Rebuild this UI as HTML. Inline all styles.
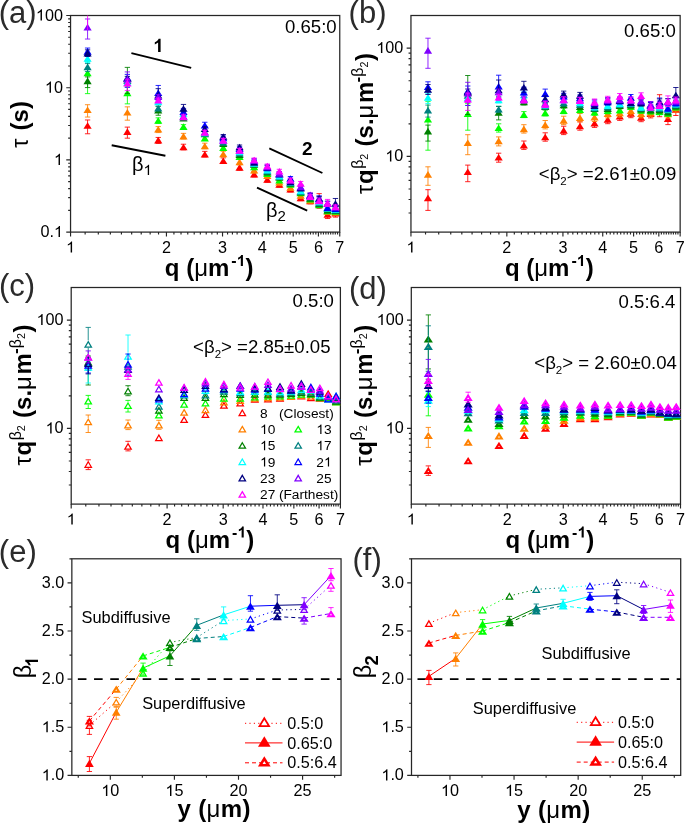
<!DOCTYPE html>
<html><head><meta charset="utf-8"><style>
html,body{margin:0;padding:0;background:#fff;}
svg{display:block;will-change:transform;}
svg text{font-family:"Liberation Sans",sans-serif;}
</style></head><body>
<svg width="685" height="824" viewBox="0 0 685 824">
<rect width="685" height="824" fill="#fff"/>
<path d="M85.13,232.10V234.50M98.31,232.10V234.50M110.35,232.10V234.50M121.42,232.10V234.50M131.67,232.10V234.50M141.22,232.10V234.50M150.15,232.10V234.50M158.53,232.10V234.50M173.92,232.10V234.50M181.02,232.10V234.50M187.77,232.10V234.50M194.20,232.10V234.50M200.35,232.10V234.50M206.24,232.10V234.50M211.89,232.10V234.50M217.31,232.10V234.50M227.56,232.10V234.50M232.42,232.10V234.50M237.11,232.10V234.50M241.65,232.10V234.50M246.04,232.10V234.50M250.29,232.10V234.50M254.42,232.10V234.50M258.43,232.10V234.50M266.12,232.10V234.50M269.81,232.10V234.50M273.41,232.10V234.50M276.91,232.10V234.50M280.32,232.10V234.50M283.66,232.10V234.50M286.91,232.10V234.50M290.09,232.10V234.50M296.24,232.10V234.50M299.22,232.10V234.50M302.13,232.10V234.50M304.98,232.10V234.50M307.78,232.10V234.50M310.52,232.10V234.50M313.20,232.10V234.50M315.84,232.10V234.50M320.96,232.10V234.50M323.46,232.10V234.50M325.90,232.10V234.50M328.31,232.10V234.50M330.68,232.10V234.50M333.00,232.10V234.50M335.29,232.10V234.50M337.54,232.10V234.50M70.55,210.37H68.15M70.55,197.65H68.15M70.55,188.63H68.15M70.55,181.63H68.15M70.55,175.92H68.15M70.55,171.08H68.15M70.55,166.90H68.15M70.55,163.20H68.15M70.55,138.17H68.15M70.55,125.45H68.15M70.55,116.43H68.15M70.55,109.43H68.15M70.55,103.72H68.15M70.55,98.88H68.15M70.55,94.70H68.15M70.55,91.00H68.15M70.55,65.97H68.15M70.55,53.25H68.15M70.55,44.23H68.15M70.55,37.23H68.15M70.55,31.52H68.15M70.55,26.68H68.15M70.55,22.50H68.15M70.55,18.80H68.15M70.55,232.10V236.40M166.44,232.10V236.40M222.53,232.10V236.40M262.33,232.10V236.40M293.20,232.10V236.40M318.42,232.10V236.40M339.75,232.10V236.40M70.55,232.10H66.25M70.55,159.90H66.25M70.55,87.70H66.25M70.55,15.50H66.25" stroke="#262626" stroke-width="1.15" fill="none"/>
<rect x="70.55" y="15.50" width="269.20" height="216.60" stroke="#262626" stroke-width="1.25" fill="none"/>
<path d="M425.53,232.10V234.50M438.71,232.10V234.50M450.75,232.10V234.50M461.82,232.10V234.50M472.07,232.10V234.50M481.62,232.10V234.50M490.55,232.10V234.50M498.93,232.10V234.50M514.32,232.10V234.50M521.42,232.10V234.50M528.17,232.10V234.50M534.60,232.10V234.50M540.75,232.10V234.50M546.64,232.10V234.50M552.29,232.10V234.50M557.71,232.10V234.50M567.96,232.10V234.50M572.82,232.10V234.50M577.51,232.10V234.50M582.05,232.10V234.50M586.44,232.10V234.50M590.69,232.10V234.50M594.82,232.10V234.50M598.83,232.10V234.50M606.52,232.10V234.50M610.21,232.10V234.50M613.81,232.10V234.50M617.31,232.10V234.50M620.72,232.10V234.50M624.06,232.10V234.50M627.31,232.10V234.50M630.49,232.10V234.50M636.64,232.10V234.50M639.62,232.10V234.50M642.53,232.10V234.50M645.38,232.10V234.50M648.18,232.10V234.50M650.92,232.10V234.50M653.60,232.10V234.50M656.24,232.10V234.50M661.36,232.10V234.50M663.86,232.10V234.50M666.30,232.10V234.50M668.71,232.10V234.50M671.08,232.10V234.50M673.40,232.10V234.50M675.69,232.10V234.50M677.94,232.10V234.50M410.95,213.03H408.55M410.95,199.50H408.55M410.95,189.00H408.55M410.95,180.43H408.55M410.95,173.18H408.55M410.95,166.90H408.55M410.95,161.36H408.55M410.95,123.80H408.55M410.95,104.73H408.55M410.95,91.20H408.55M410.95,80.70H408.55M410.95,72.13H408.55M410.95,64.88H408.55M410.95,58.60H408.55M410.95,53.06H408.55M410.95,232.10V236.40M506.84,232.10V236.40M562.93,232.10V236.40M602.73,232.10V236.40M633.60,232.10V236.40M658.82,232.10V236.40M680.15,232.10V236.40M410.95,156.40H406.65M410.95,48.10H406.65" stroke="#262626" stroke-width="1.15" fill="none"/>
<rect x="410.95" y="15.50" width="269.20" height="216.60" stroke="#262626" stroke-width="1.25" fill="none"/>
<path d="M85.78,504.10V506.50M98.96,504.10V506.50M111.00,504.10V506.50M122.07,504.10V506.50M132.32,504.10V506.50M141.87,504.10V506.50M150.80,504.10V506.50M159.18,504.10V506.50M174.57,504.10V506.50M181.67,504.10V506.50M188.42,504.10V506.50M194.85,504.10V506.50M201.00,504.10V506.50M206.89,504.10V506.50M212.54,504.10V506.50M217.96,504.10V506.50M228.21,504.10V506.50M233.07,504.10V506.50M237.76,504.10V506.50M242.30,504.10V506.50M246.69,504.10V506.50M250.94,504.10V506.50M255.07,504.10V506.50M259.08,504.10V506.50M266.77,504.10V506.50M270.46,504.10V506.50M274.06,504.10V506.50M277.56,504.10V506.50M280.97,504.10V506.50M284.31,504.10V506.50M287.56,504.10V506.50M290.74,504.10V506.50M296.89,504.10V506.50M299.87,504.10V506.50M302.78,504.10V506.50M305.63,504.10V506.50M308.43,504.10V506.50M311.17,504.10V506.50M313.85,504.10V506.50M316.49,504.10V506.50M321.61,504.10V506.50M324.11,504.10V506.50M326.55,504.10V506.50M328.96,504.10V506.50M331.33,504.10V506.50M333.65,504.10V506.50M335.94,504.10V506.50M338.19,504.10V506.50M71.20,485.03H68.80M71.20,471.50H68.80M71.20,461.00H68.80M71.20,452.43H68.80M71.20,445.18H68.80M71.20,438.90H68.80M71.20,433.36H68.80M71.20,395.80H68.80M71.20,376.73H68.80M71.20,363.20H68.80M71.20,352.70H68.80M71.20,344.13H68.80M71.20,336.88H68.80M71.20,330.60H68.80M71.20,325.06H68.80M71.20,504.10V508.40M167.09,504.10V508.40M223.18,504.10V508.40M262.98,504.10V508.40M293.85,504.10V508.40M319.07,504.10V508.40M340.40,504.10V508.40M71.20,428.40H66.90M71.20,320.10H66.90" stroke="#262626" stroke-width="1.15" fill="none"/>
<rect x="71.20" y="287.50" width="269.20" height="216.60" stroke="#262626" stroke-width="1.25" fill="none"/>
<path d="M425.88,504.10V506.50M439.06,504.10V506.50M451.10,504.10V506.50M462.17,504.10V506.50M472.42,504.10V506.50M481.97,504.10V506.50M490.90,504.10V506.50M499.28,504.10V506.50M514.67,504.10V506.50M521.77,504.10V506.50M528.52,504.10V506.50M534.95,504.10V506.50M541.10,504.10V506.50M546.99,504.10V506.50M552.64,504.10V506.50M558.06,504.10V506.50M568.31,504.10V506.50M573.17,504.10V506.50M577.86,504.10V506.50M582.40,504.10V506.50M586.79,504.10V506.50M591.04,504.10V506.50M595.17,504.10V506.50M599.18,504.10V506.50M606.87,504.10V506.50M610.56,504.10V506.50M614.16,504.10V506.50M617.66,504.10V506.50M621.07,504.10V506.50M624.41,504.10V506.50M627.66,504.10V506.50M630.84,504.10V506.50M636.99,504.10V506.50M639.97,504.10V506.50M642.88,504.10V506.50M645.73,504.10V506.50M648.53,504.10V506.50M651.27,504.10V506.50M653.95,504.10V506.50M656.59,504.10V506.50M661.71,504.10V506.50M664.21,504.10V506.50M666.65,504.10V506.50M669.06,504.10V506.50M671.43,504.10V506.50M673.75,504.10V506.50M676.04,504.10V506.50M678.29,504.10V506.50M411.30,485.03H408.90M411.30,471.50H408.90M411.30,461.00H408.90M411.30,452.43H408.90M411.30,445.18H408.90M411.30,438.90H408.90M411.30,433.36H408.90M411.30,395.80H408.90M411.30,376.73H408.90M411.30,363.20H408.90M411.30,352.70H408.90M411.30,344.13H408.90M411.30,336.88H408.90M411.30,330.60H408.90M411.30,325.06H408.90M411.30,504.10V508.40M507.19,504.10V508.40M563.28,504.10V508.40M603.08,504.10V508.40M633.95,504.10V508.40M659.17,504.10V508.40M680.50,504.10V508.40M411.30,428.40H407.00M411.30,320.10H407.00" stroke="#262626" stroke-width="1.15" fill="none"/>
<rect x="411.30" y="287.50" width="269.20" height="216.60" stroke="#262626" stroke-width="1.25" fill="none"/>
<path d="M78.26,775.40V777.80M142.35,775.40V777.80M206.45,775.40V777.80M270.55,775.40V777.80M334.64,775.40V777.80M71.85,751.33H69.45M71.85,703.20H69.45M71.85,655.07H69.45M71.85,606.93H69.45M71.85,558.80H69.45M110.31,775.40V779.70M174.40,775.40V779.70M238.50,775.40V779.70M302.59,775.40V779.70M71.85,775.40H67.55M71.85,727.27H67.55M71.85,679.13H67.55M71.85,631.00H67.55M71.85,582.87H67.55" stroke="#262626" stroke-width="1.15" fill="none"/>
<rect x="71.85" y="558.80" width="269.20" height="216.60" stroke="#262626" stroke-width="1.25" fill="none"/>
<path d="M417.91,775.40V777.80M482.00,775.40V777.80M546.10,775.40V777.80M610.20,775.40V777.80M674.29,775.40V777.80M411.50,751.33H409.10M411.50,703.20H409.10M411.50,655.07H409.10M411.50,606.93H409.10M411.50,558.80H409.10M449.96,775.40V779.70M514.05,775.40V779.70M578.15,775.40V779.70M642.24,775.40V779.70M411.50,775.40H407.20M411.50,727.27H407.20M411.50,679.13H407.20M411.50,631.00H407.20M411.50,582.87H407.20" stroke="#262626" stroke-width="1.15" fill="none"/>
<rect x="411.50" y="558.80" width="269.20" height="216.60" stroke="#262626" stroke-width="1.25" fill="none"/>
<path transform="translate(66.05,252.60) scale(0.00791,-0.00760)" d="M763 0H583V1147C540 1106 483 1064 413 1023C343 982 280 951 224 930V1104C325 1151 413 1208 489 1275C565 1342 619 1407 651 1466H763Z" fill="#000"/>
<text x="166.44" y="252.60" font-size="16.2" text-anchor="middle" font-weight="normal" fill="#000" >2</text>
<text x="222.53" y="252.60" font-size="16.2" text-anchor="middle" font-weight="normal" fill="#000" >3</text>
<text x="262.33" y="252.60" font-size="16.2" text-anchor="middle" font-weight="normal" fill="#000" >4</text>
<text x="293.20" y="252.60" font-size="16.2" text-anchor="middle" font-weight="normal" fill="#000" >5</text>
<text x="318.42" y="252.60" font-size="16.2" text-anchor="middle" font-weight="normal" fill="#000" >6</text>
<text x="339.75" y="252.60" font-size="16.2" text-anchor="middle" font-weight="normal" fill="#000" >7</text>
<path transform="translate(406.45,252.60) scale(0.00791,-0.00760)" d="M763 0H583V1147C540 1106 483 1064 413 1023C343 982 280 951 224 930V1104C325 1151 413 1208 489 1275C565 1342 619 1407 651 1466H763Z" fill="#000"/>
<text x="506.84" y="252.60" font-size="16.2" text-anchor="middle" font-weight="normal" fill="#000" >2</text>
<text x="562.93" y="252.60" font-size="16.2" text-anchor="middle" font-weight="normal" fill="#000" >3</text>
<text x="602.73" y="252.60" font-size="16.2" text-anchor="middle" font-weight="normal" fill="#000" >4</text>
<text x="633.60" y="252.60" font-size="16.2" text-anchor="middle" font-weight="normal" fill="#000" >5</text>
<text x="658.82" y="252.60" font-size="16.2" text-anchor="middle" font-weight="normal" fill="#000" >6</text>
<text x="680.15" y="252.60" font-size="16.2" text-anchor="middle" font-weight="normal" fill="#000" >7</text>
<path transform="translate(66.70,524.60) scale(0.00791,-0.00760)" d="M763 0H583V1147C540 1106 483 1064 413 1023C343 982 280 951 224 930V1104C325 1151 413 1208 489 1275C565 1342 619 1407 651 1466H763Z" fill="#000"/>
<text x="167.09" y="524.60" font-size="16.2" text-anchor="middle" font-weight="normal" fill="#000" >2</text>
<text x="223.18" y="524.60" font-size="16.2" text-anchor="middle" font-weight="normal" fill="#000" >3</text>
<text x="262.98" y="524.60" font-size="16.2" text-anchor="middle" font-weight="normal" fill="#000" >4</text>
<text x="293.85" y="524.60" font-size="16.2" text-anchor="middle" font-weight="normal" fill="#000" >5</text>
<text x="319.07" y="524.60" font-size="16.2" text-anchor="middle" font-weight="normal" fill="#000" >6</text>
<text x="340.40" y="524.60" font-size="16.2" text-anchor="middle" font-weight="normal" fill="#000" >7</text>
<path transform="translate(406.80,524.60) scale(0.00791,-0.00760)" d="M763 0H583V1147C540 1106 483 1064 413 1023C343 982 280 951 224 930V1104C325 1151 413 1208 489 1275C565 1342 619 1407 651 1466H763Z" fill="#000"/>
<text x="507.19" y="524.60" font-size="16.2" text-anchor="middle" font-weight="normal" fill="#000" >2</text>
<text x="563.28" y="524.60" font-size="16.2" text-anchor="middle" font-weight="normal" fill="#000" >3</text>
<text x="603.08" y="524.60" font-size="16.2" text-anchor="middle" font-weight="normal" fill="#000" >4</text>
<text x="633.95" y="524.60" font-size="16.2" text-anchor="middle" font-weight="normal" fill="#000" >5</text>
<text x="659.17" y="524.60" font-size="16.2" text-anchor="middle" font-weight="normal" fill="#000" >6</text>
<text x="680.50" y="524.60" font-size="16.2" text-anchor="middle" font-weight="normal" fill="#000" >7</text>
<path transform="translate(35.92,20.50) scale(0.00791,-0.00760)" d="M763 0H583V1147C540 1106 483 1064 413 1023C343 982 280 951 224 930V1104C325 1151 413 1208 489 1275C565 1342 619 1407 651 1466H763Z" fill="#000"/><text x="44.93" y="20.50" font-size="16.2" fill="#000" xml:space="preserve">00</text>
<path transform="translate(44.93,92.70) scale(0.00791,-0.00760)" d="M763 0H583V1147C540 1106 483 1064 413 1023C343 982 280 951 224 930V1104C325 1151 413 1208 489 1275C565 1342 619 1407 651 1466H763Z" fill="#000"/><text x="53.94" y="92.70" font-size="16.2" fill="#000" xml:space="preserve">0</text>
<path transform="translate(53.94,164.90) scale(0.00791,-0.00760)" d="M763 0H583V1147C540 1106 483 1064 413 1023C343 982 280 951 224 930V1104C325 1151 413 1208 489 1275C565 1342 619 1407 651 1466H763Z" fill="#000"/>
<text x="40.43" y="237.10" font-size="16.2" fill="#000" xml:space="preserve">0.</text><path transform="translate(53.94,237.10) scale(0.00791,-0.00760)" d="M763 0H583V1147C540 1106 483 1064 413 1023C343 982 280 951 224 930V1104C325 1151 413 1208 489 1275C565 1342 619 1407 651 1466H763Z" fill="#000"/>
<path transform="translate(376.32,53.10) scale(0.00791,-0.00760)" d="M763 0H583V1147C540 1106 483 1064 413 1023C343 982 280 951 224 930V1104C325 1151 413 1208 489 1275C565 1342 619 1407 651 1466H763Z" fill="#000"/><text x="385.33" y="53.10" font-size="16.2" fill="#000" xml:space="preserve">00</text>
<path transform="translate(385.33,161.40) scale(0.00791,-0.00760)" d="M763 0H583V1147C540 1106 483 1064 413 1023C343 982 280 951 224 930V1104C325 1151 413 1208 489 1275C565 1342 619 1407 651 1466H763Z" fill="#000"/><text x="394.34" y="161.40" font-size="16.2" fill="#000" xml:space="preserve">0</text>
<path transform="translate(36.57,325.10) scale(0.00791,-0.00760)" d="M763 0H583V1147C540 1106 483 1064 413 1023C343 982 280 951 224 930V1104C325 1151 413 1208 489 1275C565 1342 619 1407 651 1466H763Z" fill="#000"/><text x="45.58" y="325.10" font-size="16.2" fill="#000" xml:space="preserve">00</text>
<path transform="translate(45.58,433.40) scale(0.00791,-0.00760)" d="M763 0H583V1147C540 1106 483 1064 413 1023C343 982 280 951 224 930V1104C325 1151 413 1208 489 1275C565 1342 619 1407 651 1466H763Z" fill="#000"/><text x="54.59" y="433.40" font-size="16.2" fill="#000" xml:space="preserve">0</text>
<path transform="translate(376.67,325.10) scale(0.00791,-0.00760)" d="M763 0H583V1147C540 1106 483 1064 413 1023C343 982 280 951 224 930V1104C325 1151 413 1208 489 1275C565 1342 619 1407 651 1466H763Z" fill="#000"/><text x="385.68" y="325.10" font-size="16.2" fill="#000" xml:space="preserve">00</text>
<path transform="translate(385.68,433.40) scale(0.00791,-0.00760)" d="M763 0H583V1147C540 1106 483 1064 413 1023C343 982 280 951 224 930V1104C325 1151 413 1208 489 1275C565 1342 619 1407 651 1466H763Z" fill="#000"/><text x="394.69" y="433.40" font-size="16.2" fill="#000" xml:space="preserve">0</text>
<path transform="translate(101.30,795.90) scale(0.00791,-0.00760)" d="M763 0H583V1147C540 1106 483 1064 413 1023C343 982 280 951 224 930V1104C325 1151 413 1208 489 1275C565 1342 619 1407 651 1466H763Z" fill="#000"/><text x="110.31" y="795.90" font-size="16.2" fill="#000" xml:space="preserve">0</text>
<path transform="translate(165.39,795.90) scale(0.00791,-0.00760)" d="M763 0H583V1147C540 1106 483 1064 413 1023C343 982 280 951 224 930V1104C325 1151 413 1208 489 1275C565 1342 619 1407 651 1466H763Z" fill="#000"/><text x="174.40" y="795.90" font-size="16.2" fill="#000" xml:space="preserve">5</text>
<text x="238.50" y="795.90" font-size="16.2" text-anchor="middle" font-weight="normal" fill="#000" >20</text>
<text x="302.59" y="795.90" font-size="16.2" text-anchor="middle" font-weight="normal" fill="#000" >25</text>
<path transform="translate(41.73,780.40) scale(0.00791,-0.00760)" d="M763 0H583V1147C540 1106 483 1064 413 1023C343 982 280 951 224 930V1104C325 1151 413 1208 489 1275C565 1342 619 1407 651 1466H763Z" fill="#000"/><text x="50.74" y="780.40" font-size="16.2" fill="#000" xml:space="preserve">.0</text>
<path transform="translate(41.73,732.27) scale(0.00791,-0.00760)" d="M763 0H583V1147C540 1106 483 1064 413 1023C343 982 280 951 224 930V1104C325 1151 413 1208 489 1275C565 1342 619 1407 651 1466H763Z" fill="#000"/><text x="50.74" y="732.27" font-size="16.2" fill="#000" xml:space="preserve">.5</text>
<text x="64.25" y="684.13" font-size="16.2" text-anchor="end" font-weight="normal" fill="#000" >2.0</text>
<text x="64.25" y="636.00" font-size="16.2" text-anchor="end" font-weight="normal" fill="#000" >2.5</text>
<text x="64.25" y="587.87" font-size="16.2" text-anchor="end" font-weight="normal" fill="#000" >3.0</text>
<path transform="translate(440.95,795.90) scale(0.00791,-0.00760)" d="M763 0H583V1147C540 1106 483 1064 413 1023C343 982 280 951 224 930V1104C325 1151 413 1208 489 1275C565 1342 619 1407 651 1466H763Z" fill="#000"/><text x="449.96" y="795.90" font-size="16.2" fill="#000" xml:space="preserve">0</text>
<path transform="translate(505.04,795.90) scale(0.00791,-0.00760)" d="M763 0H583V1147C540 1106 483 1064 413 1023C343 982 280 951 224 930V1104C325 1151 413 1208 489 1275C565 1342 619 1407 651 1466H763Z" fill="#000"/><text x="514.05" y="795.90" font-size="16.2" fill="#000" xml:space="preserve">5</text>
<text x="578.15" y="795.90" font-size="16.2" text-anchor="middle" font-weight="normal" fill="#000" >20</text>
<text x="642.24" y="795.90" font-size="16.2" text-anchor="middle" font-weight="normal" fill="#000" >25</text>
<path transform="translate(381.38,780.40) scale(0.00791,-0.00760)" d="M763 0H583V1147C540 1106 483 1064 413 1023C343 982 280 951 224 930V1104C325 1151 413 1208 489 1275C565 1342 619 1407 651 1466H763Z" fill="#000"/><text x="390.39" y="780.40" font-size="16.2" fill="#000" xml:space="preserve">.0</text>
<path transform="translate(381.38,732.27) scale(0.00791,-0.00760)" d="M763 0H583V1147C540 1106 483 1064 413 1023C343 982 280 951 224 930V1104C325 1151 413 1208 489 1275C565 1342 619 1407 651 1466H763Z" fill="#000"/><text x="390.39" y="732.27" font-size="16.2" fill="#000" xml:space="preserve">.5</text>
<text x="403.90" y="684.13" font-size="16.2" text-anchor="end" font-weight="normal" fill="#000" >2.0</text>
<text x="403.90" y="636.00" font-size="16.2" text-anchor="end" font-weight="normal" fill="#000" >2.5</text>
<text x="403.90" y="587.87" font-size="16.2" text-anchor="end" font-weight="normal" fill="#000" >3.0</text>
<text x="-1.30" y="23.40" font-size="31" text-anchor="start" font-weight="normal" fill="#2b2b2b" >(a)</text>
<text x="348.60" y="23.40" font-size="31" text-anchor="start" font-weight="normal" fill="#2b2b2b" >(b)</text>
<text x="-1.00" y="296.10" font-size="31" text-anchor="start" font-weight="normal" fill="#2b2b2b" >(c)</text>
<text x="349.00" y="298.90" font-size="31" text-anchor="start" font-weight="normal" fill="#2b2b2b" >(d)</text>
<text x="-1.20" y="562.30" font-size="31" text-anchor="start" font-weight="normal" fill="#2b2b2b" >(e)</text>
<text x="352.50" y="570.20" font-size="31" text-anchor="start" font-weight="normal" fill="#2b2b2b" >(f)</text>
<text x="164.82" y="276.30" font-size="24" font-weight="bold" fill="#000" xml:space="preserve">q (</text><text x="194.14" y="276.30" font-size="24" fill="#000" xml:space="preserve">μ</text><text x="207.96" y="276.30" font-size="24" font-weight="bold" fill="#000" xml:space="preserve">m</text><text x="229.30" y="276.30" font-size="7.198594024604569" fill="#000" xml:space="preserve"> </text><text x="231.30" y="265.90" font-size="16" font-weight="bold" fill="#000" xml:space="preserve">-</text><path transform="translate(236.63,265.90) scale(0.00781,-0.00751)" d="M806 0H536V1040C436 946 318 877 182 832V1082C254 1106 332 1150 416 1215C500 1280 557 1356 588 1443V1466H806Z" fill="#000"/><text x="245.53" y="276.30" font-size="24" font-weight="bold" fill="#000" xml:space="preserve">)</text>
<text x="504.92" y="276.30" font-size="24" font-weight="bold" fill="#000" xml:space="preserve">q (</text><text x="534.24" y="276.30" font-size="24" fill="#000" xml:space="preserve">μ</text><text x="548.06" y="276.30" font-size="24" font-weight="bold" fill="#000" xml:space="preserve">m</text><text x="569.40" y="276.30" font-size="7.198594024604569" fill="#000" xml:space="preserve"> </text><text x="571.40" y="265.90" font-size="16" font-weight="bold" fill="#000" xml:space="preserve">-</text><path transform="translate(576.73,265.90) scale(0.00781,-0.00751)" d="M806 0H536V1040C436 946 318 877 182 832V1082C254 1106 332 1150 416 1215C500 1280 557 1356 588 1443V1466H806Z" fill="#000"/><text x="585.63" y="276.30" font-size="24" font-weight="bold" fill="#000" xml:space="preserve">)</text>
<text x="165.62" y="547.90" font-size="24" font-weight="bold" fill="#000" xml:space="preserve">q (</text><text x="194.94" y="547.90" font-size="24" fill="#000" xml:space="preserve">μ</text><text x="208.76" y="547.90" font-size="24" font-weight="bold" fill="#000" xml:space="preserve">m</text><text x="230.10" y="547.90" font-size="7.198594024604569" fill="#000" xml:space="preserve"> </text><text x="232.10" y="537.50" font-size="16" font-weight="bold" fill="#000" xml:space="preserve">-</text><path transform="translate(237.43,537.50) scale(0.00781,-0.00751)" d="M806 0H536V1040C436 946 318 877 182 832V1082C254 1106 332 1150 416 1215C500 1280 557 1356 588 1443V1466H806Z" fill="#000"/><text x="246.33" y="547.90" font-size="24" font-weight="bold" fill="#000" xml:space="preserve">)</text>
<text x="505.62" y="547.90" font-size="24" font-weight="bold" fill="#000" xml:space="preserve">q (</text><text x="534.94" y="547.90" font-size="24" fill="#000" xml:space="preserve">μ</text><text x="548.76" y="547.90" font-size="24" font-weight="bold" fill="#000" xml:space="preserve">m</text><text x="570.10" y="547.90" font-size="7.198594024604569" fill="#000" xml:space="preserve"> </text><text x="572.10" y="537.50" font-size="16" font-weight="bold" fill="#000" xml:space="preserve">-</text><path transform="translate(577.43,537.50) scale(0.00781,-0.00751)" d="M806 0H536V1040C436 946 318 877 182 832V1082C254 1106 332 1150 416 1215C500 1280 557 1356 588 1443V1466H806Z" fill="#000"/><text x="586.33" y="547.90" font-size="24" font-weight="bold" fill="#000" xml:space="preserve">)</text>
<text x="177.51" y="817.40" font-size="24" font-weight="bold" letter-spacing="0.35">y (<tspan font-weight="normal">μ</tspan>m)</text>
<text x="517.21" y="817.60" font-size="24" font-weight="bold" letter-spacing="0.35">y (<tspan font-weight="normal">μ</tspan>m)</text>
<g transform="translate(373.40,193.70) rotate(-90)"><text x="-0.33" y="0.00" font-size="23">τ</text><text x="9.62" y="0.00" font-size="24" font-weight="bold">q</text><text x="24.99" y="-10.00" font-size="16">β</text><text x="34.06" y="-5.50" font-size="10.7">2</text><text x="47.30" y="0.00" font-size="24" font-weight="bold">(s.</text><text x="75.08" y="0.00" font-size="24">μ</text><text x="90.62" y="0.00" font-size="24" font-weight="bold">m</text><text x="111.47" y="-10.00" font-size="16" font-weight="bold">-</text><text x="116.89" y="-10.00" font-size="16">β</text><text x="126.16" y="-5.50" font-size="10.7">2</text><text x="132.77" y="0.00" font-size="24" font-weight="bold">)</text></g>
<g transform="translate(30.50,465.20) rotate(-90)"><text x="-0.33" y="0.00" font-size="23">τ</text><text x="9.62" y="0.00" font-size="24" font-weight="bold">q</text><text x="24.99" y="-10.00" font-size="16">β</text><text x="34.06" y="-5.50" font-size="10.7">2</text><text x="47.30" y="0.00" font-size="24" font-weight="bold">(s.</text><text x="75.08" y="0.00" font-size="24">μ</text><text x="90.62" y="0.00" font-size="24" font-weight="bold">m</text><text x="111.47" y="-10.00" font-size="16" font-weight="bold">-</text><text x="116.89" y="-10.00" font-size="16">β</text><text x="126.16" y="-5.50" font-size="10.7">2</text><text x="132.77" y="0.00" font-size="24" font-weight="bold">)</text></g>
<g transform="translate(372.00,465.40) rotate(-90)"><text x="-0.33" y="0.00" font-size="23">τ</text><text x="9.62" y="0.00" font-size="24" font-weight="bold">q</text><text x="24.99" y="-10.00" font-size="16">β</text><text x="34.06" y="-5.50" font-size="10.7">2</text><text x="47.30" y="0.00" font-size="24" font-weight="bold">(s.</text><text x="75.08" y="0.00" font-size="24">μ</text><text x="90.62" y="0.00" font-size="24" font-weight="bold">m</text><text x="111.47" y="-10.00" font-size="16" font-weight="bold">-</text><text x="116.89" y="-10.00" font-size="16">β</text><text x="126.16" y="-5.50" font-size="10.7">2</text><text x="132.77" y="0.00" font-size="24" font-weight="bold">)</text></g>
<g transform="translate(28.20,147.40) rotate(-90)"><text x="-0.33" y="0.00" font-size="23">τ</text><text x="17.00" y="0.00" font-size="24" font-weight="bold">(s)</text></g>
<g transform="translate(31.30,676.70) rotate(-90)"><text x="-1.63" y="0.00" font-size="23.5">β</text><path transform="translate(9.76,6.70) scale(0.00903,-0.00868)" d="M806 0H536V1040C436 946 318 877 182 832V1082C254 1106 332 1150 416 1215C500 1280 557 1356 588 1443V1466H806Z" fill="#000"/></g>
<g transform="translate(370.90,676.70) rotate(-90)"><text x="-1.63" y="0.00" font-size="23.5">β</text><text x="11.26" y="6.70" font-size="18.5" font-weight="bold">2</text></g>
<text x="284.97" y="32.90" font-size="18.6" text-anchor="start" font-weight="normal" fill="#000" >0.65:0</text>
<text x="624.07" y="37.40" font-size="18.6" text-anchor="start" font-weight="normal" fill="#000" >0.65:0</text>
<text x="292.57" y="307.00" font-size="18.6" text-anchor="start" font-weight="normal" fill="#000" >0.5:0</text>
<text x="618.57" y="308.20" font-size="18.6" text-anchor="start" font-weight="normal" fill="#000" >0.5:6.4</text>
<text x="538.80" y="180.00" font-size="18.6" fill="#000" xml:space="preserve">&lt;β</text><text x="560.36" y="185.40" font-size="11.5" fill="#000" xml:space="preserve">2</text><text x="566.76" y="180.00" font-size="18.6" fill="#000" xml:space="preserve">&gt; =2.6</text><path transform="translate(619.50,180.00) scale(0.00908,-0.00873)" d="M763 0H583V1147C540 1106 483 1064 413 1023C343 982 280 951 224 930V1104C325 1151 413 1208 489 1275C565 1342 619 1407 651 1466H763Z" fill="#000"/><text x="629.85" y="180.00" font-size="18.6" fill="#000" xml:space="preserve">±0.09</text>
<text x="193.10" y="352.60" font-size="18.6" fill="#000" xml:space="preserve">&lt;β</text><text x="214.66" y="358.00" font-size="11.5" fill="#000" xml:space="preserve">2</text><text x="221.06" y="352.60" font-size="18.6" fill="#000" xml:space="preserve">&gt; =2.85±0.05</text>
<text x="534.30" y="369.00" font-size="18.6" fill="#000" xml:space="preserve">&lt;β</text><text x="555.86" y="374.40" font-size="11.5" fill="#000" xml:space="preserve">2</text><text x="562.26" y="369.00" font-size="18.6" fill="#000" xml:space="preserve">&gt; = 2.60±0.04</text>
<path d="M131.4,53.1L191.2,67.9M111.7,145.3L165.4,155.8M269.3,148.4L322.4,173M257,187.6L307.2,210.7" stroke="#000" stroke-width="1.9" fill="none"/>
<path transform="translate(153.12,51.90) scale(0.00928,-0.00892)" d="M806 0H536V1040C436 946 318 877 182 832V1082C254 1106 332 1150 416 1215C500 1280 557 1356 588 1443V1466H806Z" fill="#000"/>
<text x="307.20" y="154.90" font-size="19" text-anchor="middle" font-weight="bold" fill="#000" >2</text>
<text x="132.00" y="171.00" font-size="20" fill="#000" xml:space="preserve">β</text><path transform="translate(143.50,175.00) scale(0.00732,-0.00704)" d="M763 0H583V1147C540 1106 483 1064 413 1023C343 982 280 951 224 930V1104C325 1151 413 1208 489 1275C565 1342 619 1407 651 1466H763Z" fill="#000"/>
<text x="266" y="217" font-size="20">β<tspan font-size="15" dy="4">2</tspan></text>
<text x="81.56" y="623.00" font-size="16.4" text-anchor="start" font-weight="normal" fill="#000" >Subdiffusive</text>
<text x="142.16" y="709.00" font-size="16.4" text-anchor="start" font-weight="normal" fill="#000" >Superdiffusive</text>
<text x="541.56" y="658.60" font-size="16.4" text-anchor="start" font-weight="normal" fill="#000" >Subdiffusive</text>
<text x="472.76" y="713.60" font-size="16.4" text-anchor="start" font-weight="normal" fill="#000" >Superdiffusive</text>
<line x1="77.85" y1="679.13" x2="341.05" y2="679.13" stroke="#000" stroke-width="1.8" stroke-dasharray="8.6,7.6"/>
<line x1="417.50" y1="679.13" x2="680.70" y2="679.13" stroke="#000" stroke-width="1.8" stroke-dasharray="8.6,7.6"/>
<clipPath id="cpa"><rect x="69.55" y="15.50" width="271.20" height="216.60"/></clipPath>
<g clip-path="url(#cpa)">
<path d="M87.58,119.97V133.77M84.93,119.97h5.3M84.93,133.77h5.3" stroke="#ff0000" stroke-width="1.0" fill="none" opacity="0.85"/>
<polygon points="87.58,122.14 91.68,128.74 83.48,128.74" fill="#ff0000"/>
<path d="M127.38,127.12V138.18M124.73,127.12h5.3M124.73,138.18h5.3" stroke="#ff0000" stroke-width="1.0" fill="none" opacity="0.85"/>
<polygon points="127.38,128.28 131.48,134.88 123.28,134.88" fill="#ff0000"/>
<path d="M158.25,137.45V143.45M155.60,137.45h5.3M155.60,143.45h5.3" stroke="#ff0000" stroke-width="1.0" fill="none" opacity="0.85"/>
<polygon points="158.25,136.81 162.35,143.41 154.15,143.41" fill="#ff0000"/>
<path d="M183.47,144.23V149.83M180.82,144.23h5.3M180.82,149.83h5.3" stroke="#ff0000" stroke-width="1.0" fill="none" opacity="0.85"/>
<polygon points="183.47,143.73 187.57,150.33 179.37,150.33" fill="#ff0000"/>
<path d="M204.80,151.38V156.98M202.15,151.38h5.3M202.15,156.98h5.3" stroke="#ff0000" stroke-width="1.0" fill="none" opacity="0.85"/>
<polygon points="204.80,150.88 208.90,157.48 200.70,157.48" fill="#ff0000"/>
<path d="M223.27,157.91V163.51M220.62,157.91h5.3M220.62,163.51h5.3" stroke="#ff0000" stroke-width="1.0" fill="none" opacity="0.85"/>
<polygon points="223.27,157.41 227.37,164.01 219.17,164.01" fill="#ff0000"/>
<path d="M239.56,164.62V170.22M236.91,164.62h5.3M236.91,170.22h5.3" stroke="#ff0000" stroke-width="1.0" fill="none" opacity="0.85"/>
<polygon points="239.56,164.12 243.66,170.72 235.46,170.72" fill="#ff0000"/>
<path d="M254.14,171.37V176.97M251.49,171.37h5.3M251.49,176.97h5.3" stroke="#ff0000" stroke-width="1.0" fill="none" opacity="0.85"/>
<polygon points="254.14,170.87 258.24,177.47 250.04,177.47" fill="#ff0000"/>
<path d="M267.32,176.71V182.31M264.67,176.71h5.3M264.67,182.31h5.3" stroke="#ff0000" stroke-width="1.0" fill="none" opacity="0.85"/>
<polygon points="267.32,176.21 271.42,182.81 263.22,182.81" fill="#ff0000"/>
<path d="M279.36,181.63V187.23M276.71,181.63h5.3M276.71,187.23h5.3" stroke="#ff0000" stroke-width="1.0" fill="none" opacity="0.85"/>
<polygon points="279.36,181.13 283.46,187.73 275.26,187.73" fill="#ff0000"/>
<path d="M290.44,186.38V191.98M287.79,186.38h5.3M287.79,191.98h5.3" stroke="#ff0000" stroke-width="1.0" fill="none" opacity="0.85"/>
<polygon points="290.44,185.88 294.54,192.48 286.34,192.48" fill="#ff0000"/>
<path d="M300.69,195.11V200.71M298.04,195.11h5.3M298.04,200.71h5.3" stroke="#ff0000" stroke-width="1.0" fill="none" opacity="0.85"/>
<polygon points="300.69,194.61 304.79,201.21 296.59,201.21" fill="#ff0000"/>
<path d="M310.23,198.22V203.82M307.58,198.22h5.3M307.58,203.82h5.3" stroke="#ff0000" stroke-width="1.0" fill="none" opacity="0.85"/>
<polygon points="310.23,197.72 314.33,204.32 306.13,204.32" fill="#ff0000"/>
<path d="M319.16,193.64V208.30M316.51,193.64h5.3M316.51,208.30h5.3" stroke="#ff0000" stroke-width="1.0" fill="none" opacity="0.85"/>
<polygon points="319.16,197.67 323.26,204.27 315.06,204.27" fill="#ff0000"/>
<path d="M327.55,209.87V218.53M324.90,209.87h5.3M324.90,218.53h5.3" stroke="#ff0000" stroke-width="1.0" fill="none" opacity="0.85"/>
<polygon points="327.55,211.23 331.65,217.83 323.45,217.83" fill="#ff0000"/>
<path d="M335.45,209.81V217.14M332.80,209.81h5.3M332.80,217.14h5.3" stroke="#ff0000" stroke-width="1.0" fill="none" opacity="0.85"/>
<polygon points="335.45,209.84 339.55,216.44 331.35,216.44" fill="#ff0000"/>
<path d="M87.58,104.71V117.04M84.93,104.71h5.3M84.93,117.04h5.3" stroke="#ff8000" stroke-width="1.0" fill="none" opacity="0.85"/>
<polygon points="87.58,106.47 91.68,113.07 83.48,113.07" fill="#ff8000"/>
<path d="M127.38,106.85V120.18M124.73,106.85h5.3M124.73,120.18h5.3" stroke="#ff8000" stroke-width="1.0" fill="none" opacity="0.85"/>
<polygon points="127.38,108.88 131.48,115.48 123.28,115.48" fill="#ff8000"/>
<path d="M158.25,126.58V132.58M155.60,126.58h5.3M155.60,132.58h5.3" stroke="#ff8000" stroke-width="1.0" fill="none" opacity="0.85"/>
<polygon points="158.25,125.95 162.35,132.55 154.15,132.55" fill="#ff8000"/>
<path d="M183.47,133.37V138.97M180.82,133.37h5.3M180.82,138.97h5.3" stroke="#ff8000" stroke-width="1.0" fill="none" opacity="0.85"/>
<polygon points="183.47,132.87 187.57,139.47 179.37,139.47" fill="#ff8000"/>
<path d="M204.80,143.18V148.78M202.15,143.18h5.3M202.15,148.78h5.3" stroke="#ff8000" stroke-width="1.0" fill="none" opacity="0.85"/>
<polygon points="204.80,142.68 208.90,149.28 200.70,149.28" fill="#ff8000"/>
<path d="M223.27,151.24V156.84M220.62,151.24h5.3M220.62,156.84h5.3" stroke="#ff8000" stroke-width="1.0" fill="none" opacity="0.85"/>
<polygon points="223.27,150.74 227.37,157.34 219.17,157.34" fill="#ff8000"/>
<path d="M239.56,159.08V164.68M236.91,159.08h5.3M236.91,164.68h5.3" stroke="#ff8000" stroke-width="1.0" fill="none" opacity="0.85"/>
<polygon points="239.56,158.58 243.66,165.18 235.46,165.18" fill="#ff8000"/>
<path d="M254.14,167.44V173.04M251.49,167.44h5.3M251.49,173.04h5.3" stroke="#ff8000" stroke-width="1.0" fill="none" opacity="0.85"/>
<polygon points="254.14,166.94 258.24,173.54 250.04,173.54" fill="#ff8000"/>
<path d="M267.32,172.84V178.44M264.67,172.84h5.3M264.67,178.44h5.3" stroke="#ff8000" stroke-width="1.0" fill="none" opacity="0.85"/>
<polygon points="267.32,172.34 271.42,178.94 263.22,178.94" fill="#ff8000"/>
<path d="M279.36,179.49V185.09M276.71,179.49h5.3M276.71,185.09h5.3" stroke="#ff8000" stroke-width="1.0" fill="none" opacity="0.85"/>
<polygon points="279.36,178.99 283.46,185.59 275.26,185.59" fill="#ff8000"/>
<path d="M290.44,184.58V190.18M287.79,184.58h5.3M287.79,190.18h5.3" stroke="#ff8000" stroke-width="1.0" fill="none" opacity="0.85"/>
<polygon points="290.44,184.08 294.54,190.68 286.34,190.68" fill="#ff8000"/>
<path d="M300.69,192.58V198.18M298.04,192.58h5.3M298.04,198.18h5.3" stroke="#ff8000" stroke-width="1.0" fill="none" opacity="0.85"/>
<polygon points="300.69,192.08 304.79,198.68 296.59,198.68" fill="#ff8000"/>
<path d="M310.23,197.42V203.02M307.58,197.42h5.3M307.58,203.02h5.3" stroke="#ff8000" stroke-width="1.0" fill="none" opacity="0.85"/>
<polygon points="310.23,196.92 314.33,203.52 306.13,203.52" fill="#ff8000"/>
<path d="M319.16,201.04V206.64M316.51,201.04h5.3M316.51,206.64h5.3" stroke="#ff8000" stroke-width="1.0" fill="none" opacity="0.85"/>
<polygon points="319.16,200.54 323.26,207.14 315.06,207.14" fill="#ff8000"/>
<path d="M327.55,208.67V214.27M324.90,208.67h5.3M324.90,214.27h5.3" stroke="#ff8000" stroke-width="1.0" fill="none" opacity="0.85"/>
<polygon points="327.55,208.17 331.65,214.77 323.45,214.77" fill="#ff8000"/>
<path d="M335.45,209.34V214.94M332.80,209.34h5.3M332.80,214.94h5.3" stroke="#ff8000" stroke-width="1.0" fill="none" opacity="0.85"/>
<polygon points="335.45,208.84 339.55,215.44 331.35,215.44" fill="#ff8000"/>
<path d="M87.58,61.04V93.64M84.93,61.04h5.3M84.93,93.64h5.3" stroke="#00ff00" stroke-width="1.0" fill="none" opacity="0.85"/>
<polygon points="87.58,69.74 91.68,76.34 83.48,76.34" fill="#00ff00"/>
<path d="M127.38,86.18V103.85M124.73,86.18h5.3M124.73,103.85h5.3" stroke="#00ff00" stroke-width="1.0" fill="none" opacity="0.85"/>
<polygon points="127.38,89.55 131.48,96.15 123.28,96.15" fill="#00ff00"/>
<path d="M158.25,117.85V123.38M155.60,117.85h5.3M155.60,123.38h5.3" stroke="#00ff00" stroke-width="1.0" fill="none" opacity="0.85"/>
<polygon points="158.25,117.21 162.35,123.81 154.15,123.81" fill="#00ff00"/>
<path d="M183.47,124.63V128.63M180.82,124.63h5.3M180.82,128.63h5.3" stroke="#00ff00" stroke-width="1.0" fill="none" opacity="0.85"/>
<polygon points="183.47,123.33 187.57,129.93 179.37,129.93" fill="#00ff00"/>
<path d="M204.80,136.12V140.12M202.15,136.12h5.3M202.15,140.12h5.3" stroke="#00ff00" stroke-width="1.0" fill="none" opacity="0.85"/>
<polygon points="204.80,134.82 208.90,141.42 200.70,141.42" fill="#00ff00"/>
<path d="M223.27,145.58V149.58M220.62,145.58h5.3M220.62,149.58h5.3" stroke="#00ff00" stroke-width="1.0" fill="none" opacity="0.85"/>
<polygon points="223.27,144.28 227.37,150.88 219.17,150.88" fill="#00ff00"/>
<path d="M239.56,154.62V158.62M236.91,154.62h5.3M236.91,158.62h5.3" stroke="#00ff00" stroke-width="1.0" fill="none" opacity="0.85"/>
<polygon points="239.56,153.32 243.66,159.92 235.46,159.92" fill="#00ff00"/>
<path d="M254.14,164.84V168.84M251.49,164.84h5.3M251.49,168.84h5.3" stroke="#00ff00" stroke-width="1.0" fill="none" opacity="0.85"/>
<polygon points="254.14,163.54 258.24,170.14 250.04,170.14" fill="#00ff00"/>
<path d="M267.32,171.71V175.71M264.67,171.71h5.3M264.67,175.71h5.3" stroke="#00ff00" stroke-width="1.0" fill="none" opacity="0.85"/>
<polygon points="267.32,170.41 271.42,177.01 263.22,177.01" fill="#00ff00"/>
<path d="M279.36,178.29V182.29M276.71,178.29h5.3M276.71,182.29h5.3" stroke="#00ff00" stroke-width="1.0" fill="none" opacity="0.85"/>
<polygon points="279.36,176.99 283.46,183.59 275.26,183.59" fill="#00ff00"/>
<path d="M290.44,182.44V186.44M287.79,182.44h5.3M287.79,186.44h5.3" stroke="#00ff00" stroke-width="1.0" fill="none" opacity="0.85"/>
<polygon points="290.44,181.14 294.54,187.74 286.34,187.74" fill="#00ff00"/>
<path d="M300.69,191.04V195.04M298.04,191.04h5.3M298.04,195.04h5.3" stroke="#00ff00" stroke-width="1.0" fill="none" opacity="0.85"/>
<polygon points="300.69,189.74 304.79,196.34 296.59,196.34" fill="#00ff00"/>
<path d="M310.23,197.22V201.22M307.58,197.22h5.3M307.58,201.22h5.3" stroke="#00ff00" stroke-width="1.0" fill="none" opacity="0.85"/>
<polygon points="310.23,195.92 314.33,202.52 306.13,202.52" fill="#00ff00"/>
<path d="M319.16,203.04V207.04M316.51,203.04h5.3M316.51,207.04h5.3" stroke="#00ff00" stroke-width="1.0" fill="none" opacity="0.85"/>
<polygon points="319.16,201.74 323.26,208.34 315.06,208.34" fill="#00ff00"/>
<path d="M327.55,209.00V213.00M324.90,209.00h5.3M324.90,213.00h5.3" stroke="#00ff00" stroke-width="1.0" fill="none" opacity="0.85"/>
<polygon points="327.55,207.70 331.65,214.30 323.45,214.30" fill="#00ff00"/>
<path d="M335.45,209.48V213.48M332.80,209.48h5.3M332.80,213.48h5.3" stroke="#00ff00" stroke-width="1.0" fill="none" opacity="0.85"/>
<polygon points="335.45,208.18 339.55,214.78 331.35,214.78" fill="#00ff00"/>
<path d="M87.58,76.91V87.57M84.93,76.91h5.3M84.93,87.57h5.3" stroke="#008000" stroke-width="1.0" fill="none" opacity="0.85"/>
<polygon points="87.58,77.61 91.68,84.21 83.48,84.21" fill="#008000"/>
<path d="M127.38,67.38V93.38M124.73,67.38h5.3M124.73,93.38h5.3" stroke="#008000" stroke-width="1.0" fill="none" opacity="0.85"/>
<polygon points="127.38,75.42 131.48,82.02 123.28,82.02" fill="#008000"/>
<path d="M158.25,106.31V115.25M155.60,106.31h5.3M155.60,115.25h5.3" stroke="#008000" stroke-width="1.0" fill="none" opacity="0.85"/>
<polygon points="158.25,107.01 162.35,113.61 154.15,113.61" fill="#008000"/>
<path d="M183.47,116.23V120.23M180.82,116.23h5.3M180.82,120.23h5.3" stroke="#008000" stroke-width="1.0" fill="none" opacity="0.85"/>
<polygon points="183.47,114.93 187.57,121.53 179.37,121.53" fill="#008000"/>
<path d="M204.80,132.05V136.05M202.15,132.05h5.3M202.15,136.05h5.3" stroke="#008000" stroke-width="1.0" fill="none" opacity="0.85"/>
<polygon points="204.80,130.75 208.90,137.35 200.70,137.35" fill="#008000"/>
<path d="M223.27,141.78V145.78M220.62,141.78h5.3M220.62,145.78h5.3" stroke="#008000" stroke-width="1.0" fill="none" opacity="0.85"/>
<polygon points="223.27,140.48 227.37,147.08 219.17,147.08" fill="#008000"/>
<path d="M239.56,152.62V156.62M236.91,152.62h5.3M236.91,156.62h5.3" stroke="#008000" stroke-width="1.0" fill="none" opacity="0.85"/>
<polygon points="239.56,151.32 243.66,157.92 235.46,157.92" fill="#008000"/>
<path d="M254.14,162.44V166.44M251.49,162.44h5.3M251.49,166.44h5.3" stroke="#008000" stroke-width="1.0" fill="none" opacity="0.85"/>
<polygon points="254.14,161.14 258.24,167.74 250.04,167.74" fill="#008000"/>
<path d="M267.32,170.24V174.24M264.67,170.24h5.3M264.67,174.24h5.3" stroke="#008000" stroke-width="1.0" fill="none" opacity="0.85"/>
<polygon points="267.32,168.94 271.42,175.54 263.22,175.54" fill="#008000"/>
<path d="M279.36,175.43V179.43M276.71,175.43h5.3M276.71,179.43h5.3" stroke="#008000" stroke-width="1.0" fill="none" opacity="0.85"/>
<polygon points="279.36,174.13 283.46,180.73 275.26,180.73" fill="#008000"/>
<path d="M290.44,181.51V185.51M287.79,181.51h5.3M287.79,185.51h5.3" stroke="#008000" stroke-width="1.0" fill="none" opacity="0.85"/>
<polygon points="290.44,180.21 294.54,186.81 286.34,186.81" fill="#008000"/>
<path d="M300.69,190.24V194.24M298.04,190.24h5.3M298.04,194.24h5.3" stroke="#008000" stroke-width="1.0" fill="none" opacity="0.85"/>
<polygon points="300.69,188.94 304.79,195.54 296.59,195.54" fill="#008000"/>
<path d="M310.23,196.56V200.56M307.58,196.56h5.3M307.58,200.56h5.3" stroke="#008000" stroke-width="1.0" fill="none" opacity="0.85"/>
<polygon points="310.23,195.26 314.33,201.86 306.13,201.86" fill="#008000"/>
<path d="M319.16,201.84V205.84M316.51,201.84h5.3M316.51,205.84h5.3" stroke="#008000" stroke-width="1.0" fill="none" opacity="0.85"/>
<polygon points="319.16,200.54 323.26,207.14 315.06,207.14" fill="#008000"/>
<path d="M327.55,208.13V212.13M324.90,208.13h5.3M324.90,212.13h5.3" stroke="#008000" stroke-width="1.0" fill="none" opacity="0.85"/>
<polygon points="327.55,206.83 331.65,213.43 323.45,213.43" fill="#008000"/>
<path d="M335.45,208.81V212.81M332.80,208.81h5.3M332.80,212.81h5.3" stroke="#008000" stroke-width="1.0" fill="none" opacity="0.85"/>
<polygon points="335.45,207.51 339.55,214.11 331.35,214.11" fill="#008000"/>
<path d="M87.58,63.57V71.57M84.93,63.57h5.3M84.93,71.57h5.3" stroke="#008080" stroke-width="1.0" fill="none" opacity="0.85"/>
<polygon points="87.58,63.61 91.68,70.21 83.48,70.21" fill="#008080"/>
<path d="M127.38,78.72V82.72M124.73,78.72h5.3M124.73,82.72h5.3" stroke="#008080" stroke-width="1.0" fill="none" opacity="0.85"/>
<polygon points="127.38,77.42 131.48,84.02 123.28,84.02" fill="#008080"/>
<path d="M158.25,106.11V110.11M155.60,106.11h5.3M155.60,110.11h5.3" stroke="#008080" stroke-width="1.0" fill="none" opacity="0.85"/>
<polygon points="158.25,104.81 162.35,111.41 154.15,111.41" fill="#008080"/>
<path d="M183.47,114.90V118.90M180.82,114.90h5.3M180.82,118.90h5.3" stroke="#008080" stroke-width="1.0" fill="none" opacity="0.85"/>
<polygon points="183.47,113.60 187.57,120.20 179.37,120.20" fill="#008080"/>
<path d="M204.80,131.52V135.52M202.15,131.52h5.3M202.15,135.52h5.3" stroke="#008080" stroke-width="1.0" fill="none" opacity="0.85"/>
<polygon points="204.80,130.22 208.90,136.82 200.70,136.82" fill="#008080"/>
<path d="M223.27,140.44V144.44M220.62,140.44h5.3M220.62,144.44h5.3" stroke="#008080" stroke-width="1.0" fill="none" opacity="0.85"/>
<polygon points="223.27,139.14 227.37,145.74 219.17,145.74" fill="#008080"/>
<path d="M239.56,151.08V155.08M236.91,151.08h5.3M236.91,155.08h5.3" stroke="#008080" stroke-width="1.0" fill="none" opacity="0.85"/>
<polygon points="239.56,149.78 243.66,156.38 235.46,156.38" fill="#008080"/>
<path d="M254.14,162.04V166.04M251.49,162.04h5.3M251.49,166.04h5.3" stroke="#008080" stroke-width="1.0" fill="none" opacity="0.85"/>
<polygon points="254.14,160.74 258.24,167.34 250.04,167.34" fill="#008080"/>
<path d="M267.32,169.17V173.17M264.67,169.17h5.3M264.67,173.17h5.3" stroke="#008080" stroke-width="1.0" fill="none" opacity="0.85"/>
<polygon points="267.32,167.87 271.42,174.47 263.22,174.47" fill="#008080"/>
<path d="M279.36,174.63V178.63M276.71,174.63h5.3M276.71,178.63h5.3" stroke="#008080" stroke-width="1.0" fill="none" opacity="0.85"/>
<polygon points="279.36,173.33 283.46,179.93 275.26,179.93" fill="#008080"/>
<path d="M290.44,180.84V184.84M287.79,180.84h5.3M287.79,184.84h5.3" stroke="#008080" stroke-width="1.0" fill="none" opacity="0.85"/>
<polygon points="290.44,179.54 294.54,186.14 286.34,186.14" fill="#008080"/>
<path d="M300.69,189.58V193.58M298.04,189.58h5.3M298.04,193.58h5.3" stroke="#008080" stroke-width="1.0" fill="none" opacity="0.85"/>
<polygon points="300.69,188.28 304.79,194.88 296.59,194.88" fill="#008080"/>
<path d="M310.23,195.22V199.22M307.58,195.22h5.3M307.58,199.22h5.3" stroke="#008080" stroke-width="1.0" fill="none" opacity="0.85"/>
<polygon points="310.23,193.92 314.33,200.52 306.13,200.52" fill="#008080"/>
<path d="M319.16,200.97V204.97M316.51,200.97h5.3M316.51,204.97h5.3" stroke="#008080" stroke-width="1.0" fill="none" opacity="0.85"/>
<polygon points="319.16,199.67 323.26,206.27 315.06,206.27" fill="#008080"/>
<path d="M327.55,206.80V210.80M324.90,206.80h5.3M324.90,210.80h5.3" stroke="#008080" stroke-width="1.0" fill="none" opacity="0.85"/>
<polygon points="327.55,205.50 331.65,212.10 323.45,212.10" fill="#008080"/>
<path d="M335.45,208.14V212.14M332.80,208.14h5.3M332.80,212.14h5.3" stroke="#008080" stroke-width="1.0" fill="none" opacity="0.85"/>
<polygon points="335.45,206.84 339.55,213.44 331.35,213.44" fill="#008080"/>
<path d="M87.58,55.77V62.44M84.93,55.77h5.3M84.93,62.44h5.3" stroke="#00ffff" stroke-width="1.0" fill="none" opacity="0.85"/>
<polygon points="87.58,55.14 91.68,61.74 83.48,61.74" fill="#00ffff"/>
<path d="M127.38,80.38V84.38M124.73,80.38h5.3M124.73,84.38h5.3" stroke="#00ffff" stroke-width="1.0" fill="none" opacity="0.85"/>
<polygon points="127.38,79.08 131.48,85.68 123.28,85.68" fill="#00ffff"/>
<path d="M158.25,99.91V103.91M155.60,99.91h5.3M155.60,103.91h5.3" stroke="#00ffff" stroke-width="1.0" fill="none" opacity="0.85"/>
<polygon points="158.25,98.61 162.35,105.21 154.15,105.21" fill="#00ffff"/>
<path d="M183.47,111.57V115.57M180.82,111.57h5.3M180.82,115.57h5.3" stroke="#00ffff" stroke-width="1.0" fill="none" opacity="0.85"/>
<polygon points="183.47,110.27 187.57,116.87 179.37,116.87" fill="#00ffff"/>
<path d="M204.80,130.85V134.85M202.15,130.85h5.3M202.15,134.85h5.3" stroke="#00ffff" stroke-width="1.0" fill="none" opacity="0.85"/>
<polygon points="204.80,129.55 208.90,136.15 200.70,136.15" fill="#00ffff"/>
<path d="M223.27,138.44V142.44M220.62,138.44h5.3M220.62,142.44h5.3" stroke="#00ffff" stroke-width="1.0" fill="none" opacity="0.85"/>
<polygon points="223.27,137.14 227.37,143.74 219.17,143.74" fill="#00ffff"/>
<path d="M239.56,149.95V153.95M236.91,149.95h5.3M236.91,153.95h5.3" stroke="#00ffff" stroke-width="1.0" fill="none" opacity="0.85"/>
<polygon points="239.56,148.65 243.66,155.25 235.46,155.25" fill="#00ffff"/>
<path d="M254.14,161.37V165.37M251.49,161.37h5.3M251.49,165.37h5.3" stroke="#00ffff" stroke-width="1.0" fill="none" opacity="0.85"/>
<polygon points="254.14,160.07 258.24,166.67 250.04,166.67" fill="#00ffff"/>
<path d="M267.32,168.17V172.17M264.67,168.17h5.3M264.67,172.17h5.3" stroke="#00ffff" stroke-width="1.0" fill="none" opacity="0.85"/>
<polygon points="267.32,166.87 271.42,173.47 263.22,173.47" fill="#00ffff"/>
<path d="M279.36,174.16V178.16M276.71,174.16h5.3M276.71,178.16h5.3" stroke="#00ffff" stroke-width="1.0" fill="none" opacity="0.85"/>
<polygon points="279.36,172.86 283.46,179.46 275.26,179.46" fill="#00ffff"/>
<path d="M290.44,180.18V184.18M287.79,180.18h5.3M287.79,184.18h5.3" stroke="#00ffff" stroke-width="1.0" fill="none" opacity="0.85"/>
<polygon points="290.44,178.88 294.54,185.48 286.34,185.48" fill="#00ffff"/>
<path d="M300.69,189.04V193.04M298.04,189.04h5.3M298.04,193.04h5.3" stroke="#00ffff" stroke-width="1.0" fill="none" opacity="0.85"/>
<polygon points="300.69,187.74 304.79,194.34 296.59,194.34" fill="#00ffff"/>
<path d="M310.23,194.56V198.56M307.58,194.56h5.3M307.58,198.56h5.3" stroke="#00ffff" stroke-width="1.0" fill="none" opacity="0.85"/>
<polygon points="310.23,193.26 314.33,199.86 306.13,199.86" fill="#00ffff"/>
<path d="M319.16,199.84V203.84M316.51,199.84h5.3M316.51,203.84h5.3" stroke="#00ffff" stroke-width="1.0" fill="none" opacity="0.85"/>
<polygon points="319.16,198.54 323.26,205.14 315.06,205.14" fill="#00ffff"/>
<path d="M327.55,206.13V210.13M324.90,206.13h5.3M324.90,210.13h5.3" stroke="#00ffff" stroke-width="1.0" fill="none" opacity="0.85"/>
<polygon points="327.55,204.83 331.65,211.43 323.45,211.43" fill="#00ffff"/>
<path d="M335.45,207.48V211.48M332.80,207.48h5.3M332.80,211.48h5.3" stroke="#00ffff" stroke-width="1.0" fill="none" opacity="0.85"/>
<polygon points="335.45,206.18 339.55,212.78 331.35,212.78" fill="#00ffff"/>
<path d="M87.58,48.04V54.71M84.93,48.04h5.3M84.93,54.71h5.3" stroke="#0000ff" stroke-width="1.0" fill="none" opacity="0.85"/>
<polygon points="87.58,48.07 91.68,54.67 83.48,54.67" fill="#0000ff"/>
<path d="M127.38,74.38V87.38M124.73,74.38h5.3M124.73,87.38h5.3" stroke="#0000ff" stroke-width="1.0" fill="none" opacity="0.85"/>
<polygon points="127.38,74.42 131.48,81.02 123.28,81.02" fill="#0000ff"/>
<path d="M158.25,85.45V98.11M155.60,85.45h5.3M155.60,98.11h5.3" stroke="#0000ff" stroke-width="1.0" fill="none" opacity="0.85"/>
<polygon points="158.25,89.48 162.35,96.08 154.15,96.08" fill="#0000ff"/>
<path d="M183.47,108.37V115.03M180.82,108.37h5.3M180.82,115.03h5.3" stroke="#0000ff" stroke-width="1.0" fill="none" opacity="0.85"/>
<polygon points="183.47,108.40 187.57,115.00 179.37,115.00" fill="#0000ff"/>
<path d="M204.80,122.25V127.25M202.15,122.25h5.3M202.15,127.25h5.3" stroke="#0000ff" stroke-width="1.0" fill="none" opacity="0.85"/>
<polygon points="204.80,121.95 208.90,128.55 200.70,128.55" fill="#0000ff"/>
<path d="M223.27,135.98V139.98M220.62,135.98h5.3M220.62,139.98h5.3" stroke="#0000ff" stroke-width="1.0" fill="none" opacity="0.85"/>
<polygon points="223.27,134.68 227.37,141.28 219.17,141.28" fill="#0000ff"/>
<path d="M239.56,146.75V150.75M236.91,146.75h5.3M236.91,150.75h5.3" stroke="#0000ff" stroke-width="1.0" fill="none" opacity="0.85"/>
<polygon points="239.56,145.45 243.66,152.05 235.46,152.05" fill="#0000ff"/>
<path d="M254.14,159.37V163.37M251.49,159.37h5.3M251.49,163.37h5.3" stroke="#0000ff" stroke-width="1.0" fill="none" opacity="0.85"/>
<polygon points="254.14,158.07 258.24,164.67 250.04,164.67" fill="#0000ff"/>
<path d="M267.32,165.84V169.84M264.67,165.84h5.3M264.67,169.84h5.3" stroke="#0000ff" stroke-width="1.0" fill="none" opacity="0.85"/>
<polygon points="267.32,164.54 271.42,171.14 263.22,171.14" fill="#0000ff"/>
<path d="M279.36,172.29V176.29M276.71,172.29h5.3M276.71,176.29h5.3" stroke="#0000ff" stroke-width="1.0" fill="none" opacity="0.85"/>
<polygon points="279.36,170.99 283.46,177.59 275.26,177.59" fill="#0000ff"/>
<path d="M290.44,176.51V180.51M287.79,176.51h5.3M287.79,180.51h5.3" stroke="#0000ff" stroke-width="1.0" fill="none" opacity="0.85"/>
<polygon points="290.44,175.21 294.54,181.81 286.34,181.81" fill="#0000ff"/>
<path d="M300.69,185.58V189.58M298.04,185.58h5.3M298.04,189.58h5.3" stroke="#0000ff" stroke-width="1.0" fill="none" opacity="0.85"/>
<polygon points="300.69,184.28 304.79,190.88 296.59,190.88" fill="#0000ff"/>
<path d="M310.23,193.56V197.56M307.58,193.56h5.3M307.58,197.56h5.3" stroke="#0000ff" stroke-width="1.0" fill="none" opacity="0.85"/>
<polygon points="310.23,192.26 314.33,198.86 306.13,198.86" fill="#0000ff"/>
<path d="M319.16,195.84V201.17M316.51,195.84h5.3M316.51,201.17h5.3" stroke="#0000ff" stroke-width="1.0" fill="none" opacity="0.85"/>
<polygon points="319.16,195.20 323.26,201.80 315.06,201.80" fill="#0000ff"/>
<path d="M327.55,205.67V209.67M324.90,205.67h5.3M324.90,209.67h5.3" stroke="#0000ff" stroke-width="1.0" fill="none" opacity="0.85"/>
<polygon points="327.55,204.37 331.65,210.97 323.45,210.97" fill="#0000ff"/>
<path d="M335.45,206.81V210.81M332.80,206.81h5.3M332.80,210.81h5.3" stroke="#0000ff" stroke-width="1.0" fill="none" opacity="0.85"/>
<polygon points="335.45,205.51 339.55,212.11 331.35,212.11" fill="#0000ff"/>
<path d="M87.58,49.84V56.51M84.93,49.84h5.3M84.93,56.51h5.3" stroke="#000080" stroke-width="1.0" fill="none" opacity="0.85"/>
<polygon points="87.58,49.87 91.68,56.47 83.48,56.47" fill="#000080"/>
<path d="M127.38,76.38V80.38M124.73,76.38h5.3M124.73,80.38h5.3" stroke="#000080" stroke-width="1.0" fill="none" opacity="0.85"/>
<polygon points="127.38,75.08 131.48,81.68 123.28,81.68" fill="#000080"/>
<path d="M158.25,88.65V99.98M155.60,88.65h5.3M155.60,99.98h5.3" stroke="#000080" stroke-width="1.0" fill="none" opacity="0.85"/>
<polygon points="158.25,92.01 162.35,98.61 154.15,98.61" fill="#000080"/>
<path d="M183.47,104.43V111.77M180.82,104.43h5.3M180.82,111.77h5.3" stroke="#000080" stroke-width="1.0" fill="none" opacity="0.85"/>
<polygon points="183.47,105.13 187.57,111.73 179.37,111.73" fill="#000080"/>
<path d="M204.80,126.78V130.78M202.15,126.78h5.3M202.15,130.78h5.3" stroke="#000080" stroke-width="1.0" fill="none" opacity="0.85"/>
<polygon points="204.80,125.48 208.90,132.08 200.70,132.08" fill="#000080"/>
<path d="M223.27,134.51V138.51M220.62,134.51h5.3M220.62,138.51h5.3" stroke="#000080" stroke-width="1.0" fill="none" opacity="0.85"/>
<polygon points="223.27,133.21 227.37,139.81 219.17,139.81" fill="#000080"/>
<path d="M239.56,145.02V149.02M236.91,145.02h5.3M236.91,149.02h5.3" stroke="#000080" stroke-width="1.0" fill="none" opacity="0.85"/>
<polygon points="239.56,143.72 243.66,150.32 235.46,150.32" fill="#000080"/>
<path d="M254.14,160.51V164.51M251.49,160.51h5.3M251.49,164.51h5.3" stroke="#000080" stroke-width="1.0" fill="none" opacity="0.85"/>
<polygon points="254.14,159.21 258.24,165.81 250.04,165.81" fill="#000080"/>
<path d="M267.32,165.17V169.17M264.67,165.17h5.3M264.67,169.17h5.3" stroke="#000080" stroke-width="1.0" fill="none" opacity="0.85"/>
<polygon points="267.32,163.87 271.42,170.47 263.22,170.47" fill="#000080"/>
<path d="M279.36,171.96V175.96M276.71,171.96h5.3M276.71,175.96h5.3" stroke="#000080" stroke-width="1.0" fill="none" opacity="0.85"/>
<polygon points="279.36,170.66 283.46,177.26 275.26,177.26" fill="#000080"/>
<path d="M290.44,179.98V183.98M287.79,179.98h5.3M287.79,183.98h5.3" stroke="#000080" stroke-width="1.0" fill="none" opacity="0.85"/>
<polygon points="290.44,178.68 294.54,185.28 286.34,185.28" fill="#000080"/>
<path d="M300.69,186.24V190.24M298.04,186.24h5.3M298.04,190.24h5.3" stroke="#000080" stroke-width="1.0" fill="none" opacity="0.85"/>
<polygon points="300.69,184.94 304.79,191.54 296.59,191.54" fill="#000080"/>
<path d="M310.23,193.22V197.22M307.58,193.22h5.3M307.58,197.22h5.3" stroke="#000080" stroke-width="1.0" fill="none" opacity="0.85"/>
<polygon points="310.23,191.92 314.33,198.52 306.13,198.52" fill="#000080"/>
<path d="M319.16,196.44V200.44M316.51,196.44h5.3M316.51,200.44h5.3" stroke="#000080" stroke-width="1.0" fill="none" opacity="0.85"/>
<polygon points="319.16,195.14 323.26,201.74 315.06,201.74" fill="#000080"/>
<path d="M327.55,201.13V205.13M324.90,201.13h5.3M324.90,205.13h5.3" stroke="#000080" stroke-width="1.0" fill="none" opacity="0.85"/>
<polygon points="327.55,199.83 331.65,206.43 323.45,206.43" fill="#000080"/>
<path d="M335.45,198.48V207.48M332.80,198.48h5.3M332.80,207.48h5.3" stroke="#000080" stroke-width="1.0" fill="none" opacity="0.85"/>
<polygon points="335.45,200.18 339.55,206.78 331.35,206.78" fill="#000080"/>
<path d="M87.58,18.97V39.04M84.93,18.97h5.3M84.93,39.04h5.3" stroke="#8000ff" stroke-width="1.0" fill="none" opacity="0.85"/>
<polygon points="87.58,23.81 91.68,30.41 83.48,30.41" fill="#8000ff"/>
<path d="M127.38,71.92V85.25M124.73,71.92h5.3M124.73,85.25h5.3" stroke="#8000ff" stroke-width="1.0" fill="none" opacity="0.85"/>
<polygon points="127.38,75.95 131.48,82.55 123.28,82.55" fill="#8000ff"/>
<path d="M158.25,94.65V98.65M155.60,94.65h5.3M155.60,98.65h5.3" stroke="#8000ff" stroke-width="1.0" fill="none" opacity="0.85"/>
<polygon points="158.25,93.35 162.35,99.95 154.15,99.95" fill="#8000ff"/>
<path d="M183.47,114.23V118.23M180.82,114.23h5.3M180.82,118.23h5.3" stroke="#8000ff" stroke-width="1.0" fill="none" opacity="0.85"/>
<polygon points="183.47,112.93 187.57,119.53 179.37,119.53" fill="#8000ff"/>
<path d="M204.80,129.85V133.85M202.15,129.85h5.3M202.15,133.85h5.3" stroke="#8000ff" stroke-width="1.0" fill="none" opacity="0.85"/>
<polygon points="204.80,128.55 208.90,135.15 200.70,135.15" fill="#8000ff"/>
<path d="M223.27,138.11V142.11M220.62,138.11h5.3M220.62,142.11h5.3" stroke="#8000ff" stroke-width="1.0" fill="none" opacity="0.85"/>
<polygon points="223.27,136.81 227.37,143.41 219.17,143.41" fill="#8000ff"/>
<path d="M239.56,148.08V152.08M236.91,148.08h5.3M236.91,152.08h5.3" stroke="#8000ff" stroke-width="1.0" fill="none" opacity="0.85"/>
<polygon points="239.56,146.78 243.66,153.38 235.46,153.38" fill="#8000ff"/>
<path d="M254.14,158.51V162.51M251.49,158.51h5.3M251.49,162.51h5.3" stroke="#8000ff" stroke-width="1.0" fill="none" opacity="0.85"/>
<polygon points="254.14,157.21 258.24,163.81 250.04,163.81" fill="#8000ff"/>
<path d="M267.32,164.84V168.84M264.67,164.84h5.3M264.67,168.84h5.3" stroke="#8000ff" stroke-width="1.0" fill="none" opacity="0.85"/>
<polygon points="267.32,163.54 271.42,170.14 263.22,170.14" fill="#8000ff"/>
<path d="M279.36,171.49V175.49M276.71,171.49h5.3M276.71,175.49h5.3" stroke="#8000ff" stroke-width="1.0" fill="none" opacity="0.85"/>
<polygon points="279.36,170.19 283.46,176.79 275.26,176.79" fill="#8000ff"/>
<path d="M290.44,178.31V182.31M287.79,178.31h5.3M287.79,182.31h5.3" stroke="#8000ff" stroke-width="1.0" fill="none" opacity="0.85"/>
<polygon points="290.44,177.01 294.54,183.61 286.34,183.61" fill="#8000ff"/>
<path d="M300.69,184.91V188.91M298.04,184.91h5.3M298.04,188.91h5.3" stroke="#8000ff" stroke-width="1.0" fill="none" opacity="0.85"/>
<polygon points="300.69,183.61 304.79,190.21 296.59,190.21" fill="#8000ff"/>
<path d="M310.23,192.89V196.89M307.58,192.89h5.3M307.58,196.89h5.3" stroke="#8000ff" stroke-width="1.0" fill="none" opacity="0.85"/>
<polygon points="310.23,191.59 314.33,198.19 306.13,198.19" fill="#8000ff"/>
<path d="M319.16,197.84V201.84M316.51,197.84h5.3M316.51,201.84h5.3" stroke="#8000ff" stroke-width="1.0" fill="none" opacity="0.85"/>
<polygon points="319.16,196.54 323.26,203.14 315.06,203.14" fill="#8000ff"/>
<path d="M327.55,201.47V205.47M324.90,201.47h5.3M324.90,205.47h5.3" stroke="#8000ff" stroke-width="1.0" fill="none" opacity="0.85"/>
<polygon points="327.55,200.17 331.65,206.77 323.45,206.77" fill="#8000ff"/>
<path d="M335.45,205.54V209.54M332.80,205.54h5.3M332.80,209.54h5.3" stroke="#8000ff" stroke-width="1.0" fill="none" opacity="0.85"/>
<polygon points="335.45,204.24 339.55,210.84 331.35,210.84" fill="#8000ff"/>
<path d="M127.38,79.12V90.65M124.73,79.12h5.3M124.73,90.65h5.3" stroke="#ff00ff" stroke-width="1.0" fill="none" opacity="0.85"/>
<polygon points="127.38,79.82 131.48,86.42 123.28,86.42" fill="#ff00ff"/>
<path d="M158.25,98.11V102.11M155.60,98.11h5.3M155.60,102.11h5.3" stroke="#ff00ff" stroke-width="1.0" fill="none" opacity="0.85"/>
<polygon points="158.25,96.81 162.35,103.41 154.15,103.41" fill="#ff00ff"/>
<path d="M183.47,114.90V118.90M180.82,114.90h5.3M180.82,118.90h5.3" stroke="#ff00ff" stroke-width="1.0" fill="none" opacity="0.85"/>
<polygon points="183.47,113.60 187.57,120.20 179.37,120.20" fill="#ff00ff"/>
<path d="M204.80,130.52V134.52M202.15,130.52h5.3M202.15,134.52h5.3" stroke="#ff00ff" stroke-width="1.0" fill="none" opacity="0.85"/>
<polygon points="204.80,129.22 208.90,135.82 200.70,135.82" fill="#ff00ff"/>
<path d="M223.27,138.44V142.44M220.62,138.44h5.3M220.62,142.44h5.3" stroke="#ff00ff" stroke-width="1.0" fill="none" opacity="0.85"/>
<polygon points="223.27,137.14 227.37,143.74 219.17,143.74" fill="#ff00ff"/>
<path d="M239.56,148.48V152.48M236.91,148.48h5.3M236.91,152.48h5.3" stroke="#ff00ff" stroke-width="1.0" fill="none" opacity="0.85"/>
<polygon points="239.56,147.18 243.66,153.78 235.46,153.78" fill="#ff00ff"/>
<path d="M254.14,158.04V162.04M251.49,158.04h5.3M251.49,162.04h5.3" stroke="#ff00ff" stroke-width="1.0" fill="none" opacity="0.85"/>
<polygon points="254.14,156.74 258.24,163.34 250.04,163.34" fill="#ff00ff"/>
<path d="M267.32,164.04V168.04M264.67,164.04h5.3M264.67,168.04h5.3" stroke="#ff00ff" stroke-width="1.0" fill="none" opacity="0.85"/>
<polygon points="267.32,162.74 271.42,169.34 263.22,169.34" fill="#ff00ff"/>
<path d="M279.36,169.29V173.29M276.71,169.29h5.3M276.71,173.29h5.3" stroke="#ff00ff" stroke-width="1.0" fill="none" opacity="0.85"/>
<polygon points="279.36,167.99 283.46,174.59 275.26,174.59" fill="#ff00ff"/>
<path d="M290.44,178.18V182.18M287.79,178.18h5.3M287.79,182.18h5.3" stroke="#ff00ff" stroke-width="1.0" fill="none" opacity="0.85"/>
<polygon points="290.44,176.88 294.54,183.48 286.34,183.48" fill="#ff00ff"/>
<path d="M300.69,181.44V185.44M298.04,181.44h5.3M298.04,185.44h5.3" stroke="#ff00ff" stroke-width="1.0" fill="none" opacity="0.85"/>
<polygon points="300.69,180.14 304.79,186.74 296.59,186.74" fill="#ff00ff"/>
<path d="M310.23,194.69V198.69M307.58,194.69h5.3M307.58,198.69h5.3" stroke="#ff00ff" stroke-width="1.0" fill="none" opacity="0.85"/>
<polygon points="310.23,193.39 314.33,199.99 306.13,199.99" fill="#ff00ff"/>
<path d="M319.16,198.97V202.97M316.51,198.97h5.3M316.51,202.97h5.3" stroke="#ff00ff" stroke-width="1.0" fill="none" opacity="0.85"/>
<polygon points="319.16,197.67 323.26,204.27 315.06,204.27" fill="#ff00ff"/>
<path d="M327.55,199.40V206.47M324.90,199.40h5.3M324.90,206.47h5.3" stroke="#ff00ff" stroke-width="1.0" fill="none" opacity="0.85"/>
<polygon points="327.55,199.83 331.65,206.43 323.45,206.43" fill="#ff00ff"/>
<path d="M335.45,204.81V208.81M332.80,204.81h5.3M332.80,208.81h5.3" stroke="#ff00ff" stroke-width="1.0" fill="none" opacity="0.85"/>
<polygon points="335.45,203.51 339.55,210.11 331.35,210.11" fill="#ff00ff"/>
<path d="M87.58,14V30" stroke="#ff00ff" stroke-width="1" opacity="0.8"/>
</g>
<clipPath id="cpb"><rect x="409.95" y="15.50" width="271.20" height="216.60"/></clipPath>
<g clip-path="url(#cpb)">
<path d="M427.98,189.70V210.40M425.33,189.70h5.3M425.33,210.40h5.3" stroke="#ff0000" stroke-width="1.0" fill="none" opacity="0.85"/>
<polygon points="427.98,194.60 432.08,201.20 423.88,201.20" fill="#ff0000"/>
<path d="M467.78,165.10V181.70M465.13,165.10h5.3M465.13,181.70h5.3" stroke="#ff0000" stroke-width="1.0" fill="none" opacity="0.85"/>
<polygon points="467.78,168.50 471.88,175.10 463.68,175.10" fill="#ff0000"/>
<path d="M498.65,153.20V162.20M496.00,153.20h5.3M496.00,162.20h5.3" stroke="#ff0000" stroke-width="1.0" fill="none" opacity="0.85"/>
<polygon points="498.65,153.90 502.75,160.50 494.55,160.50" fill="#ff0000"/>
<path d="M523.87,141.00V149.40M521.22,141.00h5.3M521.22,149.40h5.3" stroke="#ff0000" stroke-width="1.0" fill="none" opacity="0.85"/>
<polygon points="523.87,141.90 527.97,148.50 519.77,148.50" fill="#ff0000"/>
<path d="M545.20,132.80V141.20M542.55,132.80h5.3M542.55,141.20h5.3" stroke="#ff0000" stroke-width="1.0" fill="none" opacity="0.85"/>
<polygon points="545.20,133.70 549.30,140.30 541.10,140.30" fill="#ff0000"/>
<path d="M563.67,126.20V134.60M561.02,126.20h5.3M561.02,134.60h5.3" stroke="#ff0000" stroke-width="1.0" fill="none" opacity="0.85"/>
<polygon points="563.67,127.10 567.77,133.70 559.57,133.70" fill="#ff0000"/>
<path d="M579.96,121.80V130.20M577.31,121.80h5.3M577.31,130.20h5.3" stroke="#ff0000" stroke-width="1.0" fill="none" opacity="0.85"/>
<polygon points="579.96,122.70 584.06,129.30 575.86,129.30" fill="#ff0000"/>
<path d="M594.54,119.00V127.40M591.89,119.00h5.3M591.89,127.40h5.3" stroke="#ff0000" stroke-width="1.0" fill="none" opacity="0.85"/>
<polygon points="594.54,119.90 598.64,126.50 590.44,126.50" fill="#ff0000"/>
<path d="M607.72,115.30V123.70M605.07,115.30h5.3M605.07,123.70h5.3" stroke="#ff0000" stroke-width="1.0" fill="none" opacity="0.85"/>
<polygon points="607.72,116.20 611.82,122.80 603.62,122.80" fill="#ff0000"/>
<path d="M619.76,112.00V120.40M617.11,112.00h5.3M617.11,120.40h5.3" stroke="#ff0000" stroke-width="1.0" fill="none" opacity="0.85"/>
<polygon points="619.76,112.90 623.86,119.50 615.66,119.50" fill="#ff0000"/>
<path d="M630.84,109.30V117.70M628.19,109.30h5.3M628.19,117.70h5.3" stroke="#ff0000" stroke-width="1.0" fill="none" opacity="0.85"/>
<polygon points="630.84,110.20 634.94,116.80 626.74,116.80" fill="#ff0000"/>
<path d="M641.09,113.30V121.70M638.44,113.30h5.3M638.44,121.70h5.3" stroke="#ff0000" stroke-width="1.0" fill="none" opacity="0.85"/>
<polygon points="641.09,114.20 645.19,120.80 636.99,120.80" fill="#ff0000"/>
<path d="M650.63,109.50V117.90M647.98,109.50h5.3M647.98,117.90h5.3" stroke="#ff0000" stroke-width="1.0" fill="none" opacity="0.85"/>
<polygon points="650.63,110.40 654.73,117.00 646.53,117.00" fill="#ff0000"/>
<path d="M659.56,94.70V116.70M656.91,94.70h5.3M656.91,116.70h5.3" stroke="#ff0000" stroke-width="1.0" fill="none" opacity="0.85"/>
<polygon points="659.56,102.40 663.66,109.00 655.46,109.00" fill="#ff0000"/>
<path d="M667.95,111.60V124.60M665.30,111.60h5.3M665.30,124.60h5.3" stroke="#ff0000" stroke-width="1.0" fill="none" opacity="0.85"/>
<polygon points="667.95,115.30 672.05,121.90 663.85,121.90" fill="#ff0000"/>
<path d="M675.85,104.50V115.50M673.20,104.50h5.3M673.20,115.50h5.3" stroke="#ff0000" stroke-width="1.0" fill="none" opacity="0.85"/>
<polygon points="675.85,106.20 679.95,112.80 671.75,112.80" fill="#ff0000"/>
<path d="M427.98,166.80V185.30M425.33,166.80h5.3M425.33,185.30h5.3" stroke="#ff8000" stroke-width="1.0" fill="none" opacity="0.85"/>
<polygon points="427.98,171.10 432.08,177.70 423.88,177.70" fill="#ff8000"/>
<path d="M467.78,134.70V154.70M465.13,134.70h5.3M465.13,154.70h5.3" stroke="#ff8000" stroke-width="1.0" fill="none" opacity="0.85"/>
<polygon points="467.78,139.40 471.88,146.00 463.68,146.00" fill="#ff8000"/>
<path d="M498.65,136.90V145.90M496.00,136.90h5.3M496.00,145.90h5.3" stroke="#ff8000" stroke-width="1.0" fill="none" opacity="0.85"/>
<polygon points="498.65,137.60 502.75,144.20 494.55,144.20" fill="#ff8000"/>
<path d="M523.87,124.70V133.10M521.22,124.70h5.3M521.22,133.10h5.3" stroke="#ff8000" stroke-width="1.0" fill="none" opacity="0.85"/>
<polygon points="523.87,125.60 527.97,132.20 519.77,132.20" fill="#ff8000"/>
<path d="M545.20,120.50V128.90M542.55,120.50h5.3M542.55,128.90h5.3" stroke="#ff8000" stroke-width="1.0" fill="none" opacity="0.85"/>
<polygon points="545.20,121.40 549.30,128.00 541.10,128.00" fill="#ff8000"/>
<path d="M563.67,116.20V124.60M561.02,116.20h5.3M561.02,124.60h5.3" stroke="#ff8000" stroke-width="1.0" fill="none" opacity="0.85"/>
<polygon points="563.67,117.10 567.77,123.70 559.57,123.70" fill="#ff8000"/>
<path d="M579.96,113.50V121.90M577.31,113.50h5.3M577.31,121.90h5.3" stroke="#ff8000" stroke-width="1.0" fill="none" opacity="0.85"/>
<polygon points="579.96,114.40 584.06,121.00 575.86,121.00" fill="#ff8000"/>
<path d="M594.54,113.10V121.50M591.89,113.10h5.3M591.89,121.50h5.3" stroke="#ff8000" stroke-width="1.0" fill="none" opacity="0.85"/>
<polygon points="594.54,114.00 598.64,120.60 590.44,120.60" fill="#ff8000"/>
<path d="M607.72,109.50V117.90M605.07,109.50h5.3M605.07,117.90h5.3" stroke="#ff8000" stroke-width="1.0" fill="none" opacity="0.85"/>
<polygon points="607.72,110.40 611.82,117.00 603.62,117.00" fill="#ff8000"/>
<path d="M619.76,108.80V117.20M617.11,108.80h5.3M617.11,117.20h5.3" stroke="#ff8000" stroke-width="1.0" fill="none" opacity="0.85"/>
<polygon points="619.76,109.70 623.86,116.30 615.66,116.30" fill="#ff8000"/>
<path d="M630.84,106.60V115.00M628.19,106.60h5.3M628.19,115.00h5.3" stroke="#ff8000" stroke-width="1.0" fill="none" opacity="0.85"/>
<polygon points="630.84,107.50 634.94,114.10 626.74,114.10" fill="#ff8000"/>
<path d="M641.09,109.50V117.90M638.44,109.50h5.3M638.44,117.90h5.3" stroke="#ff8000" stroke-width="1.0" fill="none" opacity="0.85"/>
<polygon points="641.09,110.40 645.19,117.00 636.99,117.00" fill="#ff8000"/>
<path d="M650.63,108.30V116.70M647.98,108.30h5.3M647.98,116.70h5.3" stroke="#ff8000" stroke-width="1.0" fill="none" opacity="0.85"/>
<polygon points="650.63,109.20 654.73,115.80 646.53,115.80" fill="#ff8000"/>
<path d="M659.56,105.80V114.20M656.91,105.80h5.3M656.91,114.20h5.3" stroke="#ff8000" stroke-width="1.0" fill="none" opacity="0.85"/>
<polygon points="659.56,106.70 663.66,113.30 655.46,113.30" fill="#ff8000"/>
<path d="M667.95,109.80V118.20M665.30,109.80h5.3M665.30,118.20h5.3" stroke="#ff8000" stroke-width="1.0" fill="none" opacity="0.85"/>
<polygon points="667.95,110.70 672.05,117.30 663.85,117.30" fill="#ff8000"/>
<path d="M675.85,103.80V112.20M673.20,103.80h5.3M673.20,112.20h5.3" stroke="#ff8000" stroke-width="1.0" fill="none" opacity="0.85"/>
<polygon points="675.85,104.70 679.95,111.30 671.75,111.30" fill="#ff8000"/>
<path d="M427.98,101.30V150.20M425.33,101.30h5.3M425.33,150.20h5.3" stroke="#00ff00" stroke-width="1.0" fill="none" opacity="0.85"/>
<polygon points="427.98,116.00 432.08,122.60 423.88,122.60" fill="#00ff00"/>
<path d="M467.78,103.70V130.20M465.13,103.70h5.3M465.13,130.20h5.3" stroke="#00ff00" stroke-width="1.0" fill="none" opacity="0.85"/>
<polygon points="467.78,110.40 471.88,117.00 463.68,117.00" fill="#00ff00"/>
<path d="M498.65,123.80V132.10M496.00,123.80h5.3M496.00,132.10h5.3" stroke="#00ff00" stroke-width="1.0" fill="none" opacity="0.85"/>
<polygon points="498.65,124.50 502.75,131.10 494.55,131.10" fill="#00ff00"/>
<path d="M523.87,111.60V117.60M521.22,111.60h5.3M521.22,117.60h5.3" stroke="#00ff00" stroke-width="1.0" fill="none" opacity="0.85"/>
<polygon points="523.87,111.30 527.97,117.90 519.77,117.90" fill="#00ff00"/>
<path d="M545.20,109.90V115.90M542.55,109.90h5.3M542.55,115.90h5.3" stroke="#00ff00" stroke-width="1.0" fill="none" opacity="0.85"/>
<polygon points="545.20,109.60 549.30,116.20 541.10,116.20" fill="#00ff00"/>
<path d="M563.67,107.70V113.70M561.02,107.70h5.3M561.02,113.70h5.3" stroke="#00ff00" stroke-width="1.0" fill="none" opacity="0.85"/>
<polygon points="563.67,107.40 567.77,114.00 559.57,114.00" fill="#00ff00"/>
<path d="M579.96,106.80V112.80M577.31,106.80h5.3M577.31,112.80h5.3" stroke="#00ff00" stroke-width="1.0" fill="none" opacity="0.85"/>
<polygon points="579.96,106.50 584.06,113.10 575.86,113.10" fill="#00ff00"/>
<path d="M594.54,109.20V115.20M591.89,109.20h5.3M591.89,115.20h5.3" stroke="#00ff00" stroke-width="1.0" fill="none" opacity="0.85"/>
<polygon points="594.54,108.90 598.64,115.50 590.44,115.50" fill="#00ff00"/>
<path d="M607.72,107.80V113.80M605.07,107.80h5.3M605.07,113.80h5.3" stroke="#00ff00" stroke-width="1.0" fill="none" opacity="0.85"/>
<polygon points="607.72,107.50 611.82,114.10 603.62,114.10" fill="#00ff00"/>
<path d="M619.76,107.00V113.00M617.11,107.00h5.3M617.11,113.00h5.3" stroke="#00ff00" stroke-width="1.0" fill="none" opacity="0.85"/>
<polygon points="619.76,106.70 623.86,113.30 615.66,113.30" fill="#00ff00"/>
<path d="M630.84,103.40V109.40M628.19,103.40h5.3M628.19,109.40h5.3" stroke="#00ff00" stroke-width="1.0" fill="none" opacity="0.85"/>
<polygon points="630.84,103.10 634.94,109.70 626.74,109.70" fill="#00ff00"/>
<path d="M641.09,107.20V113.20M638.44,107.20h5.3M638.44,113.20h5.3" stroke="#00ff00" stroke-width="1.0" fill="none" opacity="0.85"/>
<polygon points="641.09,106.90 645.19,113.50 636.99,113.50" fill="#00ff00"/>
<path d="M650.63,108.00V114.00M647.98,108.00h5.3M647.98,114.00h5.3" stroke="#00ff00" stroke-width="1.0" fill="none" opacity="0.85"/>
<polygon points="650.63,107.70 654.73,114.30 646.53,114.30" fill="#00ff00"/>
<path d="M659.56,108.80V114.80M656.91,108.80h5.3M656.91,114.80h5.3" stroke="#00ff00" stroke-width="1.0" fill="none" opacity="0.85"/>
<polygon points="659.56,108.50 663.66,115.10 655.46,115.10" fill="#00ff00"/>
<path d="M667.95,110.30V116.30M665.30,110.30h5.3M665.30,116.30h5.3" stroke="#00ff00" stroke-width="1.0" fill="none" opacity="0.85"/>
<polygon points="667.95,110.00 672.05,116.60 663.85,116.60" fill="#00ff00"/>
<path d="M675.85,104.00V110.00M673.20,104.00h5.3M673.20,110.00h5.3" stroke="#00ff00" stroke-width="1.0" fill="none" opacity="0.85"/>
<polygon points="675.85,103.70 679.95,110.30 671.75,110.30" fill="#00ff00"/>
<path d="M427.98,125.10V141.10M425.33,125.10h5.3M425.33,141.10h5.3" stroke="#008000" stroke-width="1.0" fill="none" opacity="0.85"/>
<polygon points="427.98,127.80 432.08,134.40 423.88,134.40" fill="#008000"/>
<path d="M467.78,75.50V114.50M465.13,75.50h5.3M465.13,114.50h5.3" stroke="#008000" stroke-width="1.0" fill="none" opacity="0.85"/>
<polygon points="467.78,89.20 471.88,95.80 463.68,95.80" fill="#008000"/>
<path d="M498.65,106.50V119.90M496.00,106.50h5.3M496.00,119.90h5.3" stroke="#008000" stroke-width="1.0" fill="none" opacity="0.85"/>
<polygon points="498.65,109.20 502.75,115.80 494.55,115.80" fill="#008000"/>
<path d="M523.87,99.00V105.00M521.22,99.00h5.3M521.22,105.00h5.3" stroke="#008000" stroke-width="1.0" fill="none" opacity="0.85"/>
<polygon points="523.87,98.70 527.97,105.30 519.77,105.30" fill="#008000"/>
<path d="M545.20,103.80V109.80M542.55,103.80h5.3M542.55,109.80h5.3" stroke="#008000" stroke-width="1.0" fill="none" opacity="0.85"/>
<polygon points="545.20,103.50 549.30,110.10 541.10,110.10" fill="#008000"/>
<path d="M563.67,102.00V108.00M561.02,102.00h5.3M561.02,108.00h5.3" stroke="#008000" stroke-width="1.0" fill="none" opacity="0.85"/>
<polygon points="563.67,101.70 567.77,108.30 559.57,108.30" fill="#008000"/>
<path d="M579.96,103.80V109.80M577.31,103.80h5.3M577.31,109.80h5.3" stroke="#008000" stroke-width="1.0" fill="none" opacity="0.85"/>
<polygon points="579.96,103.50 584.06,110.10 575.86,110.10" fill="#008000"/>
<path d="M594.54,105.60V111.60M591.89,105.60h5.3M591.89,111.60h5.3" stroke="#008000" stroke-width="1.0" fill="none" opacity="0.85"/>
<polygon points="594.54,105.30 598.64,111.90 590.44,111.90" fill="#008000"/>
<path d="M607.72,105.60V111.60M605.07,105.60h5.3M605.07,111.60h5.3" stroke="#008000" stroke-width="1.0" fill="none" opacity="0.85"/>
<polygon points="607.72,105.30 611.82,111.90 603.62,111.90" fill="#008000"/>
<path d="M619.76,102.70V108.70M617.11,102.70h5.3M617.11,108.70h5.3" stroke="#008000" stroke-width="1.0" fill="none" opacity="0.85"/>
<polygon points="619.76,102.40 623.86,109.00 615.66,109.00" fill="#008000"/>
<path d="M630.84,102.00V108.00M628.19,102.00h5.3M628.19,108.00h5.3" stroke="#008000" stroke-width="1.0" fill="none" opacity="0.85"/>
<polygon points="630.84,101.70 634.94,108.30 626.74,108.30" fill="#008000"/>
<path d="M641.09,106.00V112.00M638.44,106.00h5.3M638.44,112.00h5.3" stroke="#008000" stroke-width="1.0" fill="none" opacity="0.85"/>
<polygon points="641.09,105.70 645.19,112.30 636.99,112.30" fill="#008000"/>
<path d="M650.63,107.00V113.00M647.98,107.00h5.3M647.98,113.00h5.3" stroke="#008000" stroke-width="1.0" fill="none" opacity="0.85"/>
<polygon points="650.63,106.70 654.73,113.30 646.53,113.30" fill="#008000"/>
<path d="M659.56,107.00V113.00M656.91,107.00h5.3M656.91,113.00h5.3" stroke="#008000" stroke-width="1.0" fill="none" opacity="0.85"/>
<polygon points="659.56,106.70 663.66,113.30 655.46,113.30" fill="#008000"/>
<path d="M667.95,109.00V115.00M665.30,109.00h5.3M665.30,115.00h5.3" stroke="#008000" stroke-width="1.0" fill="none" opacity="0.85"/>
<polygon points="667.95,108.70 672.05,115.30 663.85,115.30" fill="#008000"/>
<path d="M675.85,103.00V109.00M673.20,103.00h5.3M673.20,109.00h5.3" stroke="#008000" stroke-width="1.0" fill="none" opacity="0.85"/>
<polygon points="675.85,102.70 679.95,109.30 671.75,109.30" fill="#008000"/>
<path d="M427.98,105.10V117.10M425.33,105.10h5.3M425.33,117.10h5.3" stroke="#008080" stroke-width="1.0" fill="none" opacity="0.85"/>
<polygon points="427.98,106.80 432.08,113.40 423.88,113.40" fill="#008080"/>
<path d="M467.78,92.50V98.50M465.13,92.50h5.3M465.13,98.50h5.3" stroke="#008080" stroke-width="1.0" fill="none" opacity="0.85"/>
<polygon points="467.78,92.20 471.88,98.80 463.68,98.80" fill="#008080"/>
<path d="M498.65,106.20V112.20M496.00,106.20h5.3M496.00,112.20h5.3" stroke="#008080" stroke-width="1.0" fill="none" opacity="0.85"/>
<polygon points="498.65,105.90 502.75,112.50 494.55,112.50" fill="#008080"/>
<path d="M523.87,97.00V103.00M521.22,97.00h5.3M521.22,103.00h5.3" stroke="#008080" stroke-width="1.0" fill="none" opacity="0.85"/>
<polygon points="523.87,96.70 527.97,103.30 519.77,103.30" fill="#008080"/>
<path d="M545.20,103.00V109.00M542.55,103.00h5.3M542.55,109.00h5.3" stroke="#008080" stroke-width="1.0" fill="none" opacity="0.85"/>
<polygon points="545.20,102.70 549.30,109.30 541.10,109.30" fill="#008080"/>
<path d="M563.67,100.00V106.00M561.02,100.00h5.3M561.02,106.00h5.3" stroke="#008080" stroke-width="1.0" fill="none" opacity="0.85"/>
<polygon points="563.67,99.70 567.77,106.30 559.57,106.30" fill="#008080"/>
<path d="M579.96,101.50V107.50M577.31,101.50h5.3M577.31,107.50h5.3" stroke="#008080" stroke-width="1.0" fill="none" opacity="0.85"/>
<polygon points="579.96,101.20 584.06,107.80 575.86,107.80" fill="#008080"/>
<path d="M594.54,105.00V111.00M591.89,105.00h5.3M591.89,111.00h5.3" stroke="#008080" stroke-width="1.0" fill="none" opacity="0.85"/>
<polygon points="594.54,104.70 598.64,111.30 590.44,111.30" fill="#008080"/>
<path d="M607.72,104.00V110.00M605.07,104.00h5.3M605.07,110.00h5.3" stroke="#008080" stroke-width="1.0" fill="none" opacity="0.85"/>
<polygon points="607.72,103.70 611.82,110.30 603.62,110.30" fill="#008080"/>
<path d="M619.76,101.50V107.50M617.11,101.50h5.3M617.11,107.50h5.3" stroke="#008080" stroke-width="1.0" fill="none" opacity="0.85"/>
<polygon points="619.76,101.20 623.86,107.80 615.66,107.80" fill="#008080"/>
<path d="M630.84,101.00V107.00M628.19,101.00h5.3M628.19,107.00h5.3" stroke="#008080" stroke-width="1.0" fill="none" opacity="0.85"/>
<polygon points="630.84,100.70 634.94,107.30 626.74,107.30" fill="#008080"/>
<path d="M641.09,105.00V111.00M638.44,105.00h5.3M638.44,111.00h5.3" stroke="#008080" stroke-width="1.0" fill="none" opacity="0.85"/>
<polygon points="641.09,104.70 645.19,111.30 636.99,111.30" fill="#008080"/>
<path d="M650.63,105.00V111.00M647.98,105.00h5.3M647.98,111.00h5.3" stroke="#008080" stroke-width="1.0" fill="none" opacity="0.85"/>
<polygon points="650.63,104.70 654.73,111.30 646.53,111.30" fill="#008080"/>
<path d="M659.56,105.70V111.70M656.91,105.70h5.3M656.91,111.70h5.3" stroke="#008080" stroke-width="1.0" fill="none" opacity="0.85"/>
<polygon points="659.56,105.40 663.66,112.00 655.46,112.00" fill="#008080"/>
<path d="M667.95,107.00V113.00M665.30,107.00h5.3M665.30,113.00h5.3" stroke="#008080" stroke-width="1.0" fill="none" opacity="0.85"/>
<polygon points="667.95,106.70 672.05,113.30 663.85,113.30" fill="#008080"/>
<path d="M675.85,102.00V108.00M673.20,102.00h5.3M673.20,108.00h5.3" stroke="#008080" stroke-width="1.0" fill="none" opacity="0.85"/>
<polygon points="675.85,101.70 679.95,108.30 671.75,108.30" fill="#008080"/>
<path d="M427.98,93.40V103.40M425.33,93.40h5.3M425.33,103.40h5.3" stroke="#00ffff" stroke-width="1.0" fill="none" opacity="0.85"/>
<polygon points="427.98,94.10 432.08,100.70 423.88,100.70" fill="#00ffff"/>
<path d="M467.78,95.00V101.00M465.13,95.00h5.3M465.13,101.00h5.3" stroke="#00ffff" stroke-width="1.0" fill="none" opacity="0.85"/>
<polygon points="467.78,94.70 471.88,101.30 463.68,101.30" fill="#00ffff"/>
<path d="M498.65,96.90V102.90M496.00,96.90h5.3M496.00,102.90h5.3" stroke="#00ffff" stroke-width="1.0" fill="none" opacity="0.85"/>
<polygon points="498.65,96.60 502.75,103.20 494.55,103.20" fill="#00ffff"/>
<path d="M523.87,92.00V98.00M521.22,92.00h5.3M521.22,98.00h5.3" stroke="#00ffff" stroke-width="1.0" fill="none" opacity="0.85"/>
<polygon points="523.87,91.70 527.97,98.30 519.77,98.30" fill="#00ffff"/>
<path d="M545.20,102.00V108.00M542.55,102.00h5.3M542.55,108.00h5.3" stroke="#00ffff" stroke-width="1.0" fill="none" opacity="0.85"/>
<polygon points="545.20,101.70 549.30,108.30 541.10,108.30" fill="#00ffff"/>
<path d="M563.67,97.00V103.00M561.02,97.00h5.3M561.02,103.00h5.3" stroke="#00ffff" stroke-width="1.0" fill="none" opacity="0.85"/>
<polygon points="563.67,96.70 567.77,103.30 559.57,103.30" fill="#00ffff"/>
<path d="M579.96,99.80V105.80M577.31,99.80h5.3M577.31,105.80h5.3" stroke="#00ffff" stroke-width="1.0" fill="none" opacity="0.85"/>
<polygon points="579.96,99.50 584.06,106.10 575.86,106.10" fill="#00ffff"/>
<path d="M594.54,104.00V110.00M591.89,104.00h5.3M591.89,110.00h5.3" stroke="#00ffff" stroke-width="1.0" fill="none" opacity="0.85"/>
<polygon points="594.54,103.70 598.64,110.30 590.44,110.30" fill="#00ffff"/>
<path d="M607.72,102.50V108.50M605.07,102.50h5.3M605.07,108.50h5.3" stroke="#00ffff" stroke-width="1.0" fill="none" opacity="0.85"/>
<polygon points="607.72,102.20 611.82,108.80 603.62,108.80" fill="#00ffff"/>
<path d="M619.76,100.80V106.80M617.11,100.80h5.3M617.11,106.80h5.3" stroke="#00ffff" stroke-width="1.0" fill="none" opacity="0.85"/>
<polygon points="619.76,100.50 623.86,107.10 615.66,107.10" fill="#00ffff"/>
<path d="M630.84,100.00V106.00M628.19,100.00h5.3M628.19,106.00h5.3" stroke="#00ffff" stroke-width="1.0" fill="none" opacity="0.85"/>
<polygon points="630.84,99.70 634.94,106.30 626.74,106.30" fill="#00ffff"/>
<path d="M641.09,104.20V110.20M638.44,104.20h5.3M638.44,110.20h5.3" stroke="#00ffff" stroke-width="1.0" fill="none" opacity="0.85"/>
<polygon points="641.09,103.90 645.19,110.50 636.99,110.50" fill="#00ffff"/>
<path d="M650.63,104.00V110.00M647.98,104.00h5.3M647.98,110.00h5.3" stroke="#00ffff" stroke-width="1.0" fill="none" opacity="0.85"/>
<polygon points="650.63,103.70 654.73,110.30 646.53,110.30" fill="#00ffff"/>
<path d="M659.56,104.00V110.00M656.91,104.00h5.3M656.91,110.00h5.3" stroke="#00ffff" stroke-width="1.0" fill="none" opacity="0.85"/>
<polygon points="659.56,103.70 663.66,110.30 655.46,110.30" fill="#00ffff"/>
<path d="M667.95,106.00V112.00M665.30,106.00h5.3M665.30,112.00h5.3" stroke="#00ffff" stroke-width="1.0" fill="none" opacity="0.85"/>
<polygon points="667.95,105.70 672.05,112.30 663.85,112.30" fill="#00ffff"/>
<path d="M675.85,101.00V107.00M673.20,101.00h5.3M673.20,107.00h5.3" stroke="#00ffff" stroke-width="1.0" fill="none" opacity="0.85"/>
<polygon points="675.85,100.70 679.95,107.30 671.75,107.30" fill="#00ffff"/>
<path d="M427.98,81.80V91.80M425.33,81.80h5.3M425.33,91.80h5.3" stroke="#0000ff" stroke-width="1.0" fill="none" opacity="0.85"/>
<polygon points="427.98,83.50 432.08,90.10 423.88,90.10" fill="#0000ff"/>
<path d="M467.78,86.00V105.50M465.13,86.00h5.3M465.13,105.50h5.3" stroke="#0000ff" stroke-width="1.0" fill="none" opacity="0.85"/>
<polygon points="467.78,87.70 471.88,94.30 463.68,94.30" fill="#0000ff"/>
<path d="M498.65,75.20V94.20M496.00,75.20h5.3M496.00,94.20h5.3" stroke="#0000ff" stroke-width="1.0" fill="none" opacity="0.85"/>
<polygon points="498.65,82.90 502.75,89.50 494.55,89.50" fill="#0000ff"/>
<path d="M523.87,87.20V97.20M521.22,87.20h5.3M521.22,97.20h5.3" stroke="#0000ff" stroke-width="1.0" fill="none" opacity="0.85"/>
<polygon points="523.87,88.90 527.97,95.50 519.77,95.50" fill="#0000ff"/>
<path d="M545.20,89.10V96.60M542.55,89.10h5.3M542.55,96.60h5.3" stroke="#0000ff" stroke-width="1.0" fill="none" opacity="0.85"/>
<polygon points="545.20,90.30 549.30,96.90 541.10,96.90" fill="#0000ff"/>
<path d="M563.67,93.30V99.30M561.02,93.30h5.3M561.02,99.30h5.3" stroke="#0000ff" stroke-width="1.0" fill="none" opacity="0.85"/>
<polygon points="563.67,93.00 567.77,99.60 559.57,99.60" fill="#0000ff"/>
<path d="M579.96,95.00V101.00M577.31,95.00h5.3M577.31,101.00h5.3" stroke="#0000ff" stroke-width="1.0" fill="none" opacity="0.85"/>
<polygon points="579.96,94.70 584.06,101.30 575.86,101.30" fill="#0000ff"/>
<path d="M594.54,101.00V107.00M591.89,101.00h5.3M591.89,107.00h5.3" stroke="#0000ff" stroke-width="1.0" fill="none" opacity="0.85"/>
<polygon points="594.54,100.70 598.64,107.30 590.44,107.30" fill="#0000ff"/>
<path d="M607.72,99.00V105.00M605.07,99.00h5.3M605.07,105.00h5.3" stroke="#0000ff" stroke-width="1.0" fill="none" opacity="0.85"/>
<polygon points="607.72,98.70 611.82,105.30 603.62,105.30" fill="#0000ff"/>
<path d="M619.76,98.00V104.00M617.11,98.00h5.3M617.11,104.00h5.3" stroke="#0000ff" stroke-width="1.0" fill="none" opacity="0.85"/>
<polygon points="619.76,97.70 623.86,104.30 615.66,104.30" fill="#0000ff"/>
<path d="M630.84,94.50V100.50M628.19,94.50h5.3M628.19,100.50h5.3" stroke="#0000ff" stroke-width="1.0" fill="none" opacity="0.85"/>
<polygon points="630.84,94.20 634.94,100.80 626.74,100.80" fill="#0000ff"/>
<path d="M641.09,99.00V105.00M638.44,99.00h5.3M638.44,105.00h5.3" stroke="#0000ff" stroke-width="1.0" fill="none" opacity="0.85"/>
<polygon points="641.09,98.70 645.19,105.30 636.99,105.30" fill="#0000ff"/>
<path d="M650.63,102.50V108.50M647.98,102.50h5.3M647.98,108.50h5.3" stroke="#0000ff" stroke-width="1.0" fill="none" opacity="0.85"/>
<polygon points="650.63,102.20 654.73,108.80 646.53,108.80" fill="#0000ff"/>
<path d="M659.56,98.00V106.00M656.91,98.00h5.3M656.91,106.00h5.3" stroke="#0000ff" stroke-width="1.0" fill="none" opacity="0.85"/>
<polygon points="659.56,98.70 663.66,105.30 655.46,105.30" fill="#0000ff"/>
<path d="M667.95,105.30V111.30M665.30,105.30h5.3M665.30,111.30h5.3" stroke="#0000ff" stroke-width="1.0" fill="none" opacity="0.85"/>
<polygon points="667.95,105.00 672.05,111.60 663.85,111.60" fill="#0000ff"/>
<path d="M675.85,100.00V106.00M673.20,100.00h5.3M673.20,106.00h5.3" stroke="#0000ff" stroke-width="1.0" fill="none" opacity="0.85"/>
<polygon points="675.85,99.70 679.95,106.30 671.75,106.30" fill="#0000ff"/>
<path d="M427.98,84.50V94.50M425.33,84.50h5.3M425.33,94.50h5.3" stroke="#000080" stroke-width="1.0" fill="none" opacity="0.85"/>
<polygon points="427.98,86.20 432.08,92.80 423.88,92.80" fill="#000080"/>
<path d="M467.78,89.00V95.00M465.13,89.00h5.3M465.13,95.00h5.3" stroke="#000080" stroke-width="1.0" fill="none" opacity="0.85"/>
<polygon points="467.78,88.70 471.88,95.30 463.68,95.30" fill="#000080"/>
<path d="M498.65,80.00V97.00M496.00,80.00h5.3M496.00,97.00h5.3" stroke="#000080" stroke-width="1.0" fill="none" opacity="0.85"/>
<polygon points="498.65,86.70 502.75,93.30 494.55,93.30" fill="#000080"/>
<path d="M523.87,81.30V92.30M521.22,81.30h5.3M521.22,92.30h5.3" stroke="#000080" stroke-width="1.0" fill="none" opacity="0.85"/>
<polygon points="523.87,84.00 527.97,90.60 519.77,90.60" fill="#000080"/>
<path d="M545.20,95.90V101.90M542.55,95.90h5.3M542.55,101.90h5.3" stroke="#000080" stroke-width="1.0" fill="none" opacity="0.85"/>
<polygon points="545.20,95.60 549.30,102.20 541.10,102.20" fill="#000080"/>
<path d="M563.67,91.10V97.10M561.02,91.10h5.3M561.02,97.10h5.3" stroke="#000080" stroke-width="1.0" fill="none" opacity="0.85"/>
<polygon points="563.67,90.80 567.77,97.40 559.57,97.40" fill="#000080"/>
<path d="M579.96,92.40V98.40M577.31,92.40h5.3M577.31,98.40h5.3" stroke="#000080" stroke-width="1.0" fill="none" opacity="0.85"/>
<polygon points="579.96,92.10 584.06,98.70 575.86,98.70" fill="#000080"/>
<path d="M594.54,102.70V108.70M591.89,102.70h5.3M591.89,108.70h5.3" stroke="#000080" stroke-width="1.0" fill="none" opacity="0.85"/>
<polygon points="594.54,102.40 598.64,109.00 590.44,109.00" fill="#000080"/>
<path d="M607.72,98.00V104.00M605.07,98.00h5.3M605.07,104.00h5.3" stroke="#000080" stroke-width="1.0" fill="none" opacity="0.85"/>
<polygon points="607.72,97.70 611.82,104.30 603.62,104.30" fill="#000080"/>
<path d="M619.76,97.50V103.50M617.11,97.50h5.3M617.11,103.50h5.3" stroke="#000080" stroke-width="1.0" fill="none" opacity="0.85"/>
<polygon points="619.76,97.20 623.86,103.80 615.66,103.80" fill="#000080"/>
<path d="M630.84,99.70V105.70M628.19,99.70h5.3M628.19,105.70h5.3" stroke="#000080" stroke-width="1.0" fill="none" opacity="0.85"/>
<polygon points="630.84,99.40 634.94,106.00 626.74,106.00" fill="#000080"/>
<path d="M641.09,100.00V106.00M638.44,100.00h5.3M638.44,106.00h5.3" stroke="#000080" stroke-width="1.0" fill="none" opacity="0.85"/>
<polygon points="641.09,99.70 645.19,106.30 636.99,106.30" fill="#000080"/>
<path d="M650.63,102.00V108.00M647.98,102.00h5.3M647.98,108.00h5.3" stroke="#000080" stroke-width="1.0" fill="none" opacity="0.85"/>
<polygon points="650.63,101.70 654.73,108.30 646.53,108.30" fill="#000080"/>
<path d="M659.56,98.90V104.90M656.91,98.90h5.3M656.91,104.90h5.3" stroke="#000080" stroke-width="1.0" fill="none" opacity="0.85"/>
<polygon points="659.56,98.60 663.66,105.20 655.46,105.20" fill="#000080"/>
<path d="M667.95,98.50V104.50M665.30,98.50h5.3M665.30,104.50h5.3" stroke="#000080" stroke-width="1.0" fill="none" opacity="0.85"/>
<polygon points="667.95,98.20 672.05,104.80 663.85,104.80" fill="#000080"/>
<path d="M675.85,87.50V101.00M673.20,87.50h5.3M673.20,101.00h5.3" stroke="#000080" stroke-width="1.0" fill="none" opacity="0.85"/>
<polygon points="675.85,91.70 679.95,98.30 671.75,98.30" fill="#000080"/>
<path d="M427.98,38.20V68.30M425.33,38.20h5.3M425.33,68.30h5.3" stroke="#8000ff" stroke-width="1.0" fill="none" opacity="0.85"/>
<polygon points="427.98,47.10 432.08,53.70 423.88,53.70" fill="#8000ff"/>
<path d="M467.78,82.30V102.30M465.13,82.30h5.3M465.13,102.30h5.3" stroke="#8000ff" stroke-width="1.0" fill="none" opacity="0.85"/>
<polygon points="467.78,90.00 471.88,96.60 463.68,96.60" fill="#8000ff"/>
<path d="M498.65,89.00V95.00M496.00,89.00h5.3M496.00,95.00h5.3" stroke="#8000ff" stroke-width="1.0" fill="none" opacity="0.85"/>
<polygon points="498.65,88.70 502.75,95.30 494.55,95.30" fill="#8000ff"/>
<path d="M523.87,96.00V102.00M521.22,96.00h5.3M521.22,102.00h5.3" stroke="#8000ff" stroke-width="1.0" fill="none" opacity="0.85"/>
<polygon points="523.87,95.70 527.97,102.30 519.77,102.30" fill="#8000ff"/>
<path d="M545.20,100.50V106.50M542.55,100.50h5.3M542.55,106.50h5.3" stroke="#8000ff" stroke-width="1.0" fill="none" opacity="0.85"/>
<polygon points="545.20,100.20 549.30,106.80 541.10,106.80" fill="#8000ff"/>
<path d="M563.67,96.50V102.50M561.02,96.50h5.3M561.02,102.50h5.3" stroke="#8000ff" stroke-width="1.0" fill="none" opacity="0.85"/>
<polygon points="563.67,96.20 567.77,102.80 559.57,102.80" fill="#8000ff"/>
<path d="M579.96,97.00V103.00M577.31,97.00h5.3M577.31,103.00h5.3" stroke="#8000ff" stroke-width="1.0" fill="none" opacity="0.85"/>
<polygon points="579.96,96.70 584.06,103.30 575.86,103.30" fill="#8000ff"/>
<path d="M594.54,99.70V105.70M591.89,99.70h5.3M591.89,105.70h5.3" stroke="#8000ff" stroke-width="1.0" fill="none" opacity="0.85"/>
<polygon points="594.54,99.40 598.64,106.00 590.44,106.00" fill="#8000ff"/>
<path d="M607.72,97.50V103.50M605.07,97.50h5.3M605.07,103.50h5.3" stroke="#8000ff" stroke-width="1.0" fill="none" opacity="0.85"/>
<polygon points="607.72,97.20 611.82,103.80 603.62,103.80" fill="#8000ff"/>
<path d="M619.76,96.80V102.80M617.11,96.80h5.3M617.11,102.80h5.3" stroke="#8000ff" stroke-width="1.0" fill="none" opacity="0.85"/>
<polygon points="619.76,96.50 623.86,103.10 615.66,103.10" fill="#8000ff"/>
<path d="M630.84,97.20V103.20M628.19,97.20h5.3M628.19,103.20h5.3" stroke="#8000ff" stroke-width="1.0" fill="none" opacity="0.85"/>
<polygon points="630.84,96.90 634.94,103.50 626.74,103.50" fill="#8000ff"/>
<path d="M641.09,98.00V104.00M638.44,98.00h5.3M638.44,104.00h5.3" stroke="#8000ff" stroke-width="1.0" fill="none" opacity="0.85"/>
<polygon points="641.09,97.70 645.19,104.30 636.99,104.30" fill="#8000ff"/>
<path d="M650.63,101.50V107.50M647.98,101.50h5.3M647.98,107.50h5.3" stroke="#8000ff" stroke-width="1.0" fill="none" opacity="0.85"/>
<polygon points="650.63,101.20 654.73,107.80 646.53,107.80" fill="#8000ff"/>
<path d="M659.56,101.00V107.00M656.91,101.00h5.3M656.91,107.00h5.3" stroke="#8000ff" stroke-width="1.0" fill="none" opacity="0.85"/>
<polygon points="659.56,100.70 663.66,107.30 655.46,107.30" fill="#8000ff"/>
<path d="M667.95,99.00V105.00M665.30,99.00h5.3M665.30,105.00h5.3" stroke="#8000ff" stroke-width="1.0" fill="none" opacity="0.85"/>
<polygon points="667.95,98.70 672.05,105.30 663.85,105.30" fill="#8000ff"/>
<path d="M675.85,98.10V104.10M673.20,98.10h5.3M673.20,104.10h5.3" stroke="#8000ff" stroke-width="1.0" fill="none" opacity="0.85"/>
<polygon points="675.85,97.80 679.95,104.40 671.75,104.40" fill="#8000ff"/>
<path d="M467.78,93.10V110.40M465.13,93.10h5.3M465.13,110.40h5.3" stroke="#ff00ff" stroke-width="1.0" fill="none" opacity="0.85"/>
<polygon points="467.78,95.80 471.88,102.40 463.68,102.40" fill="#ff00ff"/>
<path d="M498.65,94.20V100.20M496.00,94.20h5.3M496.00,100.20h5.3" stroke="#ff00ff" stroke-width="1.0" fill="none" opacity="0.85"/>
<polygon points="498.65,93.90 502.75,100.50 494.55,100.50" fill="#ff00ff"/>
<path d="M523.87,97.00V103.00M521.22,97.00h5.3M521.22,103.00h5.3" stroke="#ff00ff" stroke-width="1.0" fill="none" opacity="0.85"/>
<polygon points="523.87,96.70 527.97,103.30 519.77,103.30" fill="#ff00ff"/>
<path d="M545.20,101.50V107.50M542.55,101.50h5.3M542.55,107.50h5.3" stroke="#ff00ff" stroke-width="1.0" fill="none" opacity="0.85"/>
<polygon points="545.20,101.20 549.30,107.80 541.10,107.80" fill="#ff00ff"/>
<path d="M563.67,97.00V103.00M561.02,97.00h5.3M561.02,103.00h5.3" stroke="#ff00ff" stroke-width="1.0" fill="none" opacity="0.85"/>
<polygon points="563.67,96.70 567.77,103.30 559.57,103.30" fill="#ff00ff"/>
<path d="M579.96,97.60V103.60M577.31,97.60h5.3M577.31,103.60h5.3" stroke="#ff00ff" stroke-width="1.0" fill="none" opacity="0.85"/>
<polygon points="579.96,97.30 584.06,103.90 575.86,103.90" fill="#ff00ff"/>
<path d="M594.54,99.00V105.00M591.89,99.00h5.3M591.89,105.00h5.3" stroke="#ff00ff" stroke-width="1.0" fill="none" opacity="0.85"/>
<polygon points="594.54,98.70 598.64,105.30 590.44,105.30" fill="#ff00ff"/>
<path d="M607.72,96.30V102.30M605.07,96.30h5.3M605.07,102.30h5.3" stroke="#ff00ff" stroke-width="1.0" fill="none" opacity="0.85"/>
<polygon points="607.72,96.00 611.82,102.60 603.62,102.60" fill="#ff00ff"/>
<path d="M619.76,93.50V99.50M617.11,93.50h5.3M617.11,99.50h5.3" stroke="#ff00ff" stroke-width="1.0" fill="none" opacity="0.85"/>
<polygon points="619.76,93.20 623.86,99.80 615.66,99.80" fill="#ff00ff"/>
<path d="M630.84,97.00V103.00M628.19,97.00h5.3M628.19,103.00h5.3" stroke="#ff00ff" stroke-width="1.0" fill="none" opacity="0.85"/>
<polygon points="630.84,96.70 634.94,103.30 626.74,103.30" fill="#ff00ff"/>
<path d="M641.09,92.80V98.80M638.44,92.80h5.3M638.44,98.80h5.3" stroke="#ff00ff" stroke-width="1.0" fill="none" opacity="0.85"/>
<polygon points="641.09,92.50 645.19,99.10 636.99,99.10" fill="#ff00ff"/>
<path d="M650.63,104.20V110.20M647.98,104.20h5.3M647.98,110.20h5.3" stroke="#ff00ff" stroke-width="1.0" fill="none" opacity="0.85"/>
<polygon points="650.63,103.90 654.73,110.50 646.53,110.50" fill="#ff00ff"/>
<path d="M659.56,102.70V108.70M656.91,102.70h5.3M656.91,108.70h5.3" stroke="#ff00ff" stroke-width="1.0" fill="none" opacity="0.85"/>
<polygon points="659.56,102.40 663.66,109.00 655.46,109.00" fill="#ff00ff"/>
<path d="M667.95,95.90V106.50M665.30,95.90h5.3M665.30,106.50h5.3" stroke="#ff00ff" stroke-width="1.0" fill="none" opacity="0.85"/>
<polygon points="667.95,98.20 672.05,104.80 663.85,104.80" fill="#ff00ff"/>
<path d="M675.85,97.00V103.00M673.20,97.00h5.3M673.20,103.00h5.3" stroke="#ff00ff" stroke-width="1.0" fill="none" opacity="0.85"/>
<polygon points="675.85,96.70 679.95,103.30 671.75,103.30" fill="#ff00ff"/>
</g>
<clipPath id="cpc"><rect x="70.20" y="287.50" width="271.20" height="216.60"/></clipPath>
<g clip-path="url(#cpc)">
<path d="M88.23,460.50V459.80M85.58,459.80h5.3M88.23,467.90V469.60M85.58,469.60h5.3" stroke="#ff0000" stroke-width="1.0" fill="none" opacity="0.85"/>
<polygon points="88.23,461.75 91.45,467.27 85.01,467.27" fill="none" stroke="#ff0000" stroke-width="1.25"/>
<path d="M128.03,442.40V441.30M125.38,441.30h5.3M128.03,449.80V450.90M125.38,450.90h5.3" stroke="#ff0000" stroke-width="1.0" fill="none" opacity="0.85"/>
<polygon points="128.03,443.65 131.25,449.18 124.81,449.18" fill="none" stroke="#ff0000" stroke-width="1.25"/>

<polygon points="158.90,435.05 162.12,440.57 155.68,440.57" fill="none" stroke="#ff0000" stroke-width="1.25"/>

<polygon points="184.12,416.95 187.34,422.47 180.90,422.47" fill="none" stroke="#ff0000" stroke-width="1.25"/>

<polygon points="205.45,411.95 208.66,417.47 202.23,417.47" fill="none" stroke="#ff0000" stroke-width="1.25"/>

<polygon points="223.92,402.65 227.14,408.18 220.70,408.18" fill="none" stroke="#ff0000" stroke-width="1.25"/>

<polygon points="240.21,400.45 243.43,405.97 237.00,405.97" fill="none" stroke="#ff0000" stroke-width="1.25"/>

<polygon points="254.79,396.65 258.01,402.18 251.57,402.18" fill="none" stroke="#ff0000" stroke-width="1.25"/>

<polygon points="267.97,396.25 271.19,401.77 264.76,401.77" fill="none" stroke="#ff0000" stroke-width="1.25"/>

<polygon points="280.01,395.65 283.23,401.18 276.79,401.18" fill="none" stroke="#ff0000" stroke-width="1.25"/>

<polygon points="291.09,393.85 294.30,399.38 287.87,399.38" fill="none" stroke="#ff0000" stroke-width="1.25"/>

<polygon points="301.34,393.25 304.56,398.77 298.12,398.77" fill="none" stroke="#ff0000" stroke-width="1.25"/>

<polygon points="310.88,395.05 314.10,400.57 307.66,400.57" fill="none" stroke="#ff0000" stroke-width="1.25"/>

<polygon points="319.81,395.55 323.03,401.07 316.59,401.07" fill="none" stroke="#ff0000" stroke-width="1.25"/>

<polygon points="328.20,390.95 331.41,396.47 324.98,396.47" fill="none" stroke="#ff0000" stroke-width="1.25"/>

<polygon points="336.10,398.55 339.32,404.07 332.89,404.07" fill="none" stroke="#ff0000" stroke-width="1.25"/>
<path d="M88.23,417.90V415.00M85.58,415.00h5.3M88.23,425.30V432.50M85.58,432.50h5.3" stroke="#ff8000" stroke-width="1.0" fill="none" opacity="0.85"/>
<polygon points="88.23,419.15 91.45,424.68 85.01,424.68" fill="none" stroke="#ff8000" stroke-width="1.25"/>
<path d="M128.03,421.10V420.00M125.38,420.00h5.3M128.03,428.50V429.60M125.38,429.60h5.3" stroke="#ff8000" stroke-width="1.0" fill="none" opacity="0.85"/>
<polygon points="128.03,422.35 131.25,427.88 124.81,427.88" fill="none" stroke="#ff8000" stroke-width="1.25"/>
<path d="M158.90,421.10V420.30M156.25,420.30h5.3M158.90,428.50V429.30M156.25,429.30h5.3" stroke="#ff8000" stroke-width="1.0" fill="none" opacity="0.85"/>
<polygon points="158.90,422.35 162.12,427.88 155.68,427.88" fill="none" stroke="#ff8000" stroke-width="1.25"/>

<polygon points="184.12,409.65 187.34,415.18 180.90,415.18" fill="none" stroke="#ff8000" stroke-width="1.25"/>

<polygon points="205.45,407.05 208.66,412.57 202.23,412.57" fill="none" stroke="#ff8000" stroke-width="1.25"/>

<polygon points="223.92,399.35 227.14,404.88 220.70,404.88" fill="none" stroke="#ff8000" stroke-width="1.25"/>

<polygon points="240.21,397.75 243.43,403.27 237.00,403.27" fill="none" stroke="#ff8000" stroke-width="1.25"/>

<polygon points="254.79,395.55 258.01,401.07 251.57,401.07" fill="none" stroke="#ff8000" stroke-width="1.25"/>

<polygon points="267.97,395.05 271.19,400.57 264.76,400.57" fill="none" stroke="#ff8000" stroke-width="1.25"/>

<polygon points="280.01,394.55 283.23,400.07 276.79,400.07" fill="none" stroke="#ff8000" stroke-width="1.25"/>

<polygon points="291.09,393.85 294.30,399.38 287.87,399.38" fill="none" stroke="#ff8000" stroke-width="1.25"/>

<polygon points="301.34,392.65 304.56,398.18 298.12,398.18" fill="none" stroke="#ff8000" stroke-width="1.25"/>

<polygon points="310.88,393.55 314.10,399.07 307.66,399.07" fill="none" stroke="#ff8000" stroke-width="1.25"/>

<polygon points="319.81,395.05 323.03,400.57 316.59,400.57" fill="none" stroke="#ff8000" stroke-width="1.25"/>

<polygon points="328.20,393.55 331.41,399.07 324.98,399.07" fill="none" stroke="#ff8000" stroke-width="1.25"/>

<polygon points="336.10,399.05 339.32,404.57 332.89,404.57" fill="none" stroke="#ff8000" stroke-width="1.25"/>
<path d="M88.23,397.10V395.40M85.58,395.40h5.3M88.23,404.50V408.50M85.58,408.50h5.3" stroke="#00ff00" stroke-width="1.0" fill="none" opacity="0.85"/>
<polygon points="88.23,398.35 91.45,403.88 85.01,403.88" fill="none" stroke="#00ff00" stroke-width="1.25"/>
<path d="M128.03,401.70V400.40M125.38,400.40h5.3M128.03,409.10V412.00M125.38,412.00h5.3" stroke="#00ff00" stroke-width="1.0" fill="none" opacity="0.85"/>
<polygon points="128.03,402.95 131.25,408.47 124.81,408.47" fill="none" stroke="#00ff00" stroke-width="1.25"/>

<polygon points="158.90,412.35 162.12,417.88 155.68,417.88" fill="none" stroke="#00ff00" stroke-width="1.25"/>

<polygon points="184.12,401.65 187.34,407.18 180.90,407.18" fill="none" stroke="#00ff00" stroke-width="1.25"/>

<polygon points="205.45,400.45 208.66,405.97 202.23,405.97" fill="none" stroke="#00ff00" stroke-width="1.25"/>

<polygon points="223.92,395.55 227.14,401.07 220.70,401.07" fill="none" stroke="#00ff00" stroke-width="1.25"/>

<polygon points="240.21,395.55 243.43,401.07 237.00,401.07" fill="none" stroke="#00ff00" stroke-width="1.25"/>

<polygon points="254.79,394.45 258.01,399.97 251.57,399.97" fill="none" stroke="#00ff00" stroke-width="1.25"/>

<polygon points="267.97,393.25 271.19,398.77 264.76,398.77" fill="none" stroke="#00ff00" stroke-width="1.25"/>

<polygon points="280.01,393.25 283.23,398.77 276.79,398.77" fill="none" stroke="#00ff00" stroke-width="1.25"/>

<polygon points="291.09,392.65 294.30,398.18 287.87,398.18" fill="none" stroke="#00ff00" stroke-width="1.25"/>

<polygon points="301.34,391.55 304.56,397.07 298.12,397.07" fill="none" stroke="#00ff00" stroke-width="1.25"/>

<polygon points="310.88,391.55 314.10,397.07 307.66,397.07" fill="none" stroke="#00ff00" stroke-width="1.25"/>

<polygon points="319.81,395.05 323.03,400.57 316.59,400.57" fill="none" stroke="#00ff00" stroke-width="1.25"/>

<polygon points="328.20,394.55 331.41,400.07 324.98,400.07" fill="none" stroke="#00ff00" stroke-width="1.25"/>

<polygon points="336.10,399.25 339.32,404.77 332.89,404.77" fill="none" stroke="#00ff00" stroke-width="1.25"/>
<path d="M88.23,358.30V356.00M85.58,356.00h5.3M88.23,365.70V385.00M85.58,385.00h5.3" stroke="#008000" stroke-width="1.0" fill="none" opacity="0.85"/>
<polygon points="88.23,359.55 91.45,365.07 85.01,365.07" fill="none" stroke="#008000" stroke-width="1.25"/>
<path d="M128.03,387.00V385.70M125.38,385.70h5.3M128.03,394.40V395.70M125.38,395.70h5.3" stroke="#008000" stroke-width="1.0" fill="none" opacity="0.85"/>
<polygon points="128.03,388.25 131.25,393.77 124.81,393.77" fill="none" stroke="#008000" stroke-width="1.25"/>

<polygon points="158.90,407.65 162.12,413.18 155.68,413.18" fill="none" stroke="#008000" stroke-width="1.25"/>

<polygon points="184.12,394.95 187.34,400.47 180.90,400.47" fill="none" stroke="#008000" stroke-width="1.25"/>

<polygon points="205.45,394.95 208.66,400.47 202.23,400.47" fill="none" stroke="#008000" stroke-width="1.25"/>

<polygon points="223.92,391.15 227.14,396.68 220.70,396.68" fill="none" stroke="#008000" stroke-width="1.25"/>

<polygon points="240.21,391.75 243.43,397.27 237.00,397.27" fill="none" stroke="#008000" stroke-width="1.25"/>

<polygon points="254.79,391.55 258.01,397.07 251.57,397.07" fill="none" stroke="#008000" stroke-width="1.25"/>

<polygon points="267.97,391.55 271.19,397.07 264.76,397.07" fill="none" stroke="#008000" stroke-width="1.25"/>

<polygon points="280.01,391.55 283.23,397.07 276.79,397.07" fill="none" stroke="#008000" stroke-width="1.25"/>

<polygon points="291.09,390.95 294.30,396.47 287.87,396.47" fill="none" stroke="#008000" stroke-width="1.25"/>

<polygon points="301.34,389.75 304.56,395.27 298.12,395.27" fill="none" stroke="#008000" stroke-width="1.25"/>

<polygon points="310.88,391.05 314.10,396.57 307.66,396.57" fill="none" stroke="#008000" stroke-width="1.25"/>

<polygon points="319.81,394.55 323.03,400.07 316.59,400.07" fill="none" stroke="#008000" stroke-width="1.25"/>

<polygon points="328.20,395.55 331.41,401.07 324.98,401.07" fill="none" stroke="#008000" stroke-width="1.25"/>

<polygon points="336.10,398.55 339.32,404.07 332.89,404.07" fill="none" stroke="#008000" stroke-width="1.25"/>
<path d="M88.23,340.40V327.40M85.58,327.40h5.3M88.23,347.80V370.10M85.58,370.10h5.3" stroke="#008080" stroke-width="1.0" fill="none" opacity="0.85"/>
<polygon points="88.23,341.65 91.45,347.18 85.01,347.18" fill="none" stroke="#008080" stroke-width="1.25"/>

<polygon points="128.03,363.55 131.25,369.07 124.81,369.07" fill="none" stroke="#008080" stroke-width="1.25"/>

<polygon points="158.90,403.65 162.12,409.18 155.68,409.18" fill="none" stroke="#008080" stroke-width="1.25"/>

<polygon points="184.12,392.25 187.34,397.77 180.90,397.77" fill="none" stroke="#008080" stroke-width="1.25"/>

<polygon points="205.45,392.25 208.66,397.77 202.23,397.77" fill="none" stroke="#008080" stroke-width="1.25"/>

<polygon points="223.92,388.55 227.14,394.07 220.70,394.07" fill="none" stroke="#008080" stroke-width="1.25"/>

<polygon points="240.21,390.05 243.43,395.57 237.00,395.57" fill="none" stroke="#008080" stroke-width="1.25"/>

<polygon points="254.79,388.95 258.01,394.47 251.57,394.47" fill="none" stroke="#008080" stroke-width="1.25"/>

<polygon points="267.97,389.15 271.19,394.68 264.76,394.68" fill="none" stroke="#008080" stroke-width="1.25"/>

<polygon points="280.01,390.55 283.23,396.07 276.79,396.07" fill="none" stroke="#008080" stroke-width="1.25"/>

<polygon points="291.09,389.55 294.30,395.07 287.87,395.07" fill="none" stroke="#008080" stroke-width="1.25"/>

<polygon points="301.34,388.55 304.56,394.07 298.12,394.07" fill="none" stroke="#008080" stroke-width="1.25"/>

<polygon points="310.88,389.55 314.10,395.07 307.66,395.07" fill="none" stroke="#008080" stroke-width="1.25"/>

<polygon points="319.81,393.55 323.03,399.07 316.59,399.07" fill="none" stroke="#008080" stroke-width="1.25"/>

<polygon points="328.20,396.05 331.41,401.57 324.98,401.57" fill="none" stroke="#008080" stroke-width="1.25"/>

<polygon points="336.10,397.55 339.32,403.07 332.89,403.07" fill="none" stroke="#008080" stroke-width="1.25"/>
<path d="M88.23,363.30V361.00M85.58,361.00h5.3M88.23,370.70V383.00M85.58,383.00h5.3" stroke="#00ffff" stroke-width="1.0" fill="none" opacity="0.85"/>
<polygon points="88.23,364.55 91.45,370.07 85.01,370.07" fill="none" stroke="#00ffff" stroke-width="1.25"/>
<path d="M128.03,352.30V335.00M125.38,335.00h5.3M128.03,359.70V370.00M125.38,370.00h5.3" stroke="#00ffff" stroke-width="1.0" fill="none" opacity="0.85"/>
<polygon points="128.03,353.55 131.25,359.07 124.81,359.07" fill="none" stroke="#00ffff" stroke-width="1.25"/>

<polygon points="158.90,398.25 162.12,403.77 155.68,403.77" fill="none" stroke="#00ffff" stroke-width="1.25"/>

<polygon points="184.12,391.65 187.34,397.18 180.90,397.18" fill="none" stroke="#00ffff" stroke-width="1.25"/>

<polygon points="205.45,387.85 208.66,393.38 202.23,393.38" fill="none" stroke="#00ffff" stroke-width="1.25"/>

<polygon points="223.92,387.05 227.14,392.57 220.70,392.57" fill="none" stroke="#00ffff" stroke-width="1.25"/>

<polygon points="240.21,388.95 243.43,394.47 237.00,394.47" fill="none" stroke="#00ffff" stroke-width="1.25"/>

<polygon points="254.79,388.55 258.01,394.07 251.57,394.07" fill="none" stroke="#00ffff" stroke-width="1.25"/>

<polygon points="267.97,388.55 271.19,394.07 264.76,394.07" fill="none" stroke="#00ffff" stroke-width="1.25"/>

<polygon points="280.01,389.15 283.23,394.68 276.79,394.68" fill="none" stroke="#00ffff" stroke-width="1.25"/>

<polygon points="291.09,388.55 294.30,394.07 287.87,394.07" fill="none" stroke="#00ffff" stroke-width="1.25"/>

<polygon points="301.34,386.75 304.56,392.27 298.12,392.27" fill="none" stroke="#00ffff" stroke-width="1.25"/>

<polygon points="310.88,387.55 314.10,393.07 307.66,393.07" fill="none" stroke="#00ffff" stroke-width="1.25"/>

<polygon points="319.81,392.65 323.03,398.18 316.59,398.18" fill="none" stroke="#00ffff" stroke-width="1.25"/>

<polygon points="328.20,396.25 331.41,401.77 324.98,401.77" fill="none" stroke="#00ffff" stroke-width="1.25"/>

<polygon points="336.10,393.25 339.32,398.77 332.89,398.77" fill="none" stroke="#00ffff" stroke-width="1.25"/>
<path d="M88.23,361.30V359.00M85.58,359.00h5.3M88.23,368.70V373.00M85.58,373.00h5.3" stroke="#0000ff" stroke-width="1.0" fill="none" opacity="0.85"/>
<polygon points="88.23,362.55 91.45,368.07 85.01,368.07" fill="none" stroke="#0000ff" stroke-width="1.25"/>
<path d="M128.03,360.30V354.00M125.38,354.00h5.3M128.03,367.70V376.00M125.38,376.00h5.3" stroke="#0000ff" stroke-width="1.0" fill="none" opacity="0.85"/>
<polygon points="128.03,361.55 131.25,367.07 124.81,367.07" fill="none" stroke="#0000ff" stroke-width="1.25"/>

<polygon points="158.90,396.25 162.12,401.77 155.68,401.77" fill="none" stroke="#0000ff" stroke-width="1.25"/>

<polygon points="184.12,391.05 187.34,396.57 180.90,396.57" fill="none" stroke="#0000ff" stroke-width="1.25"/>

<polygon points="205.45,385.55 208.66,391.07 202.23,391.07" fill="none" stroke="#0000ff" stroke-width="1.25"/>

<polygon points="223.92,386.25 227.14,391.77 220.70,391.77" fill="none" stroke="#0000ff" stroke-width="1.25"/>

<polygon points="240.21,385.55 243.43,391.07 237.00,391.07" fill="none" stroke="#0000ff" stroke-width="1.25"/>

<polygon points="254.79,386.55 258.01,392.07 251.57,392.07" fill="none" stroke="#0000ff" stroke-width="1.25"/>

<polygon points="267.97,385.55 271.19,391.07 264.76,391.07" fill="none" stroke="#0000ff" stroke-width="1.25"/>

<polygon points="280.01,385.55 283.23,391.07 276.79,391.07" fill="none" stroke="#0000ff" stroke-width="1.25"/>

<polygon points="291.09,387.55 294.30,393.07 287.87,393.07" fill="none" stroke="#0000ff" stroke-width="1.25"/>

<polygon points="301.34,383.55 304.56,389.07 298.12,389.07" fill="none" stroke="#0000ff" stroke-width="1.25"/>

<polygon points="310.88,384.35 314.10,389.88 307.66,389.88" fill="none" stroke="#0000ff" stroke-width="1.25"/>

<polygon points="319.81,390.55 323.03,396.07 316.59,396.07" fill="none" stroke="#0000ff" stroke-width="1.25"/>

<polygon points="328.20,396.25 331.41,401.77 324.98,401.77" fill="none" stroke="#0000ff" stroke-width="1.25"/>

<polygon points="336.10,393.25 339.32,398.77 332.89,398.77" fill="none" stroke="#0000ff" stroke-width="1.25"/>
<path d="M88.23,359.70V357.40M85.58,357.40h5.3M88.23,367.10V373.90M85.58,373.90h5.3" stroke="#000080" stroke-width="1.0" fill="none" opacity="0.85"/>
<polygon points="88.23,360.95 91.45,366.47 85.01,366.47" fill="none" stroke="#000080" stroke-width="1.25"/>

<polygon points="128.03,366.95 131.25,372.47 124.81,372.47" fill="none" stroke="#000080" stroke-width="1.25"/>

<polygon points="158.90,394.95 162.12,400.47 155.68,400.47" fill="none" stroke="#000080" stroke-width="1.25"/>

<polygon points="184.12,386.95 187.34,392.47 180.90,392.47" fill="none" stroke="#000080" stroke-width="1.25"/>

<polygon points="205.45,382.95 208.66,388.47 202.23,388.47" fill="none" stroke="#000080" stroke-width="1.25"/>

<polygon points="223.92,386.25 227.14,391.77 220.70,391.77" fill="none" stroke="#000080" stroke-width="1.25"/>

<polygon points="240.21,382.95 243.43,388.47 237.00,388.47" fill="none" stroke="#000080" stroke-width="1.25"/>

<polygon points="254.79,385.55 258.01,391.07 251.57,391.07" fill="none" stroke="#000080" stroke-width="1.25"/>

<polygon points="267.97,385.55 271.19,391.07 264.76,391.07" fill="none" stroke="#000080" stroke-width="1.25"/>

<polygon points="280.01,383.75 283.23,389.27 276.79,389.27" fill="none" stroke="#000080" stroke-width="1.25"/>

<polygon points="291.09,387.35 294.30,392.88 287.87,392.88" fill="none" stroke="#000080" stroke-width="1.25"/>

<polygon points="301.34,380.75 304.56,386.27 298.12,386.27" fill="none" stroke="#000080" stroke-width="1.25"/>

<polygon points="310.88,386.55 314.10,392.07 307.66,392.07" fill="none" stroke="#000080" stroke-width="1.25"/>

<polygon points="319.81,388.55 323.03,394.07 316.59,394.07" fill="none" stroke="#000080" stroke-width="1.25"/>

<polygon points="328.20,393.55 331.41,399.07 324.98,399.07" fill="none" stroke="#000080" stroke-width="1.25"/>

<polygon points="336.10,395.55 339.32,401.07 332.89,401.07" fill="none" stroke="#000080" stroke-width="1.25"/>
<path d="M88.23,353.20V350.90M85.58,350.90h5.3M88.23,360.60V362.90M85.58,362.90h5.3" stroke="#8000ff" stroke-width="1.0" fill="none" opacity="0.85"/>
<polygon points="88.23,354.45 91.45,359.97 85.01,359.97" fill="none" stroke="#8000ff" stroke-width="1.25"/>

<polygon points="128.03,366.25 131.25,371.77 124.81,371.77" fill="none" stroke="#8000ff" stroke-width="1.25"/>

<polygon points="158.90,386.25 162.12,391.77 155.68,391.77" fill="none" stroke="#8000ff" stroke-width="1.25"/>

<polygon points="184.12,384.95 187.34,390.47 180.90,390.47" fill="none" stroke="#8000ff" stroke-width="1.25"/>

<polygon points="205.45,380.25 208.66,385.77 202.23,385.77" fill="none" stroke="#8000ff" stroke-width="1.25"/>

<polygon points="223.92,382.95 227.14,388.47 220.70,388.47" fill="none" stroke="#8000ff" stroke-width="1.25"/>

<polygon points="240.21,382.95 243.43,388.47 237.00,388.47" fill="none" stroke="#8000ff" stroke-width="1.25"/>

<polygon points="254.79,383.55 258.01,389.07 251.57,389.07" fill="none" stroke="#8000ff" stroke-width="1.25"/>

<polygon points="267.97,381.95 271.19,387.47 264.76,387.47" fill="none" stroke="#8000ff" stroke-width="1.25"/>

<polygon points="280.01,385.55 283.23,391.07 276.79,391.07" fill="none" stroke="#8000ff" stroke-width="1.25"/>

<polygon points="291.09,385.55 294.30,391.07 287.87,391.07" fill="none" stroke="#8000ff" stroke-width="1.25"/>

<polygon points="301.34,382.55 304.56,388.07 298.12,388.07" fill="none" stroke="#8000ff" stroke-width="1.25"/>

<polygon points="310.88,386.75 314.10,392.27 307.66,392.27" fill="none" stroke="#8000ff" stroke-width="1.25"/>

<polygon points="319.81,387.55 323.03,393.07 316.59,393.07" fill="none" stroke="#8000ff" stroke-width="1.25"/>

<polygon points="328.20,393.25 331.41,398.77 324.98,398.77" fill="none" stroke="#8000ff" stroke-width="1.25"/>

<polygon points="336.10,396.25 339.32,401.77 332.89,401.77" fill="none" stroke="#8000ff" stroke-width="1.25"/>

<polygon points="88.23,354.55 91.45,360.07 85.01,360.07" fill="none" stroke="#ff00ff" stroke-width="1.25"/>
<path d="M128.03,369.70V368.40M125.38,368.40h5.3M128.03,377.10V379.40M125.38,379.40h5.3" stroke="#ff00ff" stroke-width="1.0" fill="none" opacity="0.85"/>
<polygon points="128.03,370.95 131.25,376.47 124.81,376.47" fill="none" stroke="#ff00ff" stroke-width="1.25"/>

<polygon points="158.90,379.65 162.12,385.18 155.68,385.18" fill="none" stroke="#ff00ff" stroke-width="1.25"/>

<polygon points="184.12,384.55 187.34,390.07 180.90,390.07" fill="none" stroke="#ff00ff" stroke-width="1.25"/>

<polygon points="205.45,378.55 208.66,384.07 202.23,384.07" fill="none" stroke="#ff00ff" stroke-width="1.25"/>

<polygon points="223.92,381.35 227.14,386.88 220.70,386.88" fill="none" stroke="#ff00ff" stroke-width="1.25"/>

<polygon points="240.21,384.55 243.43,390.07 237.00,390.07" fill="none" stroke="#ff00ff" stroke-width="1.25"/>

<polygon points="254.79,383.55 258.01,389.07 251.57,389.07" fill="none" stroke="#ff00ff" stroke-width="1.25"/>

<polygon points="267.97,378.95 271.19,384.47 264.76,384.47" fill="none" stroke="#ff00ff" stroke-width="1.25"/>

<polygon points="280.01,386.05 283.23,391.57 276.79,391.57" fill="none" stroke="#ff00ff" stroke-width="1.25"/>

<polygon points="291.09,382.55 294.30,388.07 287.87,388.07" fill="none" stroke="#ff00ff" stroke-width="1.25"/>

<polygon points="301.34,383.55 304.56,389.07 298.12,389.07" fill="none" stroke="#ff00ff" stroke-width="1.25"/>

<polygon points="310.88,386.75 314.10,392.27 307.66,392.27" fill="none" stroke="#ff00ff" stroke-width="1.25"/>

<polygon points="319.81,385.15 323.03,390.68 316.59,390.68" fill="none" stroke="#ff00ff" stroke-width="1.25"/>

<polygon points="328.20,393.25 331.41,398.77 324.98,398.77" fill="none" stroke="#ff00ff" stroke-width="1.25"/>

<polygon points="336.10,396.05 339.32,401.57 332.89,401.57" fill="none" stroke="#ff00ff" stroke-width="1.25"/>
</g>
<clipPath id="cpd"><rect x="410.30" y="287.50" width="271.20" height="216.60"/></clipPath>
<g clip-path="url(#cpd)">
<path d="M428.33,466.70V465.90M425.68,465.90h5.3M428.33,474.10V475.40M425.68,475.40h5.3" stroke="#ff0000" stroke-width="1.0" fill="none" opacity="0.85"/>
<polygon points="428.33,468.70 431.10,473.10 425.56,473.10" fill="none" stroke="#ff0000" stroke-width="2.0"/>

<polygon points="468.13,458.80 470.90,463.20 465.36,463.20" fill="none" stroke="#ff0000" stroke-width="2.0"/>

<polygon points="499.00,443.70 501.77,448.10 496.23,448.10" fill="none" stroke="#ff0000" stroke-width="2.0"/>

<polygon points="524.22,433.50 526.99,437.90 521.45,437.90" fill="none" stroke="#ff0000" stroke-width="2.0"/>

<polygon points="545.55,426.30 548.31,430.70 542.78,430.70" fill="none" stroke="#ff0000" stroke-width="2.0"/>

<polygon points="564.02,421.50 566.79,425.90 561.25,425.90" fill="none" stroke="#ff0000" stroke-width="2.0"/>

<polygon points="580.31,416.90 583.08,421.30 577.55,421.30" fill="none" stroke="#ff0000" stroke-width="2.0"/>

<polygon points="594.89,416.90 597.66,421.30 592.12,421.30" fill="none" stroke="#ff0000" stroke-width="2.0"/>

<polygon points="608.07,414.90 610.84,419.30 605.31,419.30" fill="none" stroke="#ff0000" stroke-width="2.0"/>

<polygon points="620.11,412.00 622.88,416.40 617.34,416.40" fill="none" stroke="#ff0000" stroke-width="2.0"/>

<polygon points="631.19,411.30 633.95,415.70 628.42,415.70" fill="none" stroke="#ff0000" stroke-width="2.0"/>

<polygon points="641.44,413.30 644.21,417.70 638.67,417.70" fill="none" stroke="#ff0000" stroke-width="2.0"/>

<polygon points="650.98,412.00 653.75,416.40 648.21,416.40" fill="none" stroke="#ff0000" stroke-width="2.0"/>

<polygon points="659.91,412.30 662.68,416.70 657.14,416.70" fill="none" stroke="#ff0000" stroke-width="2.0"/>

<polygon points="668.30,415.30 671.07,419.70 665.53,419.70" fill="none" stroke="#ff0000" stroke-width="2.0"/>

<polygon points="676.20,414.30 678.97,418.70 673.44,418.70" fill="none" stroke="#ff0000" stroke-width="2.0"/>
<path d="M428.33,431.70V427.40M425.68,427.40h5.3M428.33,439.10V447.40M425.68,447.40h5.3" stroke="#ff8000" stroke-width="1.0" fill="none" opacity="0.85"/>
<polygon points="428.33,433.70 431.10,438.10 425.56,438.10" fill="none" stroke="#ff8000" stroke-width="2.0"/>

<polygon points="468.13,440.30 470.90,444.70 465.36,444.70" fill="none" stroke="#ff8000" stroke-width="2.0"/>

<polygon points="499.00,434.00 501.77,438.40 496.23,438.40" fill="none" stroke="#ff8000" stroke-width="2.0"/>

<polygon points="524.22,426.30 526.99,430.70 521.45,430.70" fill="none" stroke="#ff8000" stroke-width="2.0"/>

<polygon points="545.55,423.30 548.31,427.70 542.78,427.70" fill="none" stroke="#ff8000" stroke-width="2.0"/>

<polygon points="564.02,418.40 566.79,422.80 561.25,422.80" fill="none" stroke="#ff8000" stroke-width="2.0"/>

<polygon points="580.31,415.30 583.08,419.70 577.55,419.70" fill="none" stroke="#ff8000" stroke-width="2.0"/>

<polygon points="594.89,415.30 597.66,419.70 592.12,419.70" fill="none" stroke="#ff8000" stroke-width="2.0"/>

<polygon points="608.07,413.80 610.84,418.20 605.31,418.20" fill="none" stroke="#ff8000" stroke-width="2.0"/>

<polygon points="620.11,411.30 622.88,415.70 617.34,415.70" fill="none" stroke="#ff8000" stroke-width="2.0"/>

<polygon points="631.19,410.80 633.95,415.20 628.42,415.20" fill="none" stroke="#ff8000" stroke-width="2.0"/>

<polygon points="641.44,412.80 644.21,417.20 638.67,417.20" fill="none" stroke="#ff8000" stroke-width="2.0"/>

<polygon points="650.98,411.80 653.75,416.20 648.21,416.20" fill="none" stroke="#ff8000" stroke-width="2.0"/>

<polygon points="659.91,412.30 662.68,416.70 657.14,416.70" fill="none" stroke="#ff8000" stroke-width="2.0"/>

<polygon points="668.30,415.30 671.07,419.70 665.53,419.70" fill="none" stroke="#ff8000" stroke-width="2.0"/>

<polygon points="676.20,414.30 678.97,418.70 673.44,418.70" fill="none" stroke="#ff8000" stroke-width="2.0"/>
<path d="M428.33,390.30V382.00M425.68,382.00h5.3M428.33,397.70V415.80M425.68,415.80h5.3" stroke="#00ff00" stroke-width="1.0" fill="none" opacity="0.85"/>
<polygon points="428.33,392.30 431.10,396.70 425.56,396.70" fill="none" stroke="#00ff00" stroke-width="2.0"/>

<polygon points="468.13,426.10 470.90,430.50 465.36,430.50" fill="none" stroke="#00ff00" stroke-width="2.0"/>

<polygon points="499.00,423.80 501.77,428.20 496.23,428.20" fill="none" stroke="#00ff00" stroke-width="2.0"/>

<polygon points="524.22,419.20 526.99,423.60 521.45,423.60" fill="none" stroke="#00ff00" stroke-width="2.0"/>

<polygon points="545.55,418.70 548.31,423.10 542.78,423.10" fill="none" stroke="#00ff00" stroke-width="2.0"/>

<polygon points="564.02,415.40 566.79,419.80 561.25,419.80" fill="none" stroke="#00ff00" stroke-width="2.0"/>

<polygon points="580.31,413.30 583.08,417.70 577.55,417.70" fill="none" stroke="#00ff00" stroke-width="2.0"/>

<polygon points="594.89,413.80 597.66,418.20 592.12,418.20" fill="none" stroke="#00ff00" stroke-width="2.0"/>

<polygon points="608.07,413.30 610.84,417.70 605.31,417.70" fill="none" stroke="#00ff00" stroke-width="2.0"/>

<polygon points="620.11,410.30 622.88,414.70 617.34,414.70" fill="none" stroke="#00ff00" stroke-width="2.0"/>

<polygon points="631.19,410.30 633.95,414.70 628.42,414.70" fill="none" stroke="#00ff00" stroke-width="2.0"/>

<polygon points="641.44,413.30 644.21,417.70 638.67,417.70" fill="none" stroke="#00ff00" stroke-width="2.0"/>

<polygon points="650.98,410.30 653.75,414.70 648.21,414.70" fill="none" stroke="#00ff00" stroke-width="2.0"/>

<polygon points="659.91,411.80 662.68,416.20 657.14,416.20" fill="none" stroke="#00ff00" stroke-width="2.0"/>

<polygon points="668.30,415.40 671.07,419.80 665.53,419.80" fill="none" stroke="#00ff00" stroke-width="2.0"/>

<polygon points="676.20,414.30 678.97,418.70 673.44,418.70" fill="none" stroke="#00ff00" stroke-width="2.0"/>
<path d="M428.33,335.20V314.90M425.68,314.90h5.3M428.33,342.60V368.90M425.68,368.90h5.3" stroke="#008000" stroke-width="1.0" fill="none" opacity="0.85"/>
<polygon points="428.33,337.20 431.10,341.60 425.56,341.60" fill="none" stroke="#008000" stroke-width="2.0"/>

<polygon points="468.13,417.30 470.90,421.70 465.36,421.70" fill="none" stroke="#008000" stroke-width="2.0"/>

<polygon points="499.00,421.70 501.77,426.10 496.23,426.10" fill="none" stroke="#008000" stroke-width="2.0"/>

<polygon points="524.22,413.60 526.99,418.00 521.45,418.00" fill="none" stroke="#008000" stroke-width="2.0"/>

<polygon points="545.55,414.10 548.31,418.50 542.78,418.50" fill="none" stroke="#008000" stroke-width="2.0"/>

<polygon points="564.02,412.30 566.79,416.70 561.25,416.70" fill="none" stroke="#008000" stroke-width="2.0"/>

<polygon points="580.31,410.30 583.08,414.70 577.55,414.70" fill="none" stroke="#008000" stroke-width="2.0"/>

<polygon points="594.89,411.30 597.66,415.70 592.12,415.70" fill="none" stroke="#008000" stroke-width="2.0"/>

<polygon points="608.07,411.80 610.84,416.20 605.31,416.20" fill="none" stroke="#008000" stroke-width="2.0"/>

<polygon points="620.11,409.80 622.88,414.20 617.34,414.20" fill="none" stroke="#008000" stroke-width="2.0"/>

<polygon points="631.19,409.30 633.95,413.70 628.42,413.70" fill="none" stroke="#008000" stroke-width="2.0"/>

<polygon points="641.44,412.30 644.21,416.70 638.67,416.70" fill="none" stroke="#008000" stroke-width="2.0"/>

<polygon points="650.98,409.80 653.75,414.20 648.21,414.20" fill="none" stroke="#008000" stroke-width="2.0"/>

<polygon points="659.91,411.30 662.68,415.70 657.14,415.70" fill="none" stroke="#008000" stroke-width="2.0"/>

<polygon points="668.30,414.30 671.07,418.70 665.53,418.70" fill="none" stroke="#008000" stroke-width="2.0"/>

<polygon points="676.20,413.30 678.97,417.70 673.44,417.70" fill="none" stroke="#008000" stroke-width="2.0"/>
<path d="M428.33,342.60V325.80M425.68,325.80h5.3M428.33,350.00V371.30M425.68,371.30h5.3" stroke="#008080" stroke-width="1.0" fill="none" opacity="0.85"/>
<polygon points="428.33,344.60 431.10,349.00 425.56,349.00" fill="none" stroke="#008080" stroke-width="2.0"/>

<polygon points="468.13,410.80 470.90,415.20 465.36,415.20" fill="none" stroke="#008080" stroke-width="2.0"/>

<polygon points="499.00,418.20 501.77,422.60 496.23,422.60" fill="none" stroke="#008080" stroke-width="2.0"/>

<polygon points="524.22,410.50 526.99,414.90 521.45,414.90" fill="none" stroke="#008080" stroke-width="2.0"/>

<polygon points="545.55,410.50 548.31,414.90 542.78,414.90" fill="none" stroke="#008080" stroke-width="2.0"/>

<polygon points="564.02,409.80 566.79,414.20 561.25,414.20" fill="none" stroke="#008080" stroke-width="2.0"/>

<polygon points="580.31,409.30 583.08,413.70 577.55,413.70" fill="none" stroke="#008080" stroke-width="2.0"/>

<polygon points="594.89,409.30 597.66,413.70 592.12,413.70" fill="none" stroke="#008080" stroke-width="2.0"/>

<polygon points="608.07,410.30 610.84,414.70 605.31,414.70" fill="none" stroke="#008080" stroke-width="2.0"/>

<polygon points="620.11,408.80 622.88,413.20 617.34,413.20" fill="none" stroke="#008080" stroke-width="2.0"/>

<polygon points="631.19,408.80 633.95,413.20 628.42,413.20" fill="none" stroke="#008080" stroke-width="2.0"/>

<polygon points="641.44,411.30 644.21,415.70 638.67,415.70" fill="none" stroke="#008080" stroke-width="2.0"/>

<polygon points="650.98,409.30 653.75,413.70 648.21,413.70" fill="none" stroke="#008080" stroke-width="2.0"/>

<polygon points="659.91,410.80 662.68,415.20 657.14,415.20" fill="none" stroke="#008080" stroke-width="2.0"/>

<polygon points="668.30,413.30 671.07,417.70 665.53,417.70" fill="none" stroke="#008080" stroke-width="2.0"/>

<polygon points="676.20,412.80 678.97,417.20 673.44,417.20" fill="none" stroke="#008080" stroke-width="2.0"/>
<path d="M428.33,396.30V392.00M425.68,392.00h5.3M428.33,403.70V406.60M425.68,406.60h5.3" stroke="#00ffff" stroke-width="1.0" fill="none" opacity="0.85"/>
<polygon points="428.33,398.30 431.10,402.70 425.56,402.70" fill="none" stroke="#00ffff" stroke-width="2.0"/>

<polygon points="468.13,408.30 470.90,412.70 465.36,412.70" fill="none" stroke="#00ffff" stroke-width="2.0"/>

<polygon points="499.00,416.30 501.77,420.70 496.23,420.70" fill="none" stroke="#00ffff" stroke-width="2.0"/>

<polygon points="524.22,407.90 526.99,412.30 521.45,412.30" fill="none" stroke="#00ffff" stroke-width="2.0"/>

<polygon points="545.55,407.90 548.31,412.30 542.78,412.30" fill="none" stroke="#00ffff" stroke-width="2.0"/>

<polygon points="564.02,408.30 566.79,412.70 561.25,412.70" fill="none" stroke="#00ffff" stroke-width="2.0"/>

<polygon points="580.31,408.30 583.08,412.70 577.55,412.70" fill="none" stroke="#00ffff" stroke-width="2.0"/>

<polygon points="594.89,408.30 597.66,412.70 592.12,412.70" fill="none" stroke="#00ffff" stroke-width="2.0"/>

<polygon points="608.07,409.30 610.84,413.70 605.31,413.70" fill="none" stroke="#00ffff" stroke-width="2.0"/>

<polygon points="620.11,408.30 622.88,412.70 617.34,412.70" fill="none" stroke="#00ffff" stroke-width="2.0"/>

<polygon points="631.19,408.30 633.95,412.70 628.42,412.70" fill="none" stroke="#00ffff" stroke-width="2.0"/>

<polygon points="641.44,410.30 644.21,414.70 638.67,414.70" fill="none" stroke="#00ffff" stroke-width="2.0"/>

<polygon points="650.98,408.30 653.75,412.70 648.21,412.70" fill="none" stroke="#00ffff" stroke-width="2.0"/>

<polygon points="659.91,410.30 662.68,414.70 657.14,414.70" fill="none" stroke="#00ffff" stroke-width="2.0"/>

<polygon points="668.30,412.30 671.07,416.70 665.53,416.70" fill="none" stroke="#00ffff" stroke-width="2.0"/>

<polygon points="676.20,412.30 678.97,416.70 673.44,416.70" fill="none" stroke="#00ffff" stroke-width="2.0"/>
<path d="M428.33,393.50V391.20M425.68,391.20h5.3M428.33,400.90V403.20M425.68,403.20h5.3" stroke="#0000ff" stroke-width="1.0" fill="none" opacity="0.85"/>
<polygon points="428.33,395.50 431.10,399.90 425.56,399.90" fill="none" stroke="#0000ff" stroke-width="2.0"/>

<polygon points="468.13,405.30 470.90,409.70 465.36,409.70" fill="none" stroke="#0000ff" stroke-width="2.0"/>

<polygon points="499.00,415.10 501.77,419.50 496.23,419.50" fill="none" stroke="#0000ff" stroke-width="2.0"/>

<polygon points="524.22,404.30 526.99,408.70 521.45,408.70" fill="none" stroke="#0000ff" stroke-width="2.0"/>

<polygon points="545.55,406.30 548.31,410.70 542.78,410.70" fill="none" stroke="#0000ff" stroke-width="2.0"/>

<polygon points="564.02,407.30 566.79,411.70 561.25,411.70" fill="none" stroke="#0000ff" stroke-width="2.0"/>

<polygon points="580.31,407.30 583.08,411.70 577.55,411.70" fill="none" stroke="#0000ff" stroke-width="2.0"/>

<polygon points="594.89,407.30 597.66,411.70 592.12,411.70" fill="none" stroke="#0000ff" stroke-width="2.0"/>

<polygon points="608.07,408.30 610.84,412.70 605.31,412.70" fill="none" stroke="#0000ff" stroke-width="2.0"/>

<polygon points="620.11,407.30 622.88,411.70 617.34,411.70" fill="none" stroke="#0000ff" stroke-width="2.0"/>

<polygon points="631.19,407.80 633.95,412.20 628.42,412.20" fill="none" stroke="#0000ff" stroke-width="2.0"/>

<polygon points="641.44,409.30 644.21,413.70 638.67,413.70" fill="none" stroke="#0000ff" stroke-width="2.0"/>

<polygon points="650.98,407.80 653.75,412.20 648.21,412.20" fill="none" stroke="#0000ff" stroke-width="2.0"/>

<polygon points="659.91,410.30 662.68,414.70 657.14,414.70" fill="none" stroke="#0000ff" stroke-width="2.0"/>

<polygon points="668.30,411.30 671.07,415.70 665.53,415.70" fill="none" stroke="#0000ff" stroke-width="2.0"/>

<polygon points="676.20,411.80 678.97,416.20 673.44,416.20" fill="none" stroke="#0000ff" stroke-width="2.0"/>
<path d="M428.33,381.50V379.20M425.68,379.20h5.3M428.33,388.90V391.20M425.68,391.20h5.3" stroke="#000080" stroke-width="1.0" fill="none" opacity="0.85"/>
<polygon points="428.33,383.50 431.10,387.90 425.56,387.90" fill="none" stroke="#000080" stroke-width="2.0"/>

<polygon points="468.13,402.10 470.90,406.50 465.36,406.50" fill="none" stroke="#000080" stroke-width="2.0"/>

<polygon points="499.00,413.00 501.77,417.40 496.23,417.40" fill="none" stroke="#000080" stroke-width="2.0"/>

<polygon points="524.22,402.80 526.99,407.20 521.45,407.20" fill="none" stroke="#000080" stroke-width="2.0"/>

<polygon points="545.55,405.40 548.31,409.80 542.78,409.80" fill="none" stroke="#000080" stroke-width="2.0"/>

<polygon points="564.02,407.20 566.79,411.60 561.25,411.60" fill="none" stroke="#000080" stroke-width="2.0"/>

<polygon points="580.31,406.80 583.08,411.20 577.55,411.20" fill="none" stroke="#000080" stroke-width="2.0"/>

<polygon points="594.89,405.70 597.66,410.10 592.12,410.10" fill="none" stroke="#000080" stroke-width="2.0"/>

<polygon points="608.07,407.80 610.84,412.20 605.31,412.20" fill="none" stroke="#000080" stroke-width="2.0"/>

<polygon points="620.11,407.20 622.88,411.60 617.34,411.60" fill="none" stroke="#000080" stroke-width="2.0"/>

<polygon points="631.19,407.20 633.95,411.60 628.42,411.60" fill="none" stroke="#000080" stroke-width="2.0"/>

<polygon points="641.44,408.70 644.21,413.10 638.67,413.10" fill="none" stroke="#000080" stroke-width="2.0"/>

<polygon points="650.98,407.20 653.75,411.60 648.21,411.60" fill="none" stroke="#000080" stroke-width="2.0"/>

<polygon points="659.91,410.30 662.68,414.70 657.14,414.70" fill="none" stroke="#000080" stroke-width="2.0"/>

<polygon points="668.30,411.30 671.07,415.70 665.53,415.70" fill="none" stroke="#000080" stroke-width="2.0"/>

<polygon points="676.20,411.80 678.97,416.20 673.44,416.20" fill="none" stroke="#000080" stroke-width="2.0"/>
<path d="M428.33,369.50V359.40M425.68,359.40h5.3M428.33,376.90V385.20M425.68,385.20h5.3" stroke="#8000ff" stroke-width="1.0" fill="none" opacity="0.85"/>
<polygon points="428.33,371.50 431.10,375.90 425.56,375.90" fill="none" stroke="#8000ff" stroke-width="2.0"/>

<polygon points="468.13,407.50 470.90,411.90 465.36,411.90" fill="none" stroke="#8000ff" stroke-width="2.0"/>

<polygon points="499.00,409.50 501.77,413.90 496.23,413.90" fill="none" stroke="#8000ff" stroke-width="2.0"/>

<polygon points="524.22,402.80 526.99,407.20 521.45,407.20" fill="none" stroke="#8000ff" stroke-width="2.0"/>

<polygon points="545.55,402.80 548.31,407.20 542.78,407.20" fill="none" stroke="#8000ff" stroke-width="2.0"/>

<polygon points="564.02,404.30 566.79,408.70 561.25,408.70" fill="none" stroke="#8000ff" stroke-width="2.0"/>

<polygon points="580.31,406.20 583.08,410.60 577.55,410.60" fill="none" stroke="#8000ff" stroke-width="2.0"/>

<polygon points="594.89,404.30 597.66,408.70 592.12,408.70" fill="none" stroke="#8000ff" stroke-width="2.0"/>

<polygon points="608.07,407.20 610.84,411.60 605.31,411.60" fill="none" stroke="#8000ff" stroke-width="2.0"/>

<polygon points="620.11,406.70 622.88,411.10 617.34,411.10" fill="none" stroke="#8000ff" stroke-width="2.0"/>

<polygon points="631.19,405.30 633.95,409.70 628.42,409.70" fill="none" stroke="#8000ff" stroke-width="2.0"/>

<polygon points="641.44,406.30 644.21,410.70 638.67,410.70" fill="none" stroke="#8000ff" stroke-width="2.0"/>

<polygon points="650.98,405.30 653.75,409.70 648.21,409.70" fill="none" stroke="#8000ff" stroke-width="2.0"/>

<polygon points="659.91,407.30 662.68,411.70 657.14,411.70" fill="none" stroke="#8000ff" stroke-width="2.0"/>

<polygon points="668.30,408.30 671.07,412.70 665.53,412.70" fill="none" stroke="#8000ff" stroke-width="2.0"/>

<polygon points="676.20,408.30 678.97,412.70 673.44,412.70" fill="none" stroke="#8000ff" stroke-width="2.0"/>
<path d="M428.33,376.70V374.40M425.68,374.40h5.3M428.33,384.10V386.40M425.68,386.40h5.3" stroke="#ff00ff" stroke-width="1.0" fill="none" opacity="0.85"/>
<polygon points="428.33,378.70 431.10,383.10 425.56,383.10" fill="none" stroke="#ff00ff" stroke-width="2.0"/>
<path d="M468.13,393.50V392.20M465.48,392.20h5.3M468.13,400.90V402.20M465.48,402.20h5.3" stroke="#ff00ff" stroke-width="1.0" fill="none" opacity="0.85"/>
<polygon points="468.13,395.50 470.90,399.90 465.36,399.90" fill="none" stroke="#ff00ff" stroke-width="2.0"/>

<polygon points="499.00,405.40 501.77,409.80 496.23,409.80" fill="none" stroke="#ff00ff" stroke-width="2.0"/>

<polygon points="524.22,398.70 526.99,403.10 521.45,403.10" fill="none" stroke="#ff00ff" stroke-width="2.0"/>

<polygon points="545.55,400.80 548.31,405.20 542.78,405.20" fill="none" stroke="#ff00ff" stroke-width="2.0"/>

<polygon points="564.02,402.10 566.79,406.50 561.25,406.50" fill="none" stroke="#ff00ff" stroke-width="2.0"/>

<polygon points="580.31,403.10 583.08,407.50 577.55,407.50" fill="none" stroke="#ff00ff" stroke-width="2.0"/>

<polygon points="594.89,402.10 597.66,406.50 592.12,406.50" fill="none" stroke="#ff00ff" stroke-width="2.0"/>

<polygon points="608.07,403.10 610.84,407.50 605.31,407.50" fill="none" stroke="#ff00ff" stroke-width="2.0"/>

<polygon points="620.11,402.60 622.88,407.00 617.34,407.00" fill="none" stroke="#ff00ff" stroke-width="2.0"/>

<polygon points="631.19,402.60 633.95,407.00 628.42,407.00" fill="none" stroke="#ff00ff" stroke-width="2.0"/>

<polygon points="641.44,403.60 644.21,408.00 638.67,408.00" fill="none" stroke="#ff00ff" stroke-width="2.0"/>

<polygon points="650.98,402.10 653.75,406.50 648.21,406.50" fill="none" stroke="#ff00ff" stroke-width="2.0"/>

<polygon points="659.91,404.60 662.68,409.00 657.14,409.00" fill="none" stroke="#ff00ff" stroke-width="2.0"/>

<polygon points="668.30,405.20 671.07,409.60 665.53,409.60" fill="none" stroke="#ff00ff" stroke-width="2.0"/>

<polygon points="676.20,404.60 678.97,409.00 673.44,409.00" fill="none" stroke="#ff00ff" stroke-width="2.0"/>
</g>
<line x1="89.40" y1="725.30" x2="116.24" y2="701.90" stroke="#ff0000" stroke-width="1.0" stroke-dasharray="1.2,3.2"/>
<line x1="116.24" y1="701.90" x2="143.08" y2="673.10" stroke="#ff8000" stroke-width="1.0" stroke-dasharray="1.2,3.2"/>
<line x1="143.08" y1="673.10" x2="169.92" y2="642.40" stroke="#00ff00" stroke-width="1.0" stroke-dasharray="1.2,3.2"/>
<line x1="169.92" y1="642.40" x2="196.76" y2="637.50" stroke="#008000" stroke-width="1.0" stroke-dasharray="1.2,3.2"/>
<line x1="196.76" y1="637.50" x2="223.60" y2="620.50" stroke="#008080" stroke-width="1.0" stroke-dasharray="1.2,3.2"/>
<line x1="223.60" y1="620.50" x2="250.44" y2="619.00" stroke="#00ffff" stroke-width="1.0" stroke-dasharray="1.2,3.2"/>
<line x1="250.44" y1="619.00" x2="277.28" y2="610.00" stroke="#0000ff" stroke-width="1.0" stroke-dasharray="1.2,3.2"/>
<line x1="277.28" y1="610.00" x2="304.12" y2="609.40" stroke="#000080" stroke-width="1.0" stroke-dasharray="1.2,3.2"/>
<line x1="304.12" y1="609.40" x2="330.96" y2="585.10" stroke="#8000ff" stroke-width="1.0" stroke-dasharray="1.2,3.2"/>
<line x1="89.40" y1="763.30" x2="116.24" y2="712.20" stroke="#ff0000" stroke-width="1.0"/>
<line x1="116.24" y1="712.20" x2="143.08" y2="668.10" stroke="#ff8000" stroke-width="1.0"/>
<line x1="143.08" y1="668.10" x2="169.92" y2="655.80" stroke="#00ff00" stroke-width="1.0"/>
<line x1="169.92" y1="655.80" x2="196.76" y2="625.30" stroke="#008000" stroke-width="1.0"/>
<line x1="196.76" y1="625.30" x2="223.60" y2="614.90" stroke="#008080" stroke-width="1.0"/>
<line x1="223.60" y1="614.90" x2="250.44" y2="606.20" stroke="#00ffff" stroke-width="1.0"/>
<line x1="250.44" y1="606.20" x2="277.28" y2="605.30" stroke="#0000ff" stroke-width="1.0"/>
<line x1="277.28" y1="605.30" x2="304.12" y2="604.70" stroke="#000080" stroke-width="1.0"/>
<line x1="304.12" y1="604.70" x2="330.96" y2="575.70" stroke="#8000ff" stroke-width="1.0"/>
<line x1="89.40" y1="720.90" x2="116.24" y2="689.10" stroke="#ff0000" stroke-width="1.0" stroke-dasharray="4,3"/>
<line x1="116.24" y1="689.10" x2="143.08" y2="655.90" stroke="#ff8000" stroke-width="1.0" stroke-dasharray="4,3"/>
<line x1="143.08" y1="655.90" x2="169.92" y2="647.40" stroke="#00ff00" stroke-width="1.0" stroke-dasharray="4,3"/>
<line x1="169.92" y1="647.40" x2="196.76" y2="638.50" stroke="#008000" stroke-width="1.0" stroke-dasharray="4,3"/>
<line x1="196.76" y1="638.50" x2="223.60" y2="636.50" stroke="#008080" stroke-width="1.0" stroke-dasharray="4,3"/>
<line x1="223.60" y1="636.50" x2="250.44" y2="627.50" stroke="#00ffff" stroke-width="1.0" stroke-dasharray="4,3"/>
<line x1="250.44" y1="627.50" x2="277.28" y2="616.60" stroke="#0000ff" stroke-width="1.0" stroke-dasharray="4,3"/>
<line x1="277.28" y1="616.60" x2="304.12" y2="618.10" stroke="#000080" stroke-width="1.0" stroke-dasharray="4,3"/>
<line x1="304.12" y1="618.10" x2="330.96" y2="613.50" stroke="#8000ff" stroke-width="1.0" stroke-dasharray="4,3"/>
<path d="M89.40,721.60V720.30M86.75,720.30h5.3M89.40,729.00V734.40M86.75,734.40h5.3" stroke="#ff0000" stroke-width="1.0" fill="none" opacity="0.85"/>
<polygon points="89.40,722.85 92.62,728.38 86.18,728.38" fill="#fff" stroke="#ff0000" stroke-width="1.25"/>
<path d="M89.40,717.20V716.40M86.75,716.40h5.3M89.40,724.60V725.90M86.75,725.90h5.3" stroke="#ff0000" stroke-width="1.0" fill="none" opacity="0.85"/>
<polygon points="89.40,719.20 92.17,723.60 86.63,723.60" fill="#fff" stroke="#ff0000" stroke-width="2.0"/>
<path d="M89.40,756.60V771.50M86.75,756.60h5.3M86.75,771.50h5.3" stroke="#ff0000" stroke-width="1.0" fill="none" opacity="0.85"/>
<polygon points="89.40,759.65 93.75,766.95 85.05,766.95" fill="#ff0000"/>
<path d="M116.24,698.20V697.40M113.59,697.40h5.3M116.24,705.60V706.40M113.59,706.40h5.3" stroke="#ff8000" stroke-width="1.0" fill="none" opacity="0.85"/>
<polygon points="116.24,699.45 119.46,704.98 113.02,704.98" fill="#fff" stroke="#ff8000" stroke-width="1.25"/>

<polygon points="116.24,687.40 119.01,691.80 113.47,691.80" fill="#fff" stroke="#ff8000" stroke-width="2.0"/>
<path d="M116.24,707.20V719.20M113.59,707.20h5.3M113.59,719.20h5.3" stroke="#ff8000" stroke-width="1.0" fill="none" opacity="0.85"/>
<polygon points="116.24,708.55 120.59,715.85 111.89,715.85" fill="#ff8000"/>

<polygon points="143.08,670.65 146.30,676.18 139.86,676.18" fill="#fff" stroke="#00ff00" stroke-width="1.25"/>

<polygon points="143.08,654.20 145.85,658.60 140.31,658.60" fill="#fff" stroke="#00ff00" stroke-width="2.0"/>
<path d="M143.08,663.10V675.10M140.43,663.10h5.3M140.43,675.10h5.3" stroke="#00ff00" stroke-width="1.0" fill="none" opacity="0.85"/>
<polygon points="143.08,664.45 147.43,671.75 138.73,671.75" fill="#00ff00"/>

<polygon points="169.92,639.95 173.14,645.48 166.70,645.48" fill="#fff" stroke="#008000" stroke-width="1.25"/>

<polygon points="169.92,645.70 172.69,650.10 167.15,650.10" fill="#fff" stroke="#008000" stroke-width="2.0"/>
<path d="M169.92,650.80V665.50M167.27,650.80h5.3M167.27,665.50h5.3" stroke="#008000" stroke-width="1.0" fill="none" opacity="0.85"/>
<polygon points="169.92,652.15 174.27,659.45 165.57,659.45" fill="#008000"/>

<polygon points="196.76,635.05 199.98,640.58 193.54,640.58" fill="#fff" stroke="#008080" stroke-width="1.25"/>

<polygon points="196.76,636.80 199.53,641.20 193.99,641.20" fill="#fff" stroke="#008080" stroke-width="2.0"/>
<path d="M196.76,618.80V630.30M194.11,618.80h5.3M194.11,630.30h5.3" stroke="#008080" stroke-width="1.0" fill="none" opacity="0.85"/>
<polygon points="196.76,621.65 201.11,628.95 192.41,628.95" fill="#008080"/>

<polygon points="223.60,618.05 226.82,623.58 220.38,623.58" fill="#fff" stroke="#00ffff" stroke-width="1.25"/>

<polygon points="223.60,634.80 226.37,639.20 220.83,639.20" fill="#fff" stroke="#00ffff" stroke-width="2.0"/>
<path d="M223.60,606.90V619.90M220.95,606.90h5.3M220.95,619.90h5.3" stroke="#00ffff" stroke-width="1.0" fill="none" opacity="0.85"/>
<polygon points="223.60,611.25 227.95,618.55 219.25,618.55" fill="#00ffff"/>

<polygon points="250.44,616.55 253.66,622.08 247.22,622.08" fill="#fff" stroke="#0000ff" stroke-width="1.25"/>

<polygon points="250.44,625.80 253.21,630.20 247.67,630.20" fill="#fff" stroke="#0000ff" stroke-width="2.0"/>
<path d="M250.44,595.70V611.20M247.79,595.70h5.3M247.79,611.20h5.3" stroke="#0000ff" stroke-width="1.0" fill="none" opacity="0.85"/>
<polygon points="250.44,602.55 254.79,609.85 246.09,609.85" fill="#0000ff"/>

<polygon points="277.28,607.55 280.50,613.08 274.06,613.08" fill="#fff" stroke="#000080" stroke-width="1.25"/>

<polygon points="277.28,614.90 280.05,619.30 274.51,619.30" fill="#fff" stroke="#000080" stroke-width="2.0"/>
<path d="M277.28,594.80V610.30M274.63,594.80h5.3M274.63,610.30h5.3" stroke="#000080" stroke-width="1.0" fill="none" opacity="0.85"/>
<polygon points="277.28,601.65 281.63,608.95 272.93,608.95" fill="#000080"/>

<polygon points="304.12,606.95 307.34,612.48 300.90,612.48" fill="#fff" stroke="#8000ff" stroke-width="1.25"/>
<path d="M304.12,621.80V624.10M301.47,624.10h5.3" stroke="#8000ff" stroke-width="1.0" fill="none" opacity="0.85"/>
<polygon points="304.12,616.40 306.89,620.80 301.35,620.80" fill="#fff" stroke="#8000ff" stroke-width="2.0"/>
<path d="M304.12,597.70V609.70M301.47,597.70h5.3M301.47,609.70h5.3" stroke="#8000ff" stroke-width="1.0" fill="none" opacity="0.85"/>
<polygon points="304.12,601.05 308.47,608.35 299.77,608.35" fill="#8000ff"/>
<path d="M330.96,588.80V591.30M328.31,591.30h5.3" stroke="#ff00ff" stroke-width="1.0" fill="none" opacity="0.85"/>
<polygon points="330.96,582.65 334.18,588.18 327.74,588.18" fill="#fff" stroke="#ff00ff" stroke-width="1.25"/>
<path d="M330.96,609.80V607.60M328.31,607.60h5.3" stroke="#ff00ff" stroke-width="1.0" fill="none" opacity="0.85"/>
<polygon points="330.96,611.80 333.73,616.20 328.19,616.20" fill="#fff" stroke="#ff00ff" stroke-width="2.0"/>
<path d="M330.96,568.50V580.70M328.31,568.50h5.3M328.31,580.70h5.3" stroke="#ff00ff" stroke-width="1.0" fill="none" opacity="0.85"/>
<polygon points="330.96,572.05 335.31,579.35 326.61,579.35" fill="#ff00ff"/>
<line x1="428.90" y1="623.30" x2="455.74" y2="612.60" stroke="#ff0000" stroke-width="1.0" stroke-dasharray="1.2,3.2"/>
<line x1="455.74" y1="612.60" x2="482.58" y2="609.70" stroke="#ff8000" stroke-width="1.0" stroke-dasharray="1.2,3.2"/>
<line x1="482.58" y1="609.70" x2="509.42" y2="596.00" stroke="#00ff00" stroke-width="1.0" stroke-dasharray="1.2,3.2"/>
<line x1="509.42" y1="596.00" x2="536.26" y2="589.30" stroke="#008000" stroke-width="1.0" stroke-dasharray="1.2,3.2"/>
<line x1="536.26" y1="589.30" x2="563.10" y2="587.80" stroke="#008080" stroke-width="1.0" stroke-dasharray="1.2,3.2"/>
<line x1="563.10" y1="587.80" x2="589.94" y2="585.70" stroke="#00ffff" stroke-width="1.0" stroke-dasharray="1.2,3.2"/>
<line x1="589.94" y1="585.70" x2="616.78" y2="582.20" stroke="#0000ff" stroke-width="1.0" stroke-dasharray="1.2,3.2"/>
<line x1="616.78" y1="582.20" x2="643.62" y2="583.70" stroke="#000080" stroke-width="1.0" stroke-dasharray="1.2,3.2"/>
<line x1="643.62" y1="583.70" x2="670.46" y2="592.40" stroke="#8000ff" stroke-width="1.0" stroke-dasharray="1.2,3.2"/>
<line x1="428.90" y1="676.30" x2="455.74" y2="658.30" stroke="#ff0000" stroke-width="1.0"/>
<line x1="455.74" y1="658.30" x2="482.58" y2="624.00" stroke="#ff8000" stroke-width="1.0"/>
<line x1="482.58" y1="624.00" x2="509.42" y2="620.40" stroke="#00ff00" stroke-width="1.0"/>
<line x1="509.42" y1="620.40" x2="536.26" y2="608.00" stroke="#008000" stroke-width="1.0"/>
<line x1="536.26" y1="608.00" x2="563.10" y2="603.30" stroke="#008080" stroke-width="1.0"/>
<line x1="563.10" y1="603.30" x2="589.94" y2="596.40" stroke="#00ffff" stroke-width="1.0"/>
<line x1="589.94" y1="596.40" x2="616.78" y2="595.70" stroke="#0000ff" stroke-width="1.0"/>
<line x1="616.78" y1="595.70" x2="643.62" y2="609.50" stroke="#000080" stroke-width="1.0"/>
<line x1="643.62" y1="609.50" x2="670.46" y2="605.10" stroke="#8000ff" stroke-width="1.0"/>
<line x1="428.90" y1="643.00" x2="455.74" y2="635.40" stroke="#ff0000" stroke-width="1.0" stroke-dasharray="4,3"/>
<line x1="455.74" y1="635.40" x2="482.58" y2="631.00" stroke="#ff8000" stroke-width="1.0" stroke-dasharray="4,3"/>
<line x1="482.58" y1="631.00" x2="509.42" y2="622.60" stroke="#00ff00" stroke-width="1.0" stroke-dasharray="4,3"/>
<line x1="509.42" y1="622.60" x2="536.26" y2="610.90" stroke="#008000" stroke-width="1.0" stroke-dasharray="4,3"/>
<line x1="536.26" y1="610.90" x2="563.10" y2="605.80" stroke="#008080" stroke-width="1.0" stroke-dasharray="4,3"/>
<line x1="563.10" y1="605.80" x2="589.94" y2="609.10" stroke="#00ffff" stroke-width="1.0" stroke-dasharray="4,3"/>
<line x1="589.94" y1="609.10" x2="616.78" y2="612.00" stroke="#0000ff" stroke-width="1.0" stroke-dasharray="4,3"/>
<line x1="616.78" y1="612.00" x2="643.62" y2="617.30" stroke="#000080" stroke-width="1.0" stroke-dasharray="4,3"/>
<line x1="643.62" y1="617.30" x2="670.46" y2="617.30" stroke="#8000ff" stroke-width="1.0" stroke-dasharray="4,3"/>
<polygon points="428.90,620.85 432.12,626.38 425.68,626.38" fill="#fff" stroke="#ff0000" stroke-width="1.25"/>
<polygon points="428.90,641.30 431.67,645.70 426.13,645.70" fill="#fff" stroke="#ff0000" stroke-width="2.0"/>
<path d="M428.90,670.40V684.60M426.25,670.40h5.3M426.25,684.60h5.3" stroke="#ff0000" stroke-width="1.0" fill="none" opacity="0.85"/>
<polygon points="428.90,672.65 433.25,679.95 424.55,679.95" fill="#ff0000"/>
<polygon points="455.74,610.15 458.96,615.68 452.52,615.68" fill="#fff" stroke="#ff8000" stroke-width="1.25"/>
<polygon points="455.74,633.70 458.51,638.10 452.97,638.10" fill="#fff" stroke="#ff8000" stroke-width="2.0"/>
<path d="M455.74,652.90V666.00M453.09,652.90h5.3M453.09,666.00h5.3" stroke="#ff8000" stroke-width="1.0" fill="none" opacity="0.85"/>
<polygon points="455.74,654.65 460.09,661.95 451.39,661.95" fill="#ff8000"/>
<polygon points="482.58,607.25 485.80,612.78 479.36,612.78" fill="#fff" stroke="#00ff00" stroke-width="1.25"/>
<polygon points="482.58,629.30 485.35,633.70 479.81,633.70" fill="#fff" stroke="#00ff00" stroke-width="2.0"/>
<path d="M482.58,619.60V628.00M479.93,619.60h5.3M479.93,628.00h5.3" stroke="#00ff00" stroke-width="1.0" fill="none" opacity="0.85"/>
<polygon points="482.58,620.35 486.93,627.65 478.23,627.65" fill="#00ff00"/>
<polygon points="509.42,593.55 512.64,599.08 506.20,599.08" fill="#fff" stroke="#008000" stroke-width="1.25"/>
<polygon points="509.42,620.90 512.19,625.30 506.65,625.30" fill="#fff" stroke="#008000" stroke-width="2.0"/>
<path d="M509.42,616.40V624.40M506.77,616.40h5.3M506.77,624.40h5.3" stroke="#008000" stroke-width="1.0" fill="none" opacity="0.85"/>
<polygon points="509.42,616.75 513.77,624.05 505.07,624.05" fill="#008000"/>
<polygon points="536.26,586.85 539.48,592.38 533.04,592.38" fill="#fff" stroke="#008080" stroke-width="1.25"/>
<polygon points="536.26,609.20 539.03,613.60 533.49,613.60" fill="#fff" stroke="#008080" stroke-width="2.0"/>
<path d="M536.26,604.00V612.00M533.61,604.00h5.3M533.61,612.00h5.3" stroke="#008080" stroke-width="1.0" fill="none" opacity="0.85"/>
<polygon points="536.26,604.35 540.61,611.65 531.91,611.65" fill="#008080"/>
<polygon points="563.10,585.35 566.32,590.88 559.88,590.88" fill="#fff" stroke="#00ffff" stroke-width="1.25"/>
<polygon points="563.10,604.10 565.87,608.50 560.33,608.50" fill="#fff" stroke="#00ffff" stroke-width="2.0"/>
<path d="M563.10,599.30V607.30M560.45,599.30h5.3M560.45,607.30h5.3" stroke="#00ffff" stroke-width="1.0" fill="none" opacity="0.85"/>
<polygon points="563.10,599.65 567.45,606.95 558.75,606.95" fill="#00ffff"/>
<polygon points="589.94,583.25 593.16,588.78 586.72,588.78" fill="#fff" stroke="#0000ff" stroke-width="1.25"/>
<polygon points="589.94,607.40 592.71,611.80 587.17,611.80" fill="#fff" stroke="#0000ff" stroke-width="2.0"/>
<path d="M589.94,592.40V600.40M587.29,592.40h5.3M587.29,600.40h5.3" stroke="#0000ff" stroke-width="1.0" fill="none" opacity="0.85"/>
<polygon points="589.94,592.75 594.29,600.05 585.59,600.05" fill="#0000ff"/>
<polygon points="616.78,579.75 620.00,585.28 613.56,585.28" fill="#fff" stroke="#000080" stroke-width="1.25"/>
<polygon points="616.78,610.30 619.55,614.70 614.01,614.70" fill="#fff" stroke="#000080" stroke-width="2.0"/>
<path d="M616.78,589.80V603.70M614.13,589.80h5.3M614.13,603.70h5.3" stroke="#000080" stroke-width="1.0" fill="none" opacity="0.85"/>
<polygon points="616.78,592.05 621.13,599.35 612.43,599.35" fill="#000080"/>
<polygon points="643.62,581.25 646.84,586.78 640.40,586.78" fill="#fff" stroke="#8000ff" stroke-width="1.25"/>
<polygon points="643.62,615.60 646.39,620.00 640.85,620.00" fill="#fff" stroke="#8000ff" stroke-width="2.0"/>
<path d="M643.62,605.50V613.50M640.97,605.50h5.3M640.97,613.50h5.3" stroke="#8000ff" stroke-width="1.0" fill="none" opacity="0.85"/>
<polygon points="643.62,605.85 647.97,613.15 639.27,613.15" fill="#8000ff"/>
<polygon points="670.46,589.95 673.68,595.48 667.24,595.48" fill="#fff" stroke="#ff00ff" stroke-width="1.25"/>
<polygon points="670.46,615.60 673.23,620.00 667.69,620.00" fill="#fff" stroke="#ff00ff" stroke-width="2.0"/>
<path d="M670.46,600.00V612.40M667.81,600.00h5.3M667.81,612.40h5.3" stroke="#ff00ff" stroke-width="1.0" fill="none" opacity="0.85"/>
<polygon points="670.46,601.45 674.81,608.75 666.11,608.75" fill="#ff00ff"/>
<polygon points="242.30,410.05 245.52,415.57 239.08,415.57" fill="none" stroke="#ff0000" stroke-width="1.25"/>
<text x="260.06" y="417.60" font-size="13.7" text-anchor="start" font-weight="normal" fill="#000" >8</text>
<text x="278.95" y="417.60" font-size="13.7" text-anchor="start" font-weight="normal" fill="#000" >(Closest)</text>
<polygon points="242.30,426.37 245.52,431.89 239.08,431.89" fill="none" stroke="#ff8000" stroke-width="1.25"/>
<path transform="translate(260.06,433.92) scale(0.00669,-0.00643)" d="M763 0H583V1147C540 1106 483 1064 413 1023C343 982 280 951 224 930V1104C325 1151 413 1208 489 1275C565 1342 619 1407 651 1466H763Z" fill="#000"/><text x="267.68" y="433.92" font-size="13.7" fill="#000" xml:space="preserve">0</text>
<polygon points="298.20,426.37 301.42,431.89 294.98,431.89" fill="none" stroke="#00ff00" stroke-width="1.25"/>
<path transform="translate(316.36,433.92) scale(0.00669,-0.00643)" d="M763 0H583V1147C540 1106 483 1064 413 1023C343 982 280 951 224 930V1104C325 1151 413 1208 489 1275C565 1342 619 1407 651 1466H763Z" fill="#000"/><text x="323.98" y="433.92" font-size="13.7" fill="#000" xml:space="preserve">3</text>
<polygon points="242.30,442.69 245.52,448.21 239.08,448.21" fill="none" stroke="#008000" stroke-width="1.25"/>
<path transform="translate(260.06,450.24) scale(0.00669,-0.00643)" d="M763 0H583V1147C540 1106 483 1064 413 1023C343 982 280 951 224 930V1104C325 1151 413 1208 489 1275C565 1342 619 1407 651 1466H763Z" fill="#000"/><text x="267.68" y="450.24" font-size="13.7" fill="#000" xml:space="preserve">5</text>
<polygon points="298.20,442.69 301.42,448.21 294.98,448.21" fill="none" stroke="#008080" stroke-width="1.25"/>
<path transform="translate(316.36,450.24) scale(0.00669,-0.00643)" d="M763 0H583V1147C540 1106 483 1064 413 1023C343 982 280 951 224 930V1104C325 1151 413 1208 489 1275C565 1342 619 1407 651 1466H763Z" fill="#000"/><text x="323.98" y="450.24" font-size="13.7" fill="#000" xml:space="preserve">7</text>
<polygon points="242.30,459.01 245.52,464.53 239.08,464.53" fill="none" stroke="#00ffff" stroke-width="1.25"/>
<path transform="translate(260.06,466.56) scale(0.00669,-0.00643)" d="M763 0H583V1147C540 1106 483 1064 413 1023C343 982 280 951 224 930V1104C325 1151 413 1208 489 1275C565 1342 619 1407 651 1466H763Z" fill="#000"/><text x="267.68" y="466.56" font-size="13.7" fill="#000" xml:space="preserve">9</text>
<polygon points="298.20,459.01 301.42,464.53 294.98,464.53" fill="none" stroke="#0000ff" stroke-width="1.25"/>
<text x="316.36" y="466.56" font-size="13.7" fill="#000" xml:space="preserve">2</text><path transform="translate(323.98,466.56) scale(0.00669,-0.00643)" d="M763 0H583V1147C540 1106 483 1064 413 1023C343 982 280 951 224 930V1104C325 1151 413 1208 489 1275C565 1342 619 1407 651 1466H763Z" fill="#000"/>
<polygon points="242.30,475.33 245.52,480.85 239.08,480.85" fill="none" stroke="#000080" stroke-width="1.25"/>
<text x="260.06" y="482.88" font-size="13.7" text-anchor="start" font-weight="normal" fill="#000" >23</text>
<polygon points="298.20,475.33 301.42,480.85 294.98,480.85" fill="none" stroke="#8000ff" stroke-width="1.25"/>
<text x="316.36" y="482.88" font-size="13.7" text-anchor="start" font-weight="normal" fill="#000" >25</text>
<polygon points="242.30,491.65 245.52,497.18 239.08,497.18" fill="none" stroke="#ff00ff" stroke-width="1.25"/>
<text x="260.06" y="499.20" font-size="13.7" text-anchor="start" font-weight="normal" fill="#000" >27</text>
<text x="278.95" y="499.20" font-size="13.7" text-anchor="start" font-weight="normal" fill="#000" >(Farthest)</text>
<line x1="245" y1="723.3" x2="282.5" y2="723.3" stroke="#ff0000" stroke-width="1" stroke-dasharray="1.2,3.2"/>
<line x1="245" y1="742.9" x2="282.5" y2="742.9" stroke="#ff0000" stroke-width="1"/>
<line x1="245" y1="762.8" x2="282.5" y2="762.8" stroke="#ff0000" stroke-width="1" stroke-dasharray="4,3"/>
<polygon points="264.30,718.25 269.13,726.20 259.47,726.20" fill="#fff" stroke="#ff0000" stroke-width="1.7"/>
<polygon points="264.30,736.15 270.60,746.65 258.00,746.65" fill="#ff0000"/>
<polygon points="264.30,758.65 268.35,765.25 260.25,765.25" fill="#fff" stroke="#ff0000" stroke-width="2.6"/>
<text x="287.27" y="728.90" font-size="16.2" text-anchor="start" font-weight="normal" fill="#000" >0.5:0</text>
<text x="287.27" y="748.50" font-size="16.2" text-anchor="start" font-weight="normal" fill="#000" >0.65:0</text>
<text x="287.27" y="768.40" font-size="16.2" text-anchor="start" font-weight="normal" fill="#000" >0.5:6.4</text>
<line x1="576.7" y1="722.3" x2="614.1" y2="722.3" stroke="#ff0000" stroke-width="1" stroke-dasharray="1.2,3.2"/>
<line x1="576.7" y1="742.1" x2="614.1" y2="742.1" stroke="#ff0000" stroke-width="1"/>
<line x1="576.7" y1="762.1" x2="614.1" y2="762.1" stroke="#ff0000" stroke-width="1" stroke-dasharray="4,3"/>
<polygon points="595.60,717.25 600.43,725.20 590.77,725.20" fill="#fff" stroke="#ff0000" stroke-width="1.7"/>
<polygon points="595.60,735.35 601.90,745.85 589.30,745.85" fill="#ff0000"/>
<polygon points="595.60,757.95 599.65,764.55 591.55,764.55" fill="#fff" stroke="#ff0000" stroke-width="2.6"/>
<text x="618.07" y="727.90" font-size="16.2" text-anchor="start" font-weight="normal" fill="#000" >0.5:0</text>
<text x="618.07" y="747.70" font-size="16.2" text-anchor="start" font-weight="normal" fill="#000" >0.65:0</text>
<text x="618.07" y="767.70" font-size="16.2" text-anchor="start" font-weight="normal" fill="#000" >0.5:6.4</text>
</svg>
</body></html>
